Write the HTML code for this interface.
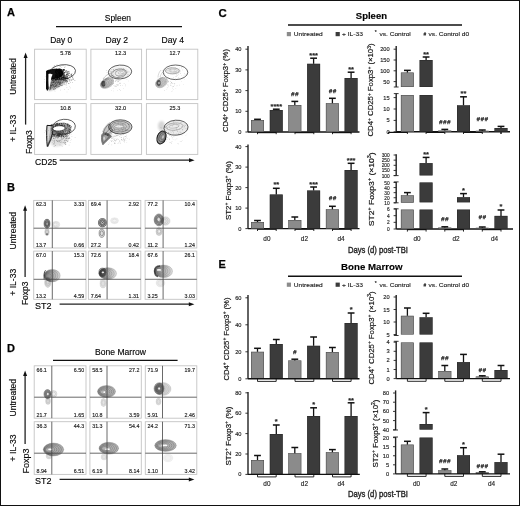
<!DOCTYPE html>
<html><head><meta charset="utf-8"><style>
html,body{margin:0;padding:0;background:#fff;}
.fig{position:relative;width:520px;height:506px;box-sizing:border-box;border:1px solid #111;overflow:hidden;background:#fff;filter:grayscale(1) blur(0.3px);}
svg{position:absolute;left:-1px;top:-1px;}
text{font-family:"Liberation Sans", sans-serif;}
</style></head><body>
<div class="fig"><svg width="520" height="506" viewBox="0 0 520 506" font-family='"Liberation Sans", sans-serif'>
<defs>
<linearGradient id="gLR" x1="0" y1="0" x2="1" y2="0"><stop offset="0" stop-color="#000" stop-opacity="0.5"/><stop offset="0.45" stop-color="#000" stop-opacity="0.28"/><stop offset="1" stop-color="#000" stop-opacity="0.04"/></linearGradient>
<filter id="b05" x="-50%" y="-50%" width="200%" height="200%"><feGaussianBlur stdDeviation="0.5"/></filter>
<filter id="b1" x="-50%" y="-50%" width="200%" height="200%"><feGaussianBlur stdDeviation="1"/></filter>
<filter id="b15" x="-50%" y="-50%" width="200%" height="200%"><feGaussianBlur stdDeviation="1.5"/></filter>
<filter id="b2" x="-50%" y="-50%" width="200%" height="200%"><feGaussianBlur stdDeviation="2"/></filter>
<filter id="b3" x="-50%" y="-50%" width="200%" height="200%"><feGaussianBlur stdDeviation="3"/></filter>
<filter id="grain" x="-20%" y="-20%" width="140%" height="140%" filterUnits="objectBoundingBox">
<feTurbulence type="fractalNoise" baseFrequency="1.1" numOctaves="1" seed="7" result="n"/>
<feColorMatrix in="n" type="matrix" values="0 0 0 0 0  0 0 0 0 0  0 0 0 0 0  0 0 0 3 -1.1" result="nm"/>
<feComposite in="SourceGraphic" in2="nm" operator="in"/>
</filter>
<filter id="gr" x="-30%" y="-30%" width="160%" height="160%">
<feGaussianBlur in="SourceGraphic" stdDeviation="1.1" result="b"/>
<feTurbulence type="fractalNoise" baseFrequency="2.2" numOctaves="1" seed="3" result="n"/>
<feColorMatrix in="n" type="matrix" values="0 0 0 0 0  0 0 0 0 0  0 0 0 0 0  0 0 0 2.2 -0.6" result="nm"/>
<feComposite in="b" in2="nm" operator="in"/>
</filter>
</defs>
<text x="6.9" y="16.1" font-size="11" stroke="#111" stroke-width="0.25" font-weight="bold" >A</text>
<text x="104.8" y="21.2" font-size="8.6" stroke="#111" stroke-width="0.14" textLength="26.2" lengthAdjust="spacingAndGlyphs" >Spleen</text>
<line x1="56" y1="26.5" x2="182" y2="26.5" stroke="#111" stroke-width="1.25"/>
<text x="50.2" y="42.9" font-size="8.4" stroke="#111" stroke-width="0.14" textLength="21.9" lengthAdjust="spacingAndGlyphs" >Day 0</text>
<text x="105.6" y="42.9" font-size="8.4" stroke="#111" stroke-width="0.14" textLength="22.4" lengthAdjust="spacingAndGlyphs" >Day 2</text>
<text x="161.6" y="42.9" font-size="8.4" stroke="#111" stroke-width="0.14" textLength="22.4" lengthAdjust="spacingAndGlyphs" >Day 4</text>
<rect x="34.6" y="49.2" width="51.6" height="50.39999999999999" fill="none" stroke="#c4c4c4" stroke-width="0.9"/>
<rect x="90.9" y="49.2" width="50.69999999999999" height="50.39999999999999" fill="none" stroke="#c4c4c4" stroke-width="0.9"/>
<rect x="146.4" y="49.2" width="51.400000000000006" height="50.39999999999999" fill="none" stroke="#c4c4c4" stroke-width="0.9"/>
<rect x="34.6" y="103.6" width="51.6" height="50.80000000000001" fill="none" stroke="#c4c4c4" stroke-width="0.9"/>
<rect x="90.9" y="103.6" width="50.69999999999999" height="50.80000000000001" fill="none" stroke="#c4c4c4" stroke-width="0.9"/>
<rect x="146.4" y="103.6" width="51.400000000000006" height="50.80000000000001" fill="none" stroke="#c4c4c4" stroke-width="0.9"/>
<line x1="25.6" y1="56.4" x2="25.6" y2="124.6" stroke="#222" stroke-width="1.3"/>
<path d="M23.6,58.0 L25.6,52.4 L27.6,58.0 Z" fill="#111"/>
<text x="15.988" y="76.4" font-size="8.3" stroke="#111" stroke-width="0.14" text-anchor="middle" textLength="36.5" lengthAdjust="spacingAndGlyphs" transform="rotate(-90 15.988 76.4)" >Untreated</text>
<text x="15.952" y="128.3" font-size="8.2" stroke="#111" stroke-width="0.14" text-anchor="middle" textLength="27" lengthAdjust="spacingAndGlyphs" transform="rotate(-90 15.952 128.3)" >+ IL-33</text>
<text x="31.552" y="142.1" font-size="8.2" stroke="#111" stroke-width="0.14" text-anchor="middle" textLength="23.8" lengthAdjust="spacingAndGlyphs" transform="rotate(-90 31.552 142.1)" >Foxp3</text>
<text x="35" y="165.2" font-size="8.5" stroke="#111" stroke-width="0.14" textLength="22" lengthAdjust="spacingAndGlyphs" >CD25</text>
<line x1="59.6" y1="160.2" x2="190.6" y2="160.2" stroke="#222" stroke-width="1.3"/>
<path d="M189.0,158.2 L194.6,160.2 L189.0,162.2 Z" fill="#111"/>
<text x="60.2" y="55.1" font-size="5.3" stroke="#1a1a1a" stroke-width="0.14" textLength="10.700000000000003" lengthAdjust="spacingAndGlyphs" fill="#1a1a1a" >5.78</text>
<text x="115.1" y="55.1" font-size="5.3" stroke="#1a1a1a" stroke-width="0.14" textLength="11.100000000000009" lengthAdjust="spacingAndGlyphs" fill="#1a1a1a" >12.3</text>
<text x="169.6" y="55.1" font-size="5.3" stroke="#1a1a1a" stroke-width="0.14" textLength="10.599999999999994" lengthAdjust="spacingAndGlyphs" fill="#1a1a1a" >12.7</text>
<text x="60.2" y="109.5" font-size="5.3" stroke="#1a1a1a" stroke-width="0.14" textLength="10.700000000000003" lengthAdjust="spacingAndGlyphs" fill="#1a1a1a" >10.8</text>
<text x="115.1" y="109.5" font-size="5.3" stroke="#1a1a1a" stroke-width="0.14" textLength="11.100000000000009" lengthAdjust="spacingAndGlyphs" fill="#1a1a1a" >32.0</text>
<text x="169.6" y="109.5" font-size="5.3" stroke="#1a1a1a" stroke-width="0.14" textLength="10.599999999999994" lengthAdjust="spacingAndGlyphs" fill="#1a1a1a" >25.3</text>
<path d="M62.6,72.1h0.6v0.6h-0.6zM58.9,84.3h0.6v0.6h-0.6zM50.9,72.8h0.6v0.6h-0.6zM53.2,85.0h0.6v0.6h-0.6zM46.8,87.0h0.6v0.6h-0.6zM55.7,79.3h0.6v0.6h-0.6zM54.4,83.6h0.6v0.6h-0.6zM56.9,72.4h0.6v0.6h-0.6zM57.8,74.9h0.6v0.6h-0.6zM65.8,84.3h0.6v0.6h-0.6zM72.2,77.3h0.6v0.6h-0.6zM56.1,78.0h0.6v0.6h-0.6zM56.9,84.4h0.6v0.6h-0.6zM44.2,79.1h0.6v0.6h-0.6zM61.1,76.0h0.6v0.6h-0.6zM44.3,81.7h0.6v0.6h-0.6zM48.8,84.8h0.6v0.6h-0.6zM67.3,76.4h0.6v0.6h-0.6zM64.9,79.4h0.6v0.6h-0.6zM60.0,89.8h0.6v0.6h-0.6zM54.0,89.6h0.6v0.6h-0.6zM66.1,84.8h0.6v0.6h-0.6zM45.0,76.0h0.6v0.6h-0.6zM66.6,87.1h0.6v0.6h-0.6zM69.9,87.6h0.6v0.6h-0.6zM48.5,71.6h0.6v0.6h-0.6zM69.4,86.2h0.6v0.6h-0.6zM72.6,78.6h0.6v0.6h-0.6zM54.8,68.8h0.6v0.6h-0.6zM61.6,84.9h0.6v0.6h-0.6zM55.2,68.5h0.6v0.6h-0.6zM52.9,88.4h0.6v0.6h-0.6zM52.0,72.3h0.6v0.6h-0.6zM72.8,75.3h0.6v0.6h-0.6zM47.1,84.0h0.6v0.6h-0.6zM64.3,89.3h0.6v0.6h-0.6zM58.7,81.8h0.6v0.6h-0.6zM69.7,73.2h0.6v0.6h-0.6zM52.7,84.2h0.6v0.6h-0.6zM61.7,80.9h0.6v0.6h-0.6zM54.7,91.4h0.6v0.6h-0.6zM53.2,84.7h0.6v0.6h-0.6zM72.6,77.4h0.6v0.6h-0.6zM47.9,75.9h0.6v0.6h-0.6zM55.8,78.6h0.6v0.6h-0.6zM65.3,84.6h0.6v0.6h-0.6zM66.0,76.5h0.6v0.6h-0.6zM65.2,81.3h0.6v0.6h-0.6zM48.1,81.2h0.6v0.6h-0.6zM54.2,84.6h0.6v0.6h-0.6zM67.5,73.3h0.6v0.6h-0.6zM57.9,78.8h0.6v0.6h-0.6zM67.7,78.4h0.6v0.6h-0.6zM65.3,74.0h0.6v0.6h-0.6zM66.7,91.7h0.6v0.6h-0.6zM68.7,79.1h0.6v0.6h-0.6zM45.9,77.7h0.6v0.6h-0.6zM58.5,74.1h0.6v0.6h-0.6zM63.7,70.7h0.6v0.6h-0.6zM67.9,89.3h0.6v0.6h-0.6zM46.0,85.0h0.6v0.6h-0.6zM52.5,83.6h0.6v0.6h-0.6zM69.5,75.8h0.6v0.6h-0.6zM67.4,70.8h0.6v0.6h-0.6zM66.8,77.8h0.6v0.6h-0.6zM52.5,73.2h0.6v0.6h-0.6zM50.9,87.7h0.6v0.6h-0.6zM47.1,73.0h0.6v0.6h-0.6zM50.2,71.1h0.6v0.6h-0.6zM67.4,82.3h0.6v0.6h-0.6z" fill="#000" opacity="0.22"/>
<path d="M103.4,82.8h0.6v0.6h-0.6zM104.1,85.1h0.6v0.6h-0.6zM117.2,77.2h0.6v0.6h-0.6zM117.5,81.6h0.6v0.6h-0.6zM100.3,80.7h0.6v0.6h-0.6zM117.6,80.5h0.6v0.6h-0.6zM125.4,85.6h0.6v0.6h-0.6zM110.3,73.4h0.6v0.6h-0.6zM102.8,87.4h0.6v0.6h-0.6zM119.7,82.6h0.6v0.6h-0.6zM112.3,80.0h0.6v0.6h-0.6zM105.7,80.7h0.6v0.6h-0.6zM103.4,82.9h0.6v0.6h-0.6zM117.9,84.1h0.6v0.6h-0.6zM106.4,70.2h0.6v0.6h-0.6zM109.0,84.5h0.6v0.6h-0.6zM114.3,85.9h0.6v0.6h-0.6zM111.9,77.6h0.6v0.6h-0.6zM105.2,82.1h0.6v0.6h-0.6zM117.9,78.4h0.6v0.6h-0.6zM115.7,78.6h0.6v0.6h-0.6zM119.1,89.3h0.6v0.6h-0.6zM123.8,83.3h0.6v0.6h-0.6zM113.1,90.7h0.6v0.6h-0.6zM112.4,83.0h0.6v0.6h-0.6zM125.1,84.4h0.6v0.6h-0.6zM110.7,85.8h0.6v0.6h-0.6zM117.0,90.0h0.6v0.6h-0.6zM117.7,80.8h0.6v0.6h-0.6zM128.2,80.7h0.6v0.6h-0.6zM111.0,90.5h0.6v0.6h-0.6zM125.5,77.2h0.6v0.6h-0.6zM106.6,84.4h0.6v0.6h-0.6zM112.4,83.9h0.6v0.6h-0.6zM105.6,78.0h0.6v0.6h-0.6zM103.3,79.5h0.6v0.6h-0.6zM105.9,69.9h0.6v0.6h-0.6zM110.7,71.6h0.6v0.6h-0.6zM111.5,75.6h0.6v0.6h-0.6zM120.8,77.9h0.6v0.6h-0.6zM106.3,72.5h0.6v0.6h-0.6zM107.9,85.8h0.6v0.6h-0.6zM105.0,79.2h0.6v0.6h-0.6zM123.2,87.9h0.6v0.6h-0.6zM112.9,88.2h0.6v0.6h-0.6zM118.3,73.4h0.6v0.6h-0.6zM122.7,77.4h0.6v0.6h-0.6zM126.6,79.3h0.6v0.6h-0.6zM105.6,83.6h0.6v0.6h-0.6zM120.1,90.1h0.6v0.6h-0.6zM118.1,79.4h0.6v0.6h-0.6zM124.1,74.6h0.6v0.6h-0.6zM122.4,85.5h0.6v0.6h-0.6zM103.3,78.8h0.6v0.6h-0.6zM117.1,79.6h0.6v0.6h-0.6z" fill="#000" opacity="0.2"/>
<path d="M184.4,79.0h0.6v0.6h-0.6zM176.6,85.6h0.6v0.6h-0.6zM173.1,70.9h0.6v0.6h-0.6zM166.5,89.4h0.6v0.6h-0.6zM161.8,70.6h0.6v0.6h-0.6zM158.8,80.6h0.6v0.6h-0.6zM160.5,77.8h0.6v0.6h-0.6zM177.0,85.4h0.6v0.6h-0.6zM167.5,86.9h0.6v0.6h-0.6zM172.2,87.8h0.6v0.6h-0.6zM162.5,76.9h0.6v0.6h-0.6zM172.4,90.7h0.6v0.6h-0.6zM173.6,79.4h0.6v0.6h-0.6zM162.5,74.8h0.6v0.6h-0.6zM170.9,85.0h0.6v0.6h-0.6zM163.9,79.6h0.6v0.6h-0.6zM159.4,78.1h0.6v0.6h-0.6zM162.6,70.4h0.6v0.6h-0.6zM179.4,84.8h0.6v0.6h-0.6zM157.7,79.6h0.6v0.6h-0.6zM171.9,86.5h0.6v0.6h-0.6zM176.3,75.0h0.6v0.6h-0.6zM171.5,82.3h0.6v0.6h-0.6zM166.8,87.7h0.6v0.6h-0.6zM168.3,86.0h0.6v0.6h-0.6zM156.9,78.7h0.6v0.6h-0.6zM156.3,83.5h0.6v0.6h-0.6zM181.2,81.0h0.6v0.6h-0.6zM172.0,82.9h0.6v0.6h-0.6zM161.9,77.3h0.6v0.6h-0.6zM172.4,83.5h0.6v0.6h-0.6zM166.4,79.5h0.6v0.6h-0.6zM164.9,81.3h0.6v0.6h-0.6zM175.3,75.9h0.6v0.6h-0.6zM175.5,88.4h0.6v0.6h-0.6zM171.1,91.5h0.6v0.6h-0.6zM164.3,90.1h0.6v0.6h-0.6zM160.5,76.7h0.6v0.6h-0.6zM173.4,88.9h0.6v0.6h-0.6zM183.3,84.4h0.6v0.6h-0.6zM165.4,76.0h0.6v0.6h-0.6zM173.9,69.6h0.6v0.6h-0.6zM173.8,71.9h0.6v0.6h-0.6zM167.9,74.9h0.6v0.6h-0.6zM181.1,74.9h0.6v0.6h-0.6z" fill="#000" opacity="0.18"/>
<path d="M67.4,126.9h0.6v0.6h-0.6zM54.6,139.6h0.6v0.6h-0.6zM47.8,138.0h0.6v0.6h-0.6zM54.6,137.8h0.6v0.6h-0.6zM71.6,136.1h0.6v0.6h-0.6zM56.5,129.4h0.6v0.6h-0.6zM63.9,137.3h0.6v0.6h-0.6zM57.1,133.1h0.6v0.6h-0.6zM61.2,127.7h0.6v0.6h-0.6zM49.8,135.8h0.6v0.6h-0.6zM47.2,136.5h0.6v0.6h-0.6zM69.7,142.5h0.6v0.6h-0.6zM52.1,131.8h0.6v0.6h-0.6zM73.5,130.1h0.6v0.6h-0.6zM65.4,141.9h0.6v0.6h-0.6zM61.5,137.5h0.6v0.6h-0.6zM49.7,134.6h0.6v0.6h-0.6zM45.3,130.8h0.6v0.6h-0.6zM48.6,125.2h0.6v0.6h-0.6zM64.0,123.2h0.6v0.6h-0.6zM70.0,127.3h0.6v0.6h-0.6zM46.3,137.1h0.6v0.6h-0.6zM67.0,137.4h0.6v0.6h-0.6zM61.5,134.9h0.6v0.6h-0.6zM67.0,129.1h0.6v0.6h-0.6zM71.0,139.0h0.6v0.6h-0.6zM70.9,134.5h0.6v0.6h-0.6zM60.7,140.1h0.6v0.6h-0.6zM62.5,121.7h0.6v0.6h-0.6zM59.5,132.8h0.6v0.6h-0.6zM47.0,136.0h0.6v0.6h-0.6zM62.9,142.1h0.6v0.6h-0.6zM63.6,129.0h0.6v0.6h-0.6zM62.1,145.9h0.6v0.6h-0.6zM64.4,142.9h0.6v0.6h-0.6zM50.8,125.2h0.6v0.6h-0.6zM54.6,125.6h0.6v0.6h-0.6zM51.4,127.5h0.6v0.6h-0.6zM60.2,127.0h0.6v0.6h-0.6zM61.0,127.2h0.6v0.6h-0.6zM50.3,133.7h0.6v0.6h-0.6zM62.0,131.3h0.6v0.6h-0.6zM61.6,145.6h0.6v0.6h-0.6zM59.8,131.2h0.6v0.6h-0.6zM50.9,130.9h0.6v0.6h-0.6zM68.8,136.9h0.6v0.6h-0.6zM52.8,144.4h0.6v0.6h-0.6zM48.3,130.3h0.6v0.6h-0.6zM68.8,144.8h0.6v0.6h-0.6zM58.7,121.3h0.6v0.6h-0.6zM61.9,132.1h0.6v0.6h-0.6zM44.9,130.1h0.6v0.6h-0.6zM49.7,125.3h0.6v0.6h-0.6zM69.5,129.0h0.6v0.6h-0.6zM65.9,138.6h0.6v0.6h-0.6zM44.4,132.4h0.6v0.6h-0.6zM47.8,141.8h0.6v0.6h-0.6zM59.7,130.6h0.6v0.6h-0.6zM70.0,142.4h0.6v0.6h-0.6zM54.3,129.1h0.6v0.6h-0.6zM58.1,132.1h0.6v0.6h-0.6zM74.8,137.1h0.6v0.6h-0.6zM51.5,135.8h0.6v0.6h-0.6zM49.1,136.2h0.6v0.6h-0.6zM53.7,144.3h0.6v0.6h-0.6zM51.0,126.4h0.6v0.6h-0.6zM51.9,142.4h0.6v0.6h-0.6zM70.5,140.4h0.6v0.6h-0.6zM62.4,124.8h0.6v0.6h-0.6zM53.1,136.7h0.6v0.6h-0.6z" fill="#000" opacity="0.22"/>
<path d="M127.3,130.4h0.6v0.6h-0.6zM110.4,140.4h0.6v0.6h-0.6zM111.0,125.9h0.6v0.6h-0.6zM111.4,140.0h0.6v0.6h-0.6zM105.4,137.8h0.6v0.6h-0.6zM111.5,126.1h0.6v0.6h-0.6zM113.9,131.3h0.6v0.6h-0.6zM114.8,143.1h0.6v0.6h-0.6zM116.8,128.0h0.6v0.6h-0.6zM119.7,124.8h0.6v0.6h-0.6zM125.7,140.4h0.6v0.6h-0.6zM112.8,134.8h0.6v0.6h-0.6zM116.1,140.2h0.6v0.6h-0.6zM119.8,141.8h0.6v0.6h-0.6zM116.5,136.2h0.6v0.6h-0.6zM128.9,138.8h0.6v0.6h-0.6zM104.7,132.1h0.6v0.6h-0.6zM109.7,128.3h0.6v0.6h-0.6zM115.4,140.8h0.6v0.6h-0.6zM118.5,122.3h0.6v0.6h-0.6zM127.0,129.7h0.6v0.6h-0.6zM122.7,132.8h0.6v0.6h-0.6zM118.5,142.4h0.6v0.6h-0.6zM120.7,123.8h0.6v0.6h-0.6zM120.0,130.5h0.6v0.6h-0.6zM108.3,144.1h0.6v0.6h-0.6zM113.4,124.0h0.6v0.6h-0.6zM115.8,126.0h0.6v0.6h-0.6zM127.0,130.2h0.6v0.6h-0.6zM127.4,127.6h0.6v0.6h-0.6zM104.6,130.7h0.6v0.6h-0.6zM107.3,136.8h0.6v0.6h-0.6zM109.1,142.7h0.6v0.6h-0.6zM115.6,138.4h0.6v0.6h-0.6zM126.1,134.8h0.6v0.6h-0.6zM115.1,122.2h0.6v0.6h-0.6zM106.0,138.6h0.6v0.6h-0.6zM123.8,135.9h0.6v0.6h-0.6zM126.5,142.5h0.6v0.6h-0.6zM123.5,137.9h0.6v0.6h-0.6zM111.5,130.7h0.6v0.6h-0.6zM106.7,137.4h0.6v0.6h-0.6zM111.2,141.4h0.6v0.6h-0.6zM108.0,128.3h0.6v0.6h-0.6zM103.6,128.7h0.6v0.6h-0.6zM124.3,141.8h0.6v0.6h-0.6zM121.6,135.5h0.6v0.6h-0.6zM111.5,144.6h0.6v0.6h-0.6zM121.5,129.5h0.6v0.6h-0.6zM125.9,132.6h0.6v0.6h-0.6zM115.1,133.4h0.6v0.6h-0.6zM115.3,122.6h0.6v0.6h-0.6zM125.6,129.3h0.6v0.6h-0.6zM114.5,126.2h0.6v0.6h-0.6zM118.0,123.7h0.6v0.6h-0.6zM127.4,138.4h0.6v0.6h-0.6zM122.7,124.2h0.6v0.6h-0.6zM114.5,139.7h0.6v0.6h-0.6zM123.3,132.8h0.6v0.6h-0.6zM103.3,131.1h0.6v0.6h-0.6z" fill="#000" opacity="0.2"/>
<path d="M178.3,143.6h0.6v0.6h-0.6zM181.2,141.3h0.6v0.6h-0.6zM167.9,132.8h0.6v0.6h-0.6zM176.6,138.6h0.6v0.6h-0.6zM179.4,128.7h0.6v0.6h-0.6zM171.5,125.3h0.6v0.6h-0.6zM165.2,133.8h0.6v0.6h-0.6zM159.2,130.4h0.6v0.6h-0.6zM181.5,126.3h0.6v0.6h-0.6zM170.0,122.9h0.6v0.6h-0.6zM179.1,124.4h0.6v0.6h-0.6zM162.5,139.9h0.6v0.6h-0.6zM170.3,135.3h0.6v0.6h-0.6zM175.3,133.9h0.6v0.6h-0.6zM169.7,125.7h0.6v0.6h-0.6zM161.3,126.9h0.6v0.6h-0.6zM164.3,129.7h0.6v0.6h-0.6zM183.8,127.1h0.6v0.6h-0.6zM160.9,128.5h0.6v0.6h-0.6zM161.0,141.9h0.6v0.6h-0.6zM185.6,135.2h0.6v0.6h-0.6zM170.6,131.2h0.6v0.6h-0.6zM176.6,127.7h0.6v0.6h-0.6zM172.7,131.3h0.6v0.6h-0.6zM177.1,142.9h0.6v0.6h-0.6zM176.7,125.3h0.6v0.6h-0.6zM174.8,139.6h0.6v0.6h-0.6zM173.1,123.6h0.6v0.6h-0.6zM159.8,134.9h0.6v0.6h-0.6zM178.5,133.9h0.6v0.6h-0.6zM178.9,135.2h0.6v0.6h-0.6zM181.7,127.2h0.6v0.6h-0.6zM181.9,140.0h0.6v0.6h-0.6zM160.4,127.4h0.6v0.6h-0.6zM165.8,140.9h0.6v0.6h-0.6zM176.1,123.6h0.6v0.6h-0.6zM179.1,129.4h0.6v0.6h-0.6zM182.9,128.7h0.6v0.6h-0.6zM160.1,130.0h0.6v0.6h-0.6zM170.8,132.3h0.6v0.6h-0.6zM173.1,124.6h0.6v0.6h-0.6zM186.6,133.7h0.6v0.6h-0.6zM165.6,126.0h0.6v0.6h-0.6zM161.7,138.0h0.6v0.6h-0.6zM172.8,139.0h0.6v0.6h-0.6zM182.4,129.8h0.6v0.6h-0.6zM179.9,141.3h0.6v0.6h-0.6zM181.8,134.8h0.6v0.6h-0.6zM162.7,135.8h0.6v0.6h-0.6zM173.6,136.7h0.6v0.6h-0.6z" fill="#000" opacity="0.18"/>
<ellipse cx="62.2" cy="72.2" rx="13.4" ry="7.4" fill="none" stroke="#333" stroke-width="0.75" transform="rotate(-8 62.2 72.2)"/>
<path d="M49,79 C54,77.5 62,77 67,76.5 C68.5,80 64,84 58,87 C54,89 51,90.5 48.5,90.5 Z" fill="#000" opacity="0.38" filter="url(#b1)"/>
<path d="M64.0,77.8h0.7v0.7h-0.7zM61.3,85.1h0.7v0.7h-0.7zM48.8,83.9h0.7v0.7h-0.7zM52.2,79.9h0.7v0.7h-0.7zM61.4,82.9h0.7v0.7h-0.7zM54.6,79.7h0.7v0.7h-0.7zM53.8,77.7h0.7v0.7h-0.7zM50.8,79.9h0.7v0.7h-0.7zM49.7,87.7h0.7v0.7h-0.7zM59.4,82.8h0.7v0.7h-0.7zM62.8,78.3h0.7v0.7h-0.7zM50.8,82.4h0.7v0.7h-0.7zM52.7,80.1h0.7v0.7h-0.7zM54.9,80.6h0.7v0.7h-0.7zM50.3,84.7h0.7v0.7h-0.7zM60.2,81.7h0.7v0.7h-0.7zM64.4,80.0h0.7v0.7h-0.7zM60.3,82.4h0.7v0.7h-0.7zM60.1,80.6h0.7v0.7h-0.7zM62.5,77.5h0.7v0.7h-0.7zM53.7,82.7h0.7v0.7h-0.7zM51.9,81.7h0.7v0.7h-0.7zM62.0,84.7h0.7v0.7h-0.7zM59.9,85.0h0.7v0.7h-0.7zM50.1,87.0h0.7v0.7h-0.7zM60.2,83.2h0.7v0.7h-0.7zM66.4,80.1h0.7v0.7h-0.7zM54.4,86.0h0.7v0.7h-0.7zM54.9,85.8h0.7v0.7h-0.7zM56.0,84.7h0.7v0.7h-0.7zM67.0,80.4h0.7v0.7h-0.7zM57.3,80.4h0.7v0.7h-0.7zM57.3,77.5h0.7v0.7h-0.7zM64.7,79.8h0.7v0.7h-0.7zM49.4,85.3h0.7v0.7h-0.7zM61.8,79.3h0.7v0.7h-0.7zM57.7,86.5h0.7v0.7h-0.7zM51.0,82.8h0.7v0.7h-0.7zM57.5,85.6h0.7v0.7h-0.7zM65.2,81.4h0.7v0.7h-0.7zM51.2,78.6h0.7v0.7h-0.7zM50.2,79.6h0.7v0.7h-0.7zM59.4,80.9h0.7v0.7h-0.7zM58.7,84.5h0.7v0.7h-0.7zM58.1,86.2h0.7v0.7h-0.7zM54.7,79.2h0.7v0.7h-0.7zM52.9,86.1h0.7v0.7h-0.7zM55.4,85.2h0.7v0.7h-0.7zM62.8,78.2h0.7v0.7h-0.7zM53.4,79.3h0.7v0.7h-0.7zM57.0,81.8h0.7v0.7h-0.7zM58.8,78.7h0.7v0.7h-0.7zM65.8,78.4h0.7v0.7h-0.7zM62.7,80.1h0.7v0.7h-0.7zM67.4,78.1h0.7v0.7h-0.7zM51.4,79.1h0.7v0.7h-0.7zM66.6,77.8h0.7v0.7h-0.7zM56.4,79.2h0.7v0.7h-0.7zM56.4,86.6h0.7v0.7h-0.7zM55.2,83.1h0.7v0.7h-0.7zM53.5,82.1h0.7v0.7h-0.7zM52.3,81.8h0.7v0.7h-0.7zM49.4,89.5h0.7v0.7h-0.7zM57.7,78.9h0.7v0.7h-0.7zM55.6,80.5h0.7v0.7h-0.7zM50.7,85.2h0.7v0.7h-0.7zM58.8,78.2h0.7v0.7h-0.7zM61.5,82.9h0.7v0.7h-0.7zM53.1,78.1h0.7v0.7h-0.7zM55.5,80.3h0.7v0.7h-0.7zM63.2,79.2h0.7v0.7h-0.7zM65.6,77.1h0.7v0.7h-0.7zM50.5,84.1h0.7v0.7h-0.7zM64.9,77.5h0.7v0.7h-0.7zM63.5,79.5h0.7v0.7h-0.7zM54.3,87.4h0.7v0.7h-0.7zM52.7,85.8h0.7v0.7h-0.7zM54.0,78.5h0.7v0.7h-0.7zM62.7,81.6h0.7v0.7h-0.7zM54.4,80.9h0.7v0.7h-0.7zM53.3,81.6h0.7v0.7h-0.7zM55.6,82.0h0.7v0.7h-0.7zM65.7,80.4h0.7v0.7h-0.7zM64.2,77.4h0.7v0.7h-0.7zM63.9,77.7h0.7v0.7h-0.7zM50.2,85.4h0.7v0.7h-0.7zM53.3,79.6h0.7v0.7h-0.7zM56.7,82.4h0.7v0.7h-0.7zM55.8,78.8h0.7v0.7h-0.7zM49.7,80.8h0.7v0.7h-0.7zM52.1,79.5h0.7v0.7h-0.7zM52.9,79.1h0.7v0.7h-0.7zM61.3,79.8h0.7v0.7h-0.7zM51.6,78.7h0.7v0.7h-0.7zM53.7,84.0h0.7v0.7h-0.7zM64.5,77.7h0.7v0.7h-0.7zM62.5,77.9h0.7v0.7h-0.7zM54.6,77.6h0.7v0.7h-0.7zM61.9,78.0h0.7v0.7h-0.7zM52.5,85.1h0.7v0.7h-0.7zM55.8,84.1h0.7v0.7h-0.7zM53.5,79.3h0.7v0.7h-0.7zM55.0,88.1h0.7v0.7h-0.7zM60.1,77.8h0.7v0.7h-0.7zM51.6,78.2h0.7v0.7h-0.7zM64.5,81.9h0.7v0.7h-0.7zM50.6,81.8h0.7v0.7h-0.7zM55.4,83.5h0.7v0.7h-0.7zM55.5,83.0h0.7v0.7h-0.7zM52.1,84.2h0.7v0.7h-0.7zM57.6,78.5h0.7v0.7h-0.7zM59.6,78.9h0.7v0.7h-0.7zM53.6,84.5h0.7v0.7h-0.7zM57.2,83.5h0.7v0.7h-0.7zM53.2,80.8h0.7v0.7h-0.7zM54.3,81.0h0.7v0.7h-0.7zM56.2,81.5h0.7v0.7h-0.7zM57.7,79.4h0.7v0.7h-0.7zM57.2,77.6h0.7v0.7h-0.7zM54.5,86.4h0.7v0.7h-0.7zM52.0,79.8h0.7v0.7h-0.7zM58.8,83.9h0.7v0.7h-0.7zM60.2,80.5h0.7v0.7h-0.7zM64.2,77.7h0.7v0.7h-0.7zM63.2,79.9h0.7v0.7h-0.7zM51.9,87.4h0.7v0.7h-0.7zM60.4,79.8h0.7v0.7h-0.7zM63.9,79.8h0.7v0.7h-0.7zM52.0,78.6h0.7v0.7h-0.7zM58.2,82.6h0.7v0.7h-0.7zM53.6,87.7h0.7v0.7h-0.7zM53.1,78.5h0.7v0.7h-0.7zM49.3,80.9h0.7v0.7h-0.7zM58.7,80.2h0.7v0.7h-0.7zM50.2,88.0h0.7v0.7h-0.7zM53.5,78.7h0.7v0.7h-0.7zM49.7,82.2h0.7v0.7h-0.7zM57.4,86.9h0.7v0.7h-0.7zM53.2,89.0h0.7v0.7h-0.7zM56.2,80.7h0.7v0.7h-0.7zM62.8,79.7h0.7v0.7h-0.7zM59.3,79.9h0.7v0.7h-0.7zM56.4,85.6h0.7v0.7h-0.7zM55.3,79.1h0.7v0.7h-0.7zM51.7,79.4h0.7v0.7h-0.7zM57.6,80.8h0.7v0.7h-0.7zM65.3,79.4h0.7v0.7h-0.7zM49.9,86.2h0.7v0.7h-0.7zM52.0,80.2h0.7v0.7h-0.7zM53.7,81.6h0.7v0.7h-0.7zM66.2,76.8h0.7v0.7h-0.7zM49.6,82.0h0.7v0.7h-0.7zM54.6,82.4h0.7v0.7h-0.7zM51.2,86.4h0.7v0.7h-0.7zM51.4,79.4h0.7v0.7h-0.7zM62.4,82.2h0.7v0.7h-0.7zM65.4,79.7h0.7v0.7h-0.7zM55.2,79.5h0.7v0.7h-0.7zM53.1,85.4h0.7v0.7h-0.7zM56.8,82.0h0.7v0.7h-0.7zM56.0,81.1h0.7v0.7h-0.7zM54.0,78.7h0.7v0.7h-0.7zM57.8,78.8h0.7v0.7h-0.7zM53.2,77.8h0.7v0.7h-0.7zM56.7,78.6h0.7v0.7h-0.7zM48.9,82.0h0.7v0.7h-0.7zM49.7,82.2h0.7v0.7h-0.7zM54.8,80.0h0.7v0.7h-0.7zM60.6,82.3h0.7v0.7h-0.7zM58.4,80.8h0.7v0.7h-0.7zM67.6,78.6h0.7v0.7h-0.7zM53.0,86.0h0.7v0.7h-0.7zM56.2,79.9h0.7v0.7h-0.7zM53.1,80.0h0.7v0.7h-0.7zM52.0,83.7h0.7v0.7h-0.7zM50.5,86.4h0.7v0.7h-0.7zM49.5,80.1h0.7v0.7h-0.7zM50.9,81.8h0.7v0.7h-0.7zM53.0,79.1h0.7v0.7h-0.7zM49.4,86.5h0.7v0.7h-0.7zM49.3,80.5h0.7v0.7h-0.7zM59.1,83.3h0.7v0.7h-0.7zM64.1,78.6h0.7v0.7h-0.7zM58.0,78.2h0.7v0.7h-0.7zM48.9,84.4h0.7v0.7h-0.7zM60.7,80.3h0.7v0.7h-0.7zM57.9,81.6h0.7v0.7h-0.7zM65.9,80.8h0.7v0.7h-0.7zM62.6,79.0h0.7v0.7h-0.7zM51.8,78.2h0.7v0.7h-0.7zM49.0,84.6h0.7v0.7h-0.7zM54.8,77.8h0.7v0.7h-0.7zM59.2,86.0h0.7v0.7h-0.7zM55.3,82.5h0.7v0.7h-0.7zM58.3,82.1h0.7v0.7h-0.7zM52.0,80.3h0.7v0.7h-0.7zM67.0,81.0h0.7v0.7h-0.7zM51.4,85.4h0.7v0.7h-0.7zM61.1,79.5h0.7v0.7h-0.7zM56.0,79.7h0.7v0.7h-0.7zM59.7,83.7h0.7v0.7h-0.7zM52.3,80.4h0.7v0.7h-0.7zM64.0,78.6h0.7v0.7h-0.7zM64.8,78.1h0.7v0.7h-0.7zM55.1,80.9h0.7v0.7h-0.7zM52.0,78.3h0.7v0.7h-0.7zM57.6,78.3h0.7v0.7h-0.7zM55.5,80.8h0.7v0.7h-0.7zM51.4,85.3h0.7v0.7h-0.7zM55.3,86.4h0.7v0.7h-0.7zM57.2,77.4h0.7v0.7h-0.7zM53.3,82.3h0.7v0.7h-0.7zM66.0,80.0h0.7v0.7h-0.7zM60.0,84.1h0.7v0.7h-0.7zM66.0,77.7h0.7v0.7h-0.7zM67.0,76.8h0.7v0.7h-0.7zM57.6,81.6h0.7v0.7h-0.7zM49.8,83.0h0.7v0.7h-0.7zM52.6,81.7h0.7v0.7h-0.7zM56.2,86.9h0.7v0.7h-0.7zM50.8,83.1h0.7v0.7h-0.7zM66.0,76.8h0.7v0.7h-0.7zM58.9,84.0h0.7v0.7h-0.7zM50.9,84.5h0.7v0.7h-0.7zM50.2,83.7h0.7v0.7h-0.7zM63.7,80.0h0.7v0.7h-0.7zM49.6,79.5h0.7v0.7h-0.7zM50.5,88.4h0.7v0.7h-0.7zM62.4,78.7h0.7v0.7h-0.7zM49.4,82.3h0.7v0.7h-0.7zM53.5,81.7h0.7v0.7h-0.7zM57.8,81.5h0.7v0.7h-0.7zM64.8,77.4h0.7v0.7h-0.7zM59.2,82.1h0.7v0.7h-0.7zM50.4,81.7h0.7v0.7h-0.7zM60.2,81.7h0.7v0.7h-0.7zM49.6,87.2h0.7v0.7h-0.7zM57.0,78.2h0.7v0.7h-0.7zM62.8,77.5h0.7v0.7h-0.7zM59.2,78.1h0.7v0.7h-0.7zM52.6,82.3h0.7v0.7h-0.7zM50.6,86.9h0.7v0.7h-0.7zM59.9,79.3h0.7v0.7h-0.7zM51.7,81.4h0.7v0.7h-0.7zM54.9,86.3h0.7v0.7h-0.7zM57.4,83.3h0.7v0.7h-0.7zM63.2,77.9h0.7v0.7h-0.7zM52.8,79.3h0.7v0.7h-0.7zM62.7,80.2h0.7v0.7h-0.7zM48.9,84.0h0.7v0.7h-0.7zM54.2,80.0h0.7v0.7h-0.7zM58.0,80.3h0.7v0.7h-0.7zM63.6,80.1h0.7v0.7h-0.7zM63.9,79.8h0.7v0.7h-0.7zM49.9,89.1h0.7v0.7h-0.7zM54.5,88.7h0.7v0.7h-0.7zM61.5,77.5h0.7v0.7h-0.7zM63.8,83.8h0.7v0.7h-0.7zM58.8,79.1h0.7v0.7h-0.7zM55.4,83.5h0.7v0.7h-0.7z" fill="#000" opacity="0.6"/>
<path d="M68.7,79.7h0.6v0.6h-0.6zM71.2,74.1h0.6v0.6h-0.6zM66.1,81.4h0.6v0.6h-0.6zM71.5,79.1h0.6v0.6h-0.6zM69.8,79.8h0.6v0.6h-0.6zM64.4,77.3h0.6v0.6h-0.6zM63.5,80.1h0.6v0.6h-0.6zM66.9,77.0h0.6v0.6h-0.6zM69.1,73.5h0.6v0.6h-0.6zM64.0,77.2h0.6v0.6h-0.6zM64.3,75.9h0.6v0.6h-0.6zM70.6,74.3h0.6v0.6h-0.6zM71.6,73.1h0.6v0.6h-0.6zM64.7,81.5h0.6v0.6h-0.6zM67.7,77.1h0.6v0.6h-0.6zM70.2,77.7h0.6v0.6h-0.6zM67.5,72.8h0.6v0.6h-0.6zM67.1,76.5h0.6v0.6h-0.6zM71.5,79.9h0.6v0.6h-0.6zM64.0,75.1h0.6v0.6h-0.6zM67.2,78.1h0.6v0.6h-0.6zM73.0,78.0h0.6v0.6h-0.6zM68.1,78.2h0.6v0.6h-0.6zM65.4,77.2h0.6v0.6h-0.6zM67.5,81.0h0.6v0.6h-0.6zM63.8,78.5h0.6v0.6h-0.6zM64.8,80.2h0.6v0.6h-0.6zM67.0,79.5h0.6v0.6h-0.6zM63.2,77.6h0.6v0.6h-0.6zM65.2,75.6h0.6v0.6h-0.6zM68.7,83.0h0.6v0.6h-0.6zM68.8,83.0h0.6v0.6h-0.6zM67.2,74.6h0.6v0.6h-0.6zM72.2,82.5h0.6v0.6h-0.6zM72.5,76.3h0.6v0.6h-0.6zM63.0,79.3h0.6v0.6h-0.6zM69.0,72.8h0.6v0.6h-0.6zM66.7,81.2h0.6v0.6h-0.6zM73.3,79.5h0.6v0.6h-0.6zM65.5,78.3h0.6v0.6h-0.6zM68.7,79.4h0.6v0.6h-0.6zM66.3,82.1h0.6v0.6h-0.6zM66.1,82.9h0.6v0.6h-0.6zM69.2,80.2h0.6v0.6h-0.6zM71.7,74.9h0.6v0.6h-0.6zM66.2,75.3h0.6v0.6h-0.6zM71.4,80.1h0.6v0.6h-0.6zM68.0,75.2h0.6v0.6h-0.6zM68.2,83.3h0.6v0.6h-0.6zM69.8,79.4h0.6v0.6h-0.6zM72.4,77.1h0.6v0.6h-0.6zM70.1,82.4h0.6v0.6h-0.6zM72.8,78.9h0.6v0.6h-0.6zM67.0,76.6h0.6v0.6h-0.6zM72.1,78.7h0.6v0.6h-0.6zM69.5,81.2h0.6v0.6h-0.6zM67.4,73.6h0.6v0.6h-0.6zM67.1,75.9h0.6v0.6h-0.6zM74.6,80.1h0.6v0.6h-0.6zM69.5,79.3h0.6v0.6h-0.6z" fill="#000" opacity="0.5"/>
<path d="M60.7,75.0h0.7v0.7h-0.7zM65.2,76.6h0.7v0.7h-0.7zM60.0,70.7h0.7v0.7h-0.7zM59.5,70.6h0.7v0.7h-0.7zM63.6,70.5h0.7v0.7h-0.7zM61.1,72.6h0.7v0.7h-0.7zM66.8,74.3h0.7v0.7h-0.7zM59.5,76.8h0.7v0.7h-0.7zM66.5,76.2h0.7v0.7h-0.7zM66.7,75.6h0.7v0.7h-0.7zM60.7,76.6h0.7v0.7h-0.7zM63.1,75.7h0.7v0.7h-0.7zM63.9,72.6h0.7v0.7h-0.7zM61.8,72.6h0.7v0.7h-0.7zM61.3,69.6h0.7v0.7h-0.7zM66.6,76.1h0.7v0.7h-0.7zM63.8,75.6h0.7v0.7h-0.7zM59.4,74.9h0.7v0.7h-0.7zM62.7,70.2h0.7v0.7h-0.7zM60.1,73.5h0.7v0.7h-0.7zM60.7,72.9h0.7v0.7h-0.7zM64.4,72.3h0.7v0.7h-0.7zM59.4,73.2h0.7v0.7h-0.7zM60.5,70.7h0.7v0.7h-0.7zM60.0,72.0h0.7v0.7h-0.7zM58.8,74.7h0.7v0.7h-0.7zM58.5,69.8h0.7v0.7h-0.7zM64.7,70.0h0.7v0.7h-0.7zM62.3,76.7h0.7v0.7h-0.7zM60.1,76.6h0.7v0.7h-0.7zM61.9,75.3h0.7v0.7h-0.7zM59.4,77.7h0.7v0.7h-0.7zM64.3,75.4h0.7v0.7h-0.7zM60.2,74.4h0.7v0.7h-0.7zM64.1,74.1h0.7v0.7h-0.7zM61.8,75.4h0.7v0.7h-0.7zM61.6,71.3h0.7v0.7h-0.7zM59.7,75.0h0.7v0.7h-0.7zM59.2,70.6h0.7v0.7h-0.7zM58.7,74.6h0.7v0.7h-0.7zM63.8,73.7h0.7v0.7h-0.7zM61.6,69.4h0.7v0.7h-0.7zM59.3,71.4h0.7v0.7h-0.7zM60.8,74.2h0.7v0.7h-0.7zM58.8,73.0h0.7v0.7h-0.7zM61.9,76.4h0.7v0.7h-0.7zM63.4,73.0h0.7v0.7h-0.7zM65.0,71.3h0.7v0.7h-0.7zM60.7,75.0h0.7v0.7h-0.7zM64.2,71.9h0.7v0.7h-0.7zM60.6,71.2h0.7v0.7h-0.7zM60.1,71.8h0.7v0.7h-0.7zM58.4,72.3h0.7v0.7h-0.7zM58.9,75.7h0.7v0.7h-0.7zM66.1,70.3h0.7v0.7h-0.7zM63.0,73.8h0.7v0.7h-0.7zM61.5,71.2h0.7v0.7h-0.7zM62.6,69.8h0.7v0.7h-0.7zM61.2,72.2h0.7v0.7h-0.7zM58.4,69.7h0.7v0.7h-0.7zM61.8,72.7h0.7v0.7h-0.7zM59.4,76.1h0.7v0.7h-0.7zM61.4,77.0h0.7v0.7h-0.7zM63.7,69.7h0.7v0.7h-0.7zM63.0,72.0h0.7v0.7h-0.7zM61.6,76.1h0.7v0.7h-0.7zM60.2,75.3h0.7v0.7h-0.7zM63.5,77.2h0.7v0.7h-0.7zM62.6,73.9h0.7v0.7h-0.7zM64.5,76.5h0.7v0.7h-0.7zM59.4,73.6h0.7v0.7h-0.7zM66.5,73.6h0.7v0.7h-0.7zM61.1,77.6h0.7v0.7h-0.7zM61.1,69.3h0.7v0.7h-0.7zM62.5,74.4h0.7v0.7h-0.7zM66.7,75.3h0.7v0.7h-0.7zM61.0,75.7h0.7v0.7h-0.7zM59.1,71.4h0.7v0.7h-0.7zM68.5,73.0h0.7v0.7h-0.7zM60.8,76.0h0.7v0.7h-0.7zM58.3,71.0h0.7v0.7h-0.7zM61.5,77.4h0.7v0.7h-0.7zM60.6,76.6h0.7v0.7h-0.7zM67.0,72.5h0.7v0.7h-0.7zM63.1,71.0h0.7v0.7h-0.7zM62.8,77.1h0.7v0.7h-0.7zM63.6,70.3h0.7v0.7h-0.7zM61.9,73.0h0.7v0.7h-0.7zM60.0,73.9h0.7v0.7h-0.7zM59.9,69.5h0.7v0.7h-0.7z" fill="#000" opacity="0.7"/>
<path d="M46.5,70.5 C50,68.8 56,68.3 60,68.9 C62.5,70 63.5,72 63.5,74 C63,76 61,77.3 58,78.3 C54,79 51,79.5 49,80.5 Z" fill="#000" opacity="0.92" filter="url(#b05)"/>
<path d="M56.8,75.8h0.7v0.7h-0.7zM59.2,76.2h0.7v0.7h-0.7zM60.0,75.6h0.7v0.7h-0.7zM58.7,77.9h0.7v0.7h-0.7zM59.3,76.9h0.7v0.7h-0.7zM57.5,74.2h0.7v0.7h-0.7zM57.7,75.3h0.7v0.7h-0.7zM60.6,69.2h0.7v0.7h-0.7zM69.4,75.6h0.7v0.7h-0.7zM64.7,75.1h0.7v0.7h-0.7zM56.6,77.7h0.7v0.7h-0.7zM58.2,73.1h0.7v0.7h-0.7zM68.2,73.7h0.7v0.7h-0.7zM59.6,68.6h0.7v0.7h-0.7zM56.9,73.9h0.7v0.7h-0.7zM62.9,75.6h0.7v0.7h-0.7zM62.5,73.5h0.7v0.7h-0.7zM56.1,69.8h0.7v0.7h-0.7zM62.0,72.0h0.7v0.7h-0.7zM60.0,70.3h0.7v0.7h-0.7zM62.7,71.0h0.7v0.7h-0.7zM55.6,71.6h0.7v0.7h-0.7zM60.9,71.0h0.7v0.7h-0.7zM57.4,70.4h0.7v0.7h-0.7zM65.0,78.1h0.7v0.7h-0.7zM63.4,77.3h0.7v0.7h-0.7zM61.3,78.6h0.7v0.7h-0.7zM62.7,71.9h0.7v0.7h-0.7zM56.7,70.4h0.7v0.7h-0.7zM57.3,71.1h0.7v0.7h-0.7zM59.2,72.2h0.7v0.7h-0.7zM57.1,70.7h0.7v0.7h-0.7zM58.7,75.2h0.7v0.7h-0.7zM60.8,78.3h0.7v0.7h-0.7zM61.7,71.1h0.7v0.7h-0.7zM56.0,75.6h0.7v0.7h-0.7zM68.1,71.6h0.7v0.7h-0.7zM61.3,74.6h0.7v0.7h-0.7zM62.4,76.7h0.7v0.7h-0.7zM59.1,75.6h0.7v0.7h-0.7zM55.0,79.0h0.7v0.7h-0.7zM61.6,73.1h0.7v0.7h-0.7zM57.3,78.5h0.7v0.7h-0.7zM63.6,77.2h0.7v0.7h-0.7zM61.9,70.4h0.7v0.7h-0.7zM63.6,69.6h0.7v0.7h-0.7zM58.9,71.0h0.7v0.7h-0.7zM59.1,69.3h0.7v0.7h-0.7zM58.0,72.3h0.7v0.7h-0.7zM61.3,74.7h0.7v0.7h-0.7zM68.7,71.6h0.7v0.7h-0.7zM59.5,78.0h0.7v0.7h-0.7zM57.5,73.9h0.7v0.7h-0.7zM63.0,75.1h0.7v0.7h-0.7zM63.4,69.0h0.7v0.7h-0.7zM64.7,78.0h0.7v0.7h-0.7zM61.6,73.4h0.7v0.7h-0.7zM55.3,71.6h0.7v0.7h-0.7zM57.8,70.4h0.7v0.7h-0.7zM56.9,77.4h0.7v0.7h-0.7zM61.4,74.7h0.7v0.7h-0.7zM57.2,77.5h0.7v0.7h-0.7zM56.8,73.4h0.7v0.7h-0.7zM61.4,69.0h0.7v0.7h-0.7zM67.9,75.1h0.7v0.7h-0.7zM56.0,72.3h0.7v0.7h-0.7zM56.7,73.8h0.7v0.7h-0.7zM57.5,78.4h0.7v0.7h-0.7zM66.5,71.5h0.7v0.7h-0.7zM57.0,70.9h0.7v0.7h-0.7zM58.4,70.6h0.7v0.7h-0.7zM58.9,68.4h0.7v0.7h-0.7zM58.8,77.0h0.7v0.7h-0.7zM55.0,77.4h0.7v0.7h-0.7zM63.3,78.4h0.7v0.7h-0.7zM59.0,68.8h0.7v0.7h-0.7zM60.1,69.6h0.7v0.7h-0.7zM55.5,78.7h0.7v0.7h-0.7zM62.0,71.4h0.7v0.7h-0.7zM63.9,76.9h0.7v0.7h-0.7zM61.4,72.4h0.7v0.7h-0.7zM58.9,75.8h0.7v0.7h-0.7zM61.4,72.2h0.7v0.7h-0.7zM55.9,72.7h0.7v0.7h-0.7zM57.9,68.7h0.7v0.7h-0.7zM60.4,73.7h0.7v0.7h-0.7zM55.2,70.7h0.7v0.7h-0.7zM55.3,74.1h0.7v0.7h-0.7zM56.6,72.9h0.7v0.7h-0.7zM55.2,75.1h0.7v0.7h-0.7zM60.3,68.7h0.7v0.7h-0.7zM59.1,78.6h0.7v0.7h-0.7zM55.0,72.1h0.7v0.7h-0.7zM56.0,69.1h0.7v0.7h-0.7zM65.0,72.4h0.7v0.7h-0.7zM57.2,72.5h0.7v0.7h-0.7zM59.0,78.2h0.7v0.7h-0.7zM56.4,75.2h0.7v0.7h-0.7zM56.8,73.5h0.7v0.7h-0.7zM59.8,74.2h0.7v0.7h-0.7zM59.2,73.4h0.7v0.7h-0.7zM62.8,76.4h0.7v0.7h-0.7zM65.7,78.2h0.7v0.7h-0.7zM60.3,75.6h0.7v0.7h-0.7zM59.4,74.9h0.7v0.7h-0.7zM57.8,70.4h0.7v0.7h-0.7zM66.3,74.0h0.7v0.7h-0.7zM61.8,77.1h0.7v0.7h-0.7zM64.0,73.4h0.7v0.7h-0.7zM61.8,70.1h0.7v0.7h-0.7zM55.5,74.4h0.7v0.7h-0.7zM59.2,76.9h0.7v0.7h-0.7zM61.6,78.6h0.7v0.7h-0.7zM58.5,72.7h0.7v0.7h-0.7zM66.0,74.5h0.7v0.7h-0.7zM62.9,69.7h0.7v0.7h-0.7zM58.6,78.4h0.7v0.7h-0.7zM57.0,70.8h0.7v0.7h-0.7zM64.5,75.7h0.7v0.7h-0.7zM64.4,75.8h0.7v0.7h-0.7zM56.9,69.3h0.7v0.7h-0.7zM60.6,69.7h0.7v0.7h-0.7zM62.2,71.4h0.7v0.7h-0.7zM56.2,70.3h0.7v0.7h-0.7zM64.3,69.0h0.7v0.7h-0.7zM56.3,72.8h0.7v0.7h-0.7zM59.8,78.4h0.7v0.7h-0.7zM56.0,68.6h0.7v0.7h-0.7zM55.6,69.8h0.7v0.7h-0.7zM57.5,71.3h0.7v0.7h-0.7zM65.0,77.4h0.7v0.7h-0.7zM63.6,76.3h0.7v0.7h-0.7zM56.7,78.7h0.7v0.7h-0.7zM59.7,76.1h0.7v0.7h-0.7zM62.2,77.1h0.7v0.7h-0.7zM56.2,69.9h0.7v0.7h-0.7zM70.9,74.5h0.7v0.7h-0.7zM58.9,74.3h0.7v0.7h-0.7zM57.2,69.1h0.7v0.7h-0.7zM58.7,70.5h0.7v0.7h-0.7zM59.7,78.4h0.7v0.7h-0.7zM58.0,68.9h0.7v0.7h-0.7zM56.7,77.1h0.7v0.7h-0.7zM59.6,73.3h0.7v0.7h-0.7zM55.4,70.5h0.7v0.7h-0.7zM63.3,76.6h0.7v0.7h-0.7zM56.0,70.9h0.7v0.7h-0.7zM60.3,71.1h0.7v0.7h-0.7zM60.3,75.0h0.7v0.7h-0.7zM56.3,73.4h0.7v0.7h-0.7zM56.2,78.3h0.7v0.7h-0.7zM62.8,74.6h0.7v0.7h-0.7zM55.1,72.5h0.7v0.7h-0.7zM56.6,77.1h0.7v0.7h-0.7zM71.1,74.4h0.7v0.7h-0.7zM63.6,74.1h0.7v0.7h-0.7zM61.4,74.6h0.7v0.7h-0.7zM55.2,76.3h0.7v0.7h-0.7zM61.4,74.2h0.7v0.7h-0.7zM57.6,74.0h0.7v0.7h-0.7zM65.9,71.7h0.7v0.7h-0.7zM62.6,77.5h0.7v0.7h-0.7zM57.5,75.9h0.7v0.7h-0.7zM57.1,70.9h0.7v0.7h-0.7zM62.8,71.0h0.7v0.7h-0.7zM63.9,72.4h0.7v0.7h-0.7zM64.6,75.3h0.7v0.7h-0.7zM57.1,76.4h0.7v0.7h-0.7zM61.4,74.5h0.7v0.7h-0.7zM67.4,71.6h0.7v0.7h-0.7zM57.1,78.2h0.7v0.7h-0.7zM61.3,77.9h0.7v0.7h-0.7zM61.4,69.4h0.7v0.7h-0.7zM61.6,70.0h0.7v0.7h-0.7zM57.0,69.5h0.7v0.7h-0.7zM59.3,74.3h0.7v0.7h-0.7zM62.8,73.0h0.7v0.7h-0.7zM58.5,75.6h0.7v0.7h-0.7zM58.5,69.1h0.7v0.7h-0.7zM60.6,77.5h0.7v0.7h-0.7zM55.7,74.0h0.7v0.7h-0.7zM58.5,75.6h0.7v0.7h-0.7zM63.7,69.7h0.7v0.7h-0.7zM58.7,70.3h0.7v0.7h-0.7zM59.4,72.6h0.7v0.7h-0.7zM59.4,72.1h0.7v0.7h-0.7zM56.8,75.0h0.7v0.7h-0.7zM58.0,77.3h0.7v0.7h-0.7zM57.5,76.6h0.7v0.7h-0.7zM58.8,73.0h0.7v0.7h-0.7zM59.3,72.1h0.7v0.7h-0.7zM56.7,76.2h0.7v0.7h-0.7zM56.4,76.2h0.7v0.7h-0.7zM60.7,72.1h0.7v0.7h-0.7zM62.6,70.4h0.7v0.7h-0.7zM55.9,75.0h0.7v0.7h-0.7zM66.9,73.9h0.7v0.7h-0.7zM56.2,73.8h0.7v0.7h-0.7zM60.1,74.0h0.7v0.7h-0.7zM58.2,73.5h0.7v0.7h-0.7zM59.2,70.1h0.7v0.7h-0.7zM55.7,75.5h0.7v0.7h-0.7zM58.8,73.7h0.7v0.7h-0.7zM56.5,73.7h0.7v0.7h-0.7zM58.4,69.6h0.7v0.7h-0.7zM63.0,69.1h0.7v0.7h-0.7zM55.1,70.5h0.7v0.7h-0.7zM61.5,75.6h0.7v0.7h-0.7zM59.0,75.5h0.7v0.7h-0.7zM55.0,71.6h0.7v0.7h-0.7zM57.0,76.1h0.7v0.7h-0.7zM70.8,75.2h0.7v0.7h-0.7zM60.0,69.8h0.7v0.7h-0.7zM57.3,76.1h0.7v0.7h-0.7zM62.5,68.9h0.7v0.7h-0.7zM59.3,74.1h0.7v0.7h-0.7zM58.6,72.1h0.7v0.7h-0.7zM60.2,76.6h0.7v0.7h-0.7zM55.8,75.4h0.7v0.7h-0.7zM61.1,69.9h0.7v0.7h-0.7zM61.1,75.6h0.7v0.7h-0.7zM59.5,75.1h0.7v0.7h-0.7zM63.5,75.6h0.7v0.7h-0.7zM55.7,77.0h0.7v0.7h-0.7zM58.0,72.2h0.7v0.7h-0.7zM55.3,75.8h0.7v0.7h-0.7zM56.4,76.7h0.7v0.7h-0.7zM56.7,73.0h0.7v0.7h-0.7zM60.7,73.2h0.7v0.7h-0.7zM60.6,73.2h0.7v0.7h-0.7z" fill="#000" opacity="0.8"/>
<path d="M61.8,65.0h0.6v0.6h-0.6zM64.1,67.3h0.6v0.6h-0.6zM53.8,65.8h0.6v0.6h-0.6zM61.3,65.5h0.6v0.6h-0.6zM54.2,65.3h0.6v0.6h-0.6zM62.8,65.3h0.6v0.6h-0.6zM64.8,66.6h0.6v0.6h-0.6zM53.7,66.3h0.6v0.6h-0.6zM56.7,64.6h0.6v0.6h-0.6zM59.0,65.9h0.6v0.6h-0.6zM59.1,68.4h0.6v0.6h-0.6zM60.3,66.1h0.6v0.6h-0.6zM57.8,68.5h0.6v0.6h-0.6zM61.0,67.5h0.6v0.6h-0.6z" fill="#000" opacity="0.35"/>
<path d="M46.1,71 L48.5,71 L48.7,89 L47.2,91 L46,88.5 Z" fill="#000" opacity="0.95" filter="url(#b05)"/>
<path d="M48.4,74 C49.5,73.4 51.6,73.8 52.6,74.6 C51.8,76 51.2,78 50.8,81 C50.4,84 49.9,86.5 49.1,88 C48.6,85 48.5,80 48.4,74 Z" fill="#fff" filter="url(#b05)"/>
<path d="M55,82 C58,80.5 62,80 65,80" fill="none" stroke="#fff" stroke-width="0.5" opacity="0.4"/>
<ellipse cx="119.5" cy="72.5" rx="10.5" ry="6" fill="#000" opacity="0.07" filter="url(#b1)"/>
<path d="M117.2,75.0h0.6v0.6h-0.6zM113.9,75.9h0.6v0.6h-0.6zM112.1,75.7h0.6v0.6h-0.6zM122.9,68.4h0.6v0.6h-0.6zM120.2,72.2h0.6v0.6h-0.6zM128.7,71.6h0.6v0.6h-0.6zM113.2,70.8h0.6v0.6h-0.6zM116.7,78.3h0.6v0.6h-0.6zM113.4,69.4h0.6v0.6h-0.6zM121.3,73.4h0.6v0.6h-0.6zM116.5,69.2h0.6v0.6h-0.6zM127.2,74.6h0.6v0.6h-0.6zM113.6,76.4h0.6v0.6h-0.6zM124.3,69.1h0.6v0.6h-0.6zM122.5,69.4h0.6v0.6h-0.6zM109.9,70.8h0.6v0.6h-0.6zM116.0,71.6h0.6v0.6h-0.6zM122.6,76.8h0.6v0.6h-0.6zM115.4,68.9h0.6v0.6h-0.6zM122.1,73.3h0.6v0.6h-0.6zM123.2,67.9h0.6v0.6h-0.6zM121.6,75.1h0.6v0.6h-0.6zM111.0,71.6h0.6v0.6h-0.6zM128.1,74.6h0.6v0.6h-0.6zM118.6,76.4h0.6v0.6h-0.6zM118.3,76.3h0.6v0.6h-0.6zM120.8,68.2h0.6v0.6h-0.6zM111.5,69.1h0.6v0.6h-0.6zM116.0,75.4h0.6v0.6h-0.6zM126.9,72.5h0.6v0.6h-0.6zM119.5,76.3h0.6v0.6h-0.6zM114.8,71.3h0.6v0.6h-0.6zM121.9,74.4h0.6v0.6h-0.6zM111.9,75.5h0.6v0.6h-0.6zM125.1,69.9h0.6v0.6h-0.6zM116.9,70.2h0.6v0.6h-0.6zM110.0,74.2h0.6v0.6h-0.6zM113.3,69.1h0.6v0.6h-0.6zM126.2,70.4h0.6v0.6h-0.6zM112.9,72.3h0.6v0.6h-0.6zM123.6,73.1h0.6v0.6h-0.6zM127.1,71.6h0.6v0.6h-0.6zM120.0,75.4h0.6v0.6h-0.6zM118.7,75.4h0.6v0.6h-0.6zM118.8,68.4h0.6v0.6h-0.6z" fill="#000" opacity="0.3"/>
<ellipse cx="120" cy="72" rx="11.7" ry="6.9" fill="none" stroke="#333" stroke-width="0.75" transform="rotate(-4 120 72)"/>
<ellipse cx="119" cy="73.3" rx="7.5" ry="4.2" fill="none" stroke="#555" stroke-width="0.55" transform="rotate(-8 119 73.3)"/>
<ellipse cx="120.3" cy="73" rx="5" ry="2.8" fill="none" stroke="#777" stroke-width="0.45" transform="rotate(-8 120.3 73)"/>
<ellipse cx="121" cy="72.8" rx="2.8" ry="1.4" fill="none" stroke="#999" stroke-width="0.4"/>
<path d="M103,79 C105,76 108,74 111,73 M105.5,79.5 C108,77 111,75.5 114,75" fill="none" stroke="#666" stroke-width="0.45" opacity="0.8"/>
<ellipse cx="107" cy="83" rx="7.2" ry="4.6" fill="#000" opacity="0.22" filter="url(#b05)" transform="rotate(-30 107 83)"/>
<ellipse cx="107.0" cy="83.0" rx="7.2" ry="4.6" fill="none" stroke="#222" stroke-width="0.45" opacity="0.4" transform="rotate(-30 107.0 83.0)"/>
<ellipse cx="106.36" cy="83.12" rx="6.05" ry="3.86" fill="none" stroke="#222" stroke-width="0.45" opacity="0.4" transform="rotate(-30 106.36 83.12)"/>
<ellipse cx="105.72" cy="83.24" rx="4.9" ry="3.13" fill="none" stroke="#222" stroke-width="0.45" opacity="0.4" transform="rotate(-30 105.72 83.24)"/>
<ellipse cx="105.08" cy="83.36" rx="3.74" ry="2.39" fill="none" stroke="#222" stroke-width="0.45" opacity="0.4" transform="rotate(-30 105.08 83.36)"/>
<ellipse cx="104.44" cy="83.48" rx="2.59" ry="1.66" fill="none" stroke="#222" stroke-width="0.45" opacity="0.4" transform="rotate(-30 104.44 83.48)"/>
<ellipse cx="103.4" cy="83.8" rx="2.0" ry="3.0" fill="#000" opacity="0.55" filter="url(#b05)"/>
<path d="M115.0,85.8h0.6v0.6h-0.6zM117.0,84.5h0.6v0.6h-0.6zM113.0,83.1h0.6v0.6h-0.6zM120.4,83.2h0.6v0.6h-0.6zM119.6,80.4h0.6v0.6h-0.6zM120.4,85.4h0.6v0.6h-0.6zM115.5,80.6h0.6v0.6h-0.6zM115.1,86.0h0.6v0.6h-0.6zM113.7,85.2h0.6v0.6h-0.6zM119.4,83.5h0.6v0.6h-0.6zM117.8,84.9h0.6v0.6h-0.6zM117.9,81.1h0.6v0.6h-0.6zM115.3,81.2h0.6v0.6h-0.6zM116.0,86.4h0.6v0.6h-0.6zM116.3,80.0h0.6v0.6h-0.6zM116.8,85.2h0.6v0.6h-0.6zM116.5,84.4h0.6v0.6h-0.6zM118.6,79.8h0.6v0.6h-0.6z" fill="#000" opacity="0.35"/>
<ellipse cx="173" cy="71" rx="8" ry="3.5" fill="#000" opacity="0.08" filter="url(#b05)"/>
<path d="M176.5,74.2h0.6v0.6h-0.6zM182.0,69.7h0.6v0.6h-0.6zM178.3,77.4h0.6v0.6h-0.6zM178.3,74.0h0.6v0.6h-0.6zM175.1,78.4h0.6v0.6h-0.6zM175.6,71.8h0.6v0.6h-0.6zM184.8,74.2h0.6v0.6h-0.6zM170.6,70.1h0.6v0.6h-0.6zM174.9,66.9h0.6v0.6h-0.6zM177.4,75.5h0.6v0.6h-0.6zM173.4,76.9h0.6v0.6h-0.6zM184.4,73.2h0.6v0.6h-0.6zM179.0,67.7h0.6v0.6h-0.6zM170.3,68.9h0.6v0.6h-0.6zM183.7,75.6h0.6v0.6h-0.6zM166.7,70.3h0.6v0.6h-0.6zM169.3,69.6h0.6v0.6h-0.6zM164.1,72.8h0.6v0.6h-0.6zM170.7,71.2h0.6v0.6h-0.6zM180.4,73.3h0.6v0.6h-0.6zM166.6,70.2h0.6v0.6h-0.6zM165.3,69.7h0.6v0.6h-0.6zM168.5,68.6h0.6v0.6h-0.6zM178.4,72.0h0.6v0.6h-0.6zM174.4,70.7h0.6v0.6h-0.6zM175.9,76.1h0.6v0.6h-0.6zM170.8,67.1h0.6v0.6h-0.6zM174.6,71.0h0.6v0.6h-0.6zM181.2,67.6h0.6v0.6h-0.6zM175.9,71.8h0.6v0.6h-0.6z" fill="#000" opacity="0.25"/>
<ellipse cx="175.5" cy="72.3" rx="12.3" ry="7.3" fill="none" stroke="#333" stroke-width="0.75"/>
<ellipse cx="172.3" cy="70.8" rx="7" ry="3" fill="none" stroke="#777" stroke-width="0.55"/>
<ellipse cx="173" cy="70.6" rx="4" ry="1.6" fill="none" stroke="#999" stroke-width="0.4"/>
<path d="M158,77.5 C158,75 159,72 161,70 M160,77 C161,74 162.5,72 164,71" fill="none" stroke="#888" stroke-width="0.45" opacity="0.7"/>
<ellipse cx="161.5" cy="82.5" rx="6.5" ry="4.6" fill="#000" opacity="0.18" filter="url(#b05)" transform="rotate(-35 161.5 82.5)"/>
<ellipse cx="161.5" cy="82.5" rx="6.5" ry="4.6" fill="none" stroke="#222" stroke-width="0.45" opacity="0.35" transform="rotate(-35 161.5 82.5)"/>
<ellipse cx="160.94" cy="82.6" rx="5.46" ry="3.86" fill="none" stroke="#222" stroke-width="0.45" opacity="0.35" transform="rotate(-35 160.94 82.6)"/>
<ellipse cx="160.38" cy="82.7" rx="4.42" ry="3.13" fill="none" stroke="#222" stroke-width="0.45" opacity="0.35" transform="rotate(-35 160.38 82.7)"/>
<ellipse cx="159.82" cy="82.8" rx="3.38" ry="2.39" fill="none" stroke="#222" stroke-width="0.45" opacity="0.35" transform="rotate(-35 159.82 82.8)"/>
<ellipse cx="159.26" cy="82.9" rx="2.34" ry="1.66" fill="none" stroke="#222" stroke-width="0.45" opacity="0.35" transform="rotate(-35 159.26 82.9)"/>
<ellipse cx="158.8" cy="83" rx="2.0" ry="3.0" fill="#000" opacity="0.5" filter="url(#b05)"/>
<ellipse cx="159" cy="83" rx="0.6" ry="1" fill="#fff" opacity="0.8"/>
<path d="M170.3,84.7h0.6v0.6h-0.6zM173.8,82.9h0.6v0.6h-0.6zM174.5,83.4h0.6v0.6h-0.6zM168.1,80.8h0.6v0.6h-0.6zM170.1,81.2h0.6v0.6h-0.6zM167.7,84.9h0.6v0.6h-0.6zM172.8,86.0h0.6v0.6h-0.6zM167.6,84.4h0.6v0.6h-0.6zM173.4,86.4h0.6v0.6h-0.6zM174.3,84.7h0.6v0.6h-0.6zM171.4,82.3h0.6v0.6h-0.6zM168.1,81.6h0.6v0.6h-0.6zM170.4,84.9h0.6v0.6h-0.6zM170.7,83.1h0.6v0.6h-0.6z" fill="#000" opacity="0.3"/>
<path d="M47,125.4 L52.7,125.7 C52,130 51,136 49.5,141 L47.3,146.7 C46.5,140 46.5,131 47,125.4 Z" fill="#000" opacity="0.15" filter="url(#b05)"/>
<path d="M52,134 C56,133 64,133 69,134 C70,139 66,144 60,146 C55,147 52,146 50,143 Z" fill="#000" opacity="0.12" filter="url(#b1)"/>
<path d="M59.6,136.0h0.6v0.6h-0.6zM66.2,140.2h0.6v0.6h-0.6zM57.4,141.2h0.6v0.6h-0.6zM65.9,136.3h0.6v0.6h-0.6zM62.3,133.5h0.6v0.6h-0.6zM60.0,134.6h0.6v0.6h-0.6zM57.4,135.2h0.6v0.6h-0.6zM61.0,137.8h0.6v0.6h-0.6zM67.3,136.3h0.6v0.6h-0.6zM64.6,134.7h0.6v0.6h-0.6zM67.8,138.7h0.6v0.6h-0.6zM57.7,133.4h0.6v0.6h-0.6zM59.9,139.9h0.6v0.6h-0.6zM65.0,136.1h0.6v0.6h-0.6zM61.1,141.7h0.6v0.6h-0.6zM56.9,141.4h0.6v0.6h-0.6zM67.7,139.9h0.6v0.6h-0.6zM54.9,145.3h0.6v0.6h-0.6zM59.7,144.7h0.6v0.6h-0.6zM55.2,137.1h0.6v0.6h-0.6zM53.4,134.0h0.6v0.6h-0.6zM64.9,139.7h0.6v0.6h-0.6zM64.6,133.4h0.6v0.6h-0.6zM67.6,141.4h0.6v0.6h-0.6zM60.7,136.9h0.6v0.6h-0.6zM67.0,141.2h0.6v0.6h-0.6zM68.1,134.9h0.6v0.6h-0.6zM58.9,135.0h0.6v0.6h-0.6zM63.1,134.8h0.6v0.6h-0.6zM56.5,139.9h0.6v0.6h-0.6zM53.3,135.6h0.6v0.6h-0.6zM64.2,140.7h0.6v0.6h-0.6zM65.5,144.1h0.6v0.6h-0.6zM59.3,133.9h0.6v0.6h-0.6zM53.5,143.0h0.6v0.6h-0.6zM63.9,137.4h0.6v0.6h-0.6zM55.9,140.0h0.6v0.6h-0.6zM69.0,134.4h0.6v0.6h-0.6zM61.2,133.9h0.6v0.6h-0.6zM69.5,138.0h0.6v0.6h-0.6zM62.4,133.3h0.6v0.6h-0.6zM58.9,140.2h0.6v0.6h-0.6zM58.0,136.2h0.6v0.6h-0.6zM58.7,136.5h0.6v0.6h-0.6zM54.7,138.4h0.6v0.6h-0.6zM51.7,139.7h0.6v0.6h-0.6zM64.0,142.6h0.6v0.6h-0.6zM68.3,138.4h0.6v0.6h-0.6zM56.3,137.4h0.6v0.6h-0.6zM52.9,140.7h0.6v0.6h-0.6zM59.2,134.5h0.6v0.6h-0.6zM64.1,135.9h0.6v0.6h-0.6zM62.8,142.5h0.6v0.6h-0.6zM69.0,137.5h0.6v0.6h-0.6zM66.9,135.1h0.6v0.6h-0.6zM54.0,141.4h0.6v0.6h-0.6zM58.7,141.6h0.6v0.6h-0.6zM53.5,138.4h0.6v0.6h-0.6zM53.8,146.5h0.6v0.6h-0.6zM64.1,133.3h0.6v0.6h-0.6zM60.9,134.3h0.6v0.6h-0.6zM60.6,133.7h0.6v0.6h-0.6zM58.1,140.7h0.6v0.6h-0.6zM64.9,143.6h0.6v0.6h-0.6zM56.8,136.8h0.6v0.6h-0.6zM60.2,142.5h0.6v0.6h-0.6zM55.4,133.8h0.6v0.6h-0.6zM53.2,134.5h0.6v0.6h-0.6zM64.6,140.3h0.6v0.6h-0.6zM66.5,136.0h0.6v0.6h-0.6zM65.1,142.1h0.6v0.6h-0.6zM67.7,138.1h0.6v0.6h-0.6zM58.1,135.5h0.6v0.6h-0.6zM66.3,138.1h0.6v0.6h-0.6zM61.6,133.4h0.6v0.6h-0.6zM54.2,134.5h0.6v0.6h-0.6zM52.5,136.4h0.6v0.6h-0.6zM63.0,136.5h0.6v0.6h-0.6zM57.6,139.9h0.6v0.6h-0.6zM60.8,139.4h0.6v0.6h-0.6zM57.5,138.5h0.6v0.6h-0.6zM59.7,133.8h0.6v0.6h-0.6zM66.5,140.0h0.6v0.6h-0.6zM65.0,138.2h0.6v0.6h-0.6zM51.5,137.3h0.6v0.6h-0.6zM63.6,137.1h0.6v0.6h-0.6zM54.4,142.6h0.6v0.6h-0.6zM63.0,138.2h0.6v0.6h-0.6zM52.8,133.8h0.6v0.6h-0.6zM58.3,134.7h0.6v0.6h-0.6zM63.1,133.3h0.6v0.6h-0.6zM61.9,139.2h0.6v0.6h-0.6zM69.2,138.2h0.6v0.6h-0.6zM62.7,138.1h0.6v0.6h-0.6zM60.3,136.1h0.6v0.6h-0.6zM51.7,139.9h0.6v0.6h-0.6zM66.0,137.6h0.6v0.6h-0.6zM54.3,133.7h0.6v0.6h-0.6zM54.4,134.6h0.6v0.6h-0.6zM51.7,136.4h0.6v0.6h-0.6zM51.9,135.9h0.6v0.6h-0.6zM65.7,133.5h0.6v0.6h-0.6zM53.3,137.8h0.6v0.6h-0.6zM65.1,135.1h0.6v0.6h-0.6zM59.5,140.8h0.6v0.6h-0.6zM54.0,139.9h0.6v0.6h-0.6zM58.5,135.8h0.6v0.6h-0.6zM63.3,136.2h0.6v0.6h-0.6zM57.5,136.9h0.6v0.6h-0.6zM53.3,138.5h0.6v0.6h-0.6z" fill="#000" opacity="0.5"/>
<path d="M50.5,124.5 C56,122.5 63,122.3 68,123.8 C71,125.5 71.5,129.5 69.5,133 C66,135.8 60,137 55,136.8 C52.5,136.5 51.5,134 51,131 Z" fill="#000" opacity="0.35" filter="url(#b05)"/>
<path d="M54.4,124.1h0.7v0.7h-0.7zM64.2,127.4h0.7v0.7h-0.7zM69.2,125.7h0.7v0.7h-0.7zM70.6,127.0h0.7v0.7h-0.7zM63.1,136.0h0.7v0.7h-0.7zM64.9,135.9h0.7v0.7h-0.7zM65.4,123.0h0.7v0.7h-0.7zM69.0,131.0h0.7v0.7h-0.7zM57.0,125.1h0.7v0.7h-0.7zM68.3,130.9h0.7v0.7h-0.7zM70.7,130.6h0.7v0.7h-0.7zM65.2,131.3h0.7v0.7h-0.7zM55.9,136.4h0.7v0.7h-0.7zM57.1,133.8h0.7v0.7h-0.7zM53.5,134.4h0.7v0.7h-0.7zM64.5,125.0h0.7v0.7h-0.7zM51.5,130.1h0.7v0.7h-0.7zM61.1,129.9h0.7v0.7h-0.7zM59.1,132.0h0.7v0.7h-0.7zM69.7,126.8h0.7v0.7h-0.7zM58.3,130.9h0.7v0.7h-0.7zM56.7,131.1h0.7v0.7h-0.7zM61.9,128.7h0.7v0.7h-0.7zM64.6,130.1h0.7v0.7h-0.7zM58.0,128.6h0.7v0.7h-0.7zM59.0,136.0h0.7v0.7h-0.7zM70.5,129.8h0.7v0.7h-0.7zM58.9,123.7h0.7v0.7h-0.7zM69.3,124.8h0.7v0.7h-0.7zM62.0,127.4h0.7v0.7h-0.7zM57.4,127.6h0.7v0.7h-0.7zM61.7,134.0h0.7v0.7h-0.7zM64.1,125.3h0.7v0.7h-0.7zM65.1,123.1h0.7v0.7h-0.7zM59.1,134.5h0.7v0.7h-0.7zM69.8,129.1h0.7v0.7h-0.7zM68.3,129.6h0.7v0.7h-0.7zM61.5,130.9h0.7v0.7h-0.7zM60.4,133.0h0.7v0.7h-0.7zM64.0,127.5h0.7v0.7h-0.7zM67.0,134.4h0.7v0.7h-0.7zM63.3,136.2h0.7v0.7h-0.7zM63.8,127.3h0.7v0.7h-0.7zM54.1,132.5h0.7v0.7h-0.7zM59.6,126.3h0.7v0.7h-0.7zM57.9,124.0h0.7v0.7h-0.7zM55.0,126.0h0.7v0.7h-0.7zM68.7,125.0h0.7v0.7h-0.7zM56.3,123.7h0.7v0.7h-0.7zM60.4,125.4h0.7v0.7h-0.7zM57.7,133.1h0.7v0.7h-0.7zM51.3,127.9h0.7v0.7h-0.7zM54.8,129.5h0.7v0.7h-0.7zM58.5,133.3h0.7v0.7h-0.7zM65.6,129.1h0.7v0.7h-0.7zM55.7,125.7h0.7v0.7h-0.7zM56.1,123.3h0.7v0.7h-0.7zM64.5,124.6h0.7v0.7h-0.7zM69.2,131.8h0.7v0.7h-0.7zM51.7,129.6h0.7v0.7h-0.7zM63.2,122.9h0.7v0.7h-0.7zM60.7,122.7h0.7v0.7h-0.7zM68.3,125.7h0.7v0.7h-0.7zM61.7,124.4h0.7v0.7h-0.7zM57.7,135.0h0.7v0.7h-0.7zM58.5,131.7h0.7v0.7h-0.7zM54.2,134.1h0.7v0.7h-0.7zM69.3,130.4h0.7v0.7h-0.7zM58.1,134.8h0.7v0.7h-0.7zM61.3,125.1h0.7v0.7h-0.7zM56.3,124.6h0.7v0.7h-0.7zM68.1,129.8h0.7v0.7h-0.7zM65.1,134.3h0.7v0.7h-0.7zM59.0,135.2h0.7v0.7h-0.7zM66.5,128.0h0.7v0.7h-0.7zM64.3,125.2h0.7v0.7h-0.7zM58.5,125.8h0.7v0.7h-0.7zM61.4,136.6h0.7v0.7h-0.7zM53.7,130.5h0.7v0.7h-0.7zM68.7,131.1h0.7v0.7h-0.7zM61.6,133.6h0.7v0.7h-0.7zM64.9,134.2h0.7v0.7h-0.7zM67.8,123.7h0.7v0.7h-0.7zM51.9,124.9h0.7v0.7h-0.7zM61.1,136.1h0.7v0.7h-0.7zM69.6,128.4h0.7v0.7h-0.7zM63.6,133.2h0.7v0.7h-0.7zM57.5,136.6h0.7v0.7h-0.7zM64.2,127.0h0.7v0.7h-0.7zM56.4,125.8h0.7v0.7h-0.7zM56.8,122.7h0.7v0.7h-0.7zM57.1,123.8h0.7v0.7h-0.7zM59.8,127.2h0.7v0.7h-0.7zM54.2,129.3h0.7v0.7h-0.7zM59.2,127.5h0.7v0.7h-0.7zM67.6,126.8h0.7v0.7h-0.7zM61.9,135.2h0.7v0.7h-0.7zM70.6,127.8h0.7v0.7h-0.7zM61.3,125.5h0.7v0.7h-0.7zM53.2,125.8h0.7v0.7h-0.7zM57.0,124.3h0.7v0.7h-0.7zM67.7,124.0h0.7v0.7h-0.7zM60.6,134.1h0.7v0.7h-0.7zM61.1,123.3h0.7v0.7h-0.7zM57.6,127.9h0.7v0.7h-0.7zM69.7,130.9h0.7v0.7h-0.7zM60.1,131.6h0.7v0.7h-0.7zM51.5,132.4h0.7v0.7h-0.7zM67.5,132.2h0.7v0.7h-0.7zM58.1,126.5h0.7v0.7h-0.7zM53.7,129.0h0.7v0.7h-0.7zM66.8,125.5h0.7v0.7h-0.7zM60.4,131.6h0.7v0.7h-0.7zM63.7,122.6h0.7v0.7h-0.7zM69.8,130.9h0.7v0.7h-0.7zM56.9,125.8h0.7v0.7h-0.7zM57.6,128.2h0.7v0.7h-0.7zM62.2,124.9h0.7v0.7h-0.7zM59.0,135.8h0.7v0.7h-0.7zM62.2,134.4h0.7v0.7h-0.7zM56.0,135.1h0.7v0.7h-0.7zM66.9,125.6h0.7v0.7h-0.7zM61.6,132.3h0.7v0.7h-0.7zM62.5,131.1h0.7v0.7h-0.7zM55.5,130.4h0.7v0.7h-0.7zM57.9,134.0h0.7v0.7h-0.7zM58.3,136.7h0.7v0.7h-0.7zM62.7,125.6h0.7v0.7h-0.7zM59.2,124.2h0.7v0.7h-0.7zM63.2,126.8h0.7v0.7h-0.7zM66.8,124.2h0.7v0.7h-0.7zM64.8,132.8h0.7v0.7h-0.7zM55.4,124.2h0.7v0.7h-0.7zM58.3,131.8h0.7v0.7h-0.7zM59.8,134.2h0.7v0.7h-0.7zM53.8,136.1h0.7v0.7h-0.7zM61.2,124.7h0.7v0.7h-0.7zM52.6,127.8h0.7v0.7h-0.7zM60.5,124.9h0.7v0.7h-0.7zM52.3,129.7h0.7v0.7h-0.7zM55.8,128.8h0.7v0.7h-0.7zM60.0,132.6h0.7v0.7h-0.7zM62.6,125.7h0.7v0.7h-0.7zM54.3,134.9h0.7v0.7h-0.7zM52.0,134.4h0.7v0.7h-0.7zM61.9,135.9h0.7v0.7h-0.7zM63.7,127.2h0.7v0.7h-0.7zM59.5,133.1h0.7v0.7h-0.7zM55.4,134.1h0.7v0.7h-0.7zM59.1,122.9h0.7v0.7h-0.7zM57.7,130.5h0.7v0.7h-0.7zM53.6,135.6h0.7v0.7h-0.7zM69.9,129.8h0.7v0.7h-0.7zM69.5,132.4h0.7v0.7h-0.7zM61.8,124.6h0.7v0.7h-0.7zM60.0,128.0h0.7v0.7h-0.7zM52.0,131.4h0.7v0.7h-0.7zM68.5,128.0h0.7v0.7h-0.7zM56.6,131.3h0.7v0.7h-0.7zM67.2,124.8h0.7v0.7h-0.7zM56.4,131.7h0.7v0.7h-0.7zM57.1,134.5h0.7v0.7h-0.7zM60.1,124.7h0.7v0.7h-0.7zM56.0,133.4h0.7v0.7h-0.7zM67.2,131.6h0.7v0.7h-0.7zM56.9,132.1h0.7v0.7h-0.7zM65.9,127.7h0.7v0.7h-0.7zM52.2,129.2h0.7v0.7h-0.7zM55.2,125.1h0.7v0.7h-0.7zM58.7,123.4h0.7v0.7h-0.7zM69.4,126.4h0.7v0.7h-0.7zM67.5,130.0h0.7v0.7h-0.7zM69.1,129.3h0.7v0.7h-0.7zM51.0,124.5h0.7v0.7h-0.7zM57.0,134.9h0.7v0.7h-0.7zM67.9,124.0h0.7v0.7h-0.7zM57.8,123.9h0.7v0.7h-0.7zM55.3,127.5h0.7v0.7h-0.7zM59.2,124.5h0.7v0.7h-0.7zM64.3,125.9h0.7v0.7h-0.7zM69.2,129.4h0.7v0.7h-0.7zM59.5,133.6h0.7v0.7h-0.7zM57.7,126.1h0.7v0.7h-0.7zM53.1,126.6h0.7v0.7h-0.7zM55.4,133.1h0.7v0.7h-0.7zM58.0,132.7h0.7v0.7h-0.7zM56.3,123.3h0.7v0.7h-0.7zM56.9,128.1h0.7v0.7h-0.7zM69.6,125.2h0.7v0.7h-0.7zM54.9,124.6h0.7v0.7h-0.7zM55.8,136.4h0.7v0.7h-0.7zM70.1,125.6h0.7v0.7h-0.7zM51.5,129.5h0.7v0.7h-0.7zM62.8,123.9h0.7v0.7h-0.7zM59.3,133.6h0.7v0.7h-0.7zM64.9,133.9h0.7v0.7h-0.7zM60.7,129.1h0.7v0.7h-0.7zM61.4,124.3h0.7v0.7h-0.7zM61.3,125.8h0.7v0.7h-0.7zM57.2,123.0h0.7v0.7h-0.7zM61.9,125.8h0.7v0.7h-0.7zM62.2,129.7h0.7v0.7h-0.7zM55.4,124.2h0.7v0.7h-0.7zM63.0,132.2h0.7v0.7h-0.7zM65.0,129.8h0.7v0.7h-0.7zM62.7,122.7h0.7v0.7h-0.7zM56.9,134.1h0.7v0.7h-0.7zM58.4,123.8h0.7v0.7h-0.7zM59.3,134.6h0.7v0.7h-0.7zM52.6,123.9h0.7v0.7h-0.7zM61.0,135.1h0.7v0.7h-0.7zM58.7,125.9h0.7v0.7h-0.7zM66.6,123.7h0.7v0.7h-0.7zM56.7,131.1h0.7v0.7h-0.7zM57.3,126.2h0.7v0.7h-0.7zM58.1,124.1h0.7v0.7h-0.7zM56.2,133.6h0.7v0.7h-0.7zM71.1,126.3h0.7v0.7h-0.7zM52.0,133.2h0.7v0.7h-0.7zM59.2,133.2h0.7v0.7h-0.7zM66.5,133.2h0.7v0.7h-0.7zM66.9,125.8h0.7v0.7h-0.7zM59.5,123.6h0.7v0.7h-0.7zM58.4,134.3h0.7v0.7h-0.7zM60.7,130.0h0.7v0.7h-0.7zM66.9,123.6h0.7v0.7h-0.7zM57.9,129.4h0.7v0.7h-0.7zM60.9,132.4h0.7v0.7h-0.7zM62.0,132.4h0.7v0.7h-0.7zM63.0,131.0h0.7v0.7h-0.7zM58.8,128.5h0.7v0.7h-0.7zM66.5,127.8h0.7v0.7h-0.7zM69.5,133.0h0.7v0.7h-0.7zM62.5,127.7h0.7v0.7h-0.7zM66.3,132.9h0.7v0.7h-0.7zM64.9,126.4h0.7v0.7h-0.7zM58.7,135.1h0.7v0.7h-0.7zM59.0,129.2h0.7v0.7h-0.7zM51.6,125.0h0.7v0.7h-0.7zM54.9,125.5h0.7v0.7h-0.7zM61.5,123.0h0.7v0.7h-0.7zM66.3,129.9h0.7v0.7h-0.7zM53.2,133.8h0.7v0.7h-0.7zM61.2,135.0h0.7v0.7h-0.7zM57.0,135.0h0.7v0.7h-0.7zM57.5,136.5h0.7v0.7h-0.7zM66.0,135.0h0.7v0.7h-0.7zM54.6,129.9h0.7v0.7h-0.7zM61.9,132.9h0.7v0.7h-0.7zM55.3,130.8h0.7v0.7h-0.7zM56.5,125.0h0.7v0.7h-0.7zM59.9,134.1h0.7v0.7h-0.7zM62.1,127.5h0.7v0.7h-0.7zM55.2,127.6h0.7v0.7h-0.7zM58.9,126.3h0.7v0.7h-0.7zM57.0,125.6h0.7v0.7h-0.7zM56.7,132.2h0.7v0.7h-0.7zM63.6,131.5h0.7v0.7h-0.7zM69.9,132.1h0.7v0.7h-0.7zM53.2,128.2h0.7v0.7h-0.7z" fill="#000" opacity="0.7"/>
<path d="M47.3,146.7 C46.5,140 46.5,131 47,125.4 L52.7,125.7" fill="none" stroke="#111" stroke-width="1.0"/>
<path d="M53,131 C52,136 50.5,141 47.6,146.5" fill="none" stroke="#111" stroke-width="1.5" opacity="0.8"/>
<path d="M50.8,128 C50.5,134 49.5,140 47.8,145" fill="none" stroke="#333" stroke-width="0.5" opacity="0.6"/>
<ellipse cx="64" cy="126.8" rx="11.4" ry="7.5" fill="none" stroke="#333" stroke-width="0.75" transform="rotate(-5 64 126.8)"/>
<ellipse cx="59" cy="128.4" rx="6.3" ry="2.7" fill="#fff" stroke="#111" stroke-width="0.7" transform="rotate(-4 59 128.4)"/>
<ellipse cx="120.3" cy="126.9" rx="11.7" ry="7.1" fill="#000" opacity="0.2" filter="url(#b05)"/>
<path d="M117.7,123.4h0.6v0.6h-0.6zM122.0,129.5h0.6v0.6h-0.6zM121.5,125.5h0.6v0.6h-0.6zM125.4,128.0h0.6v0.6h-0.6zM126.5,129.1h0.6v0.6h-0.6zM127.8,126.2h0.6v0.6h-0.6zM112.7,122.4h0.6v0.6h-0.6zM125.2,122.6h0.6v0.6h-0.6zM123.7,128.6h0.6v0.6h-0.6zM127.8,123.2h0.6v0.6h-0.6zM125.3,130.1h0.6v0.6h-0.6zM112.1,129.2h0.6v0.6h-0.6zM110.5,124.6h0.6v0.6h-0.6zM122.9,128.4h0.6v0.6h-0.6zM127.9,124.4h0.6v0.6h-0.6zM112.5,129.2h0.6v0.6h-0.6zM118.3,129.2h0.6v0.6h-0.6zM120.2,125.6h0.6v0.6h-0.6zM119.4,130.0h0.6v0.6h-0.6zM118.7,130.2h0.6v0.6h-0.6zM121.2,132.0h0.6v0.6h-0.6zM123.7,124.6h0.6v0.6h-0.6zM128.5,130.3h0.6v0.6h-0.6zM111.7,129.1h0.6v0.6h-0.6zM123.7,130.3h0.6v0.6h-0.6zM122.7,125.9h0.6v0.6h-0.6zM114.6,126.2h0.6v0.6h-0.6zM125.4,129.4h0.6v0.6h-0.6zM118.3,126.3h0.6v0.6h-0.6zM114.0,129.5h0.6v0.6h-0.6zM115.4,132.2h0.6v0.6h-0.6zM116.5,132.6h0.6v0.6h-0.6zM117.7,132.1h0.6v0.6h-0.6zM125.8,130.1h0.6v0.6h-0.6zM114.0,122.6h0.6v0.6h-0.6zM124.0,121.2h0.6v0.6h-0.6zM114.5,127.9h0.6v0.6h-0.6zM112.7,124.7h0.6v0.6h-0.6zM114.3,129.3h0.6v0.6h-0.6zM122.5,129.8h0.6v0.6h-0.6zM121.5,127.0h0.6v0.6h-0.6zM122.3,132.8h0.6v0.6h-0.6zM123.3,127.2h0.6v0.6h-0.6zM123.6,122.7h0.6v0.6h-0.6zM125.3,130.7h0.6v0.6h-0.6zM110.9,127.1h0.6v0.6h-0.6zM122.4,125.0h0.6v0.6h-0.6zM124.3,132.6h0.6v0.6h-0.6zM129.2,124.5h0.6v0.6h-0.6zM112.6,131.7h0.6v0.6h-0.6zM122.8,131.3h0.6v0.6h-0.6zM128.4,124.1h0.6v0.6h-0.6zM122.2,124.4h0.6v0.6h-0.6zM126.8,129.5h0.6v0.6h-0.6zM114.6,127.0h0.6v0.6h-0.6zM122.4,123.5h0.6v0.6h-0.6zM113.3,126.7h0.6v0.6h-0.6zM110.9,126.9h0.6v0.6h-0.6zM125.1,129.7h0.6v0.6h-0.6zM113.6,131.0h0.6v0.6h-0.6zM116.4,125.2h0.6v0.6h-0.6zM113.1,131.9h0.6v0.6h-0.6zM114.2,131.9h0.6v0.6h-0.6zM120.6,122.4h0.6v0.6h-0.6zM123.7,127.4h0.6v0.6h-0.6zM126.2,130.0h0.6v0.6h-0.6zM117.8,122.9h0.6v0.6h-0.6zM120.9,128.1h0.6v0.6h-0.6zM124.5,126.9h0.6v0.6h-0.6zM121.8,129.9h0.6v0.6h-0.6z" fill="#000" opacity="0.35"/>
<ellipse cx="120.3" cy="126.9" rx="11.7" ry="7.1" fill="none" stroke="#333" stroke-width="0.75"/>
<ellipse cx="120" cy="126.6" rx="9.5" ry="5.3" fill="none" stroke="#555" stroke-width="0.5"/>
<ellipse cx="119.5" cy="126.5" rx="7" ry="3.5" fill="none" stroke="#666" stroke-width="0.45"/>
<ellipse cx="119.5" cy="126.4" rx="4.5" ry="2" fill="none" stroke="#777" stroke-width="0.4"/>
<ellipse cx="119" cy="126.3" rx="4" ry="0.9" fill="#fff" opacity="0.6"/>
<path d="M114.7,135.5h0.6v0.6h-0.6zM122.5,140.4h0.6v0.6h-0.6zM117.2,133.3h0.6v0.6h-0.6zM113.7,138.6h0.6v0.6h-0.6zM110.5,135.2h0.6v0.6h-0.6zM121.0,139.0h0.6v0.6h-0.6zM113.7,139.5h0.6v0.6h-0.6zM123.7,140.7h0.6v0.6h-0.6zM115.8,134.7h0.6v0.6h-0.6zM126.3,136.7h0.6v0.6h-0.6zM111.6,134.1h0.6v0.6h-0.6zM124.4,139.6h0.6v0.6h-0.6zM123.7,141.0h0.6v0.6h-0.6zM116.4,139.1h0.6v0.6h-0.6zM124.1,139.8h0.6v0.6h-0.6zM124.6,139.4h0.6v0.6h-0.6zM122.0,133.5h0.6v0.6h-0.6zM113.9,136.2h0.6v0.6h-0.6zM111.4,135.6h0.6v0.6h-0.6zM111.7,136.1h0.6v0.6h-0.6zM120.8,137.0h0.6v0.6h-0.6zM116.3,135.3h0.6v0.6h-0.6zM114.5,143.3h0.6v0.6h-0.6zM121.0,139.7h0.6v0.6h-0.6zM112.9,141.0h0.6v0.6h-0.6zM112.8,137.2h0.6v0.6h-0.6zM119.5,140.5h0.6v0.6h-0.6zM113.9,133.4h0.6v0.6h-0.6zM115.4,135.9h0.6v0.6h-0.6zM124.9,136.5h0.6v0.6h-0.6zM121.1,137.4h0.6v0.6h-0.6zM125.5,138.0h0.6v0.6h-0.6zM114.5,135.7h0.6v0.6h-0.6zM119.5,135.9h0.6v0.6h-0.6zM119.9,142.9h0.6v0.6h-0.6zM116.8,135.4h0.6v0.6h-0.6zM111.5,133.5h0.6v0.6h-0.6zM111.9,139.9h0.6v0.6h-0.6zM123.5,137.6h0.6v0.6h-0.6zM111.1,137.2h0.6v0.6h-0.6zM121.6,138.9h0.6v0.6h-0.6zM114.5,140.1h0.6v0.6h-0.6zM111.9,137.8h0.6v0.6h-0.6zM117.7,143.5h0.6v0.6h-0.6zM124.9,135.9h0.6v0.6h-0.6zM118.5,135.0h0.6v0.6h-0.6zM115.1,140.0h0.6v0.6h-0.6zM120.4,134.7h0.6v0.6h-0.6zM123.0,138.9h0.6v0.6h-0.6zM123.2,138.8h0.6v0.6h-0.6zM115.2,133.6h0.6v0.6h-0.6zM111.5,138.3h0.6v0.6h-0.6zM111.2,141.4h0.6v0.6h-0.6zM123.0,134.4h0.6v0.6h-0.6zM118.1,139.0h0.6v0.6h-0.6zM114.5,142.6h0.6v0.6h-0.6zM117.2,135.3h0.6v0.6h-0.6zM119.2,141.0h0.6v0.6h-0.6zM113.4,136.4h0.6v0.6h-0.6zM117.4,138.7h0.6v0.6h-0.6z" fill="#000" opacity="0.35"/>
<path d="M103,134 C104,130 106,126 109,124 M105,135 C107,131 109,129 111,128 M107,136 C109,133 111,131 113,130.5" fill="none" stroke="#555" stroke-width="0.5"/>
<path d="M102,132 C104,127 107,123.5 110,122 L113,131 C112,134 110,136 108,136 Z" fill="#000" opacity="0.22" filter="url(#b05)"/>
<path d="M101.8,134.8 C103,132.5 107,131.5 111.4,136.5 C108,139.5 105,142.5 102.9,144.8 C101.5,142 101.2,138 101.8,134.8 Z" fill="#000" stroke="#111" stroke-width="1.0" opacity="0.55"/>
<path d="M102.8,136 C104,134.5 106.5,134.5 108.8,136.8 C107,138.8 105,141 103.5,142.5 C102.5,140.5 102.3,138 102.8,136 Z" fill="#fff" stroke="#333" stroke-width="0.4" opacity="0.35"/>
<ellipse cx="104.2" cy="138.3" rx="0.9" ry="1.6" fill="#fff" opacity="0.5"/>
<ellipse cx="161.5" cy="126" rx="3.5" ry="5" fill="#000" opacity="0.16" filter="url(#b1)"/>
<ellipse cx="176" cy="127.7" rx="12.1" ry="7.5" fill="#000" opacity="0.08" filter="url(#b05)"/>
<path d="M167.8,127.2h0.6v0.6h-0.6zM179.9,131.8h0.6v0.6h-0.6zM174.9,127.7h0.6v0.6h-0.6zM164.9,126.8h0.6v0.6h-0.6zM173.1,132.6h0.6v0.6h-0.6zM177.1,131.3h0.6v0.6h-0.6zM174.5,123.2h0.6v0.6h-0.6zM184.1,132.2h0.6v0.6h-0.6zM173.1,122.0h0.6v0.6h-0.6zM176.3,127.6h0.6v0.6h-0.6zM182.3,129.1h0.6v0.6h-0.6zM176.2,128.8h0.6v0.6h-0.6zM173.2,121.4h0.6v0.6h-0.6zM183.8,124.8h0.6v0.6h-0.6zM184.9,128.0h0.6v0.6h-0.6zM177.9,133.8h0.6v0.6h-0.6zM180.1,122.0h0.6v0.6h-0.6zM178.8,131.7h0.6v0.6h-0.6zM185.2,125.3h0.6v0.6h-0.6zM176.7,130.5h0.6v0.6h-0.6zM168.3,132.6h0.6v0.6h-0.6zM178.1,125.9h0.6v0.6h-0.6zM168.8,129.2h0.6v0.6h-0.6zM186.8,128.4h0.6v0.6h-0.6zM167.1,127.6h0.6v0.6h-0.6zM186.7,129.1h0.6v0.6h-0.6zM166.5,130.0h0.6v0.6h-0.6zM168.0,132.0h0.6v0.6h-0.6zM167.0,128.2h0.6v0.6h-0.6zM174.7,121.2h0.6v0.6h-0.6zM172.3,130.7h0.6v0.6h-0.6zM176.0,133.8h0.6v0.6h-0.6zM180.7,132.5h0.6v0.6h-0.6zM184.2,126.1h0.6v0.6h-0.6zM180.9,122.0h0.6v0.6h-0.6zM173.8,130.3h0.6v0.6h-0.6zM177.7,124.3h0.6v0.6h-0.6zM178.0,133.5h0.6v0.6h-0.6zM172.0,125.6h0.6v0.6h-0.6zM168.8,123.2h0.6v0.6h-0.6z" fill="#000" opacity="0.3"/>
<ellipse cx="176" cy="127.7" rx="12.1" ry="7.5" fill="none" stroke="#333" stroke-width="0.75" transform="rotate(-4 176 127.7)"/>
<ellipse cx="174.5" cy="126.6" rx="8.5" ry="3.6" fill="none" stroke="#777" stroke-width="0.45" transform="rotate(-6 174.5 126.6)"/>
<ellipse cx="174" cy="126.3" rx="5" ry="1.8" fill="none" stroke="#888" stroke-width="0.4" transform="rotate(-6 174 126.3)"/>
<ellipse cx="161.5" cy="137.5" rx="4.3" ry="6.6" fill="#000" opacity="0.42" transform="rotate(20 161.5 137.5)"/>
<ellipse cx="161.5" cy="137.5" rx="4.3" ry="6.6" fill="none" stroke="#111" stroke-width="1.0" transform="rotate(20 161.5 137.5)"/>
<ellipse cx="162.2" cy="137.2" rx="3.0" ry="4.8" fill="none" stroke="#333" stroke-width="0.5" transform="rotate(20 162.2 137.2)"/>
<ellipse cx="162.8" cy="137" rx="1.8" ry="3.0" fill="none" stroke="#555" stroke-width="0.4" transform="rotate(20 162.8 137)"/>
<ellipse cx="163" cy="137" rx="0.8" ry="1.5" fill="#fff" opacity="0.5" transform="rotate(20 163 137)"/>
<path d="M169.1,139.3h0.6v0.6h-0.6zM173.6,136.4h0.6v0.6h-0.6zM166.6,139.1h0.6v0.6h-0.6zM168.8,138.2h0.6v0.6h-0.6zM171.9,137.6h0.6v0.6h-0.6zM171.2,135.9h0.6v0.6h-0.6zM171.3,142.8h0.6v0.6h-0.6zM165.4,138.1h0.6v0.6h-0.6zM169.8,142.3h0.6v0.6h-0.6zM166.9,137.1h0.6v0.6h-0.6zM171.7,141.5h0.6v0.6h-0.6zM169.4,135.3h0.6v0.6h-0.6z" fill="#000" opacity="0.3"/>
<text x="7.0" y="191.2" font-size="11" stroke="#111" stroke-width="0.25" font-weight="bold" >B</text>
<rect x="33.7" y="200.4" width="52.3" height="47.599999999999994" fill="none" stroke="#c4c4c4" stroke-width="0.9"/>
<rect x="88.4" y="200.4" width="52.400000000000006" height="47.599999999999994" fill="none" stroke="#c4c4c4" stroke-width="0.9"/>
<rect x="145.1" y="200.4" width="51.70000000000002" height="47.599999999999994" fill="none" stroke="#c4c4c4" stroke-width="0.9"/>
<rect x="33.7" y="251.1" width="52.3" height="48.20000000000002" fill="none" stroke="#c4c4c4" stroke-width="0.9"/>
<rect x="88.4" y="251.1" width="52.400000000000006" height="48.20000000000002" fill="none" stroke="#c4c4c4" stroke-width="0.9"/>
<rect x="145.1" y="251.1" width="51.70000000000002" height="48.20000000000002" fill="none" stroke="#c4c4c4" stroke-width="0.9"/>
<ellipse cx="47" cy="223.6" rx="2.9" ry="4.3" fill="#000" opacity="0.35" filter="url(#b05)"/>
<ellipse cx="47.0" cy="223.6" rx="2.9" ry="4.3" fill="none" stroke="#222" stroke-width="0.7" opacity="0.75"/>
<ellipse cx="47.07" cy="223.7" rx="2.13" ry="3.15" fill="none" stroke="#222" stroke-width="0.7" opacity="0.75"/>
<ellipse cx="47.13" cy="223.8" rx="1.35" ry="2.01" fill="none" stroke="#222" stroke-width="0.7" opacity="0.75"/>
<ellipse cx="47" cy="232" rx="2.2" ry="3.6" fill="#000" opacity="0.15" filter="url(#b05)"/>
<ellipse cx="47.0" cy="232.0" rx="2.2" ry="3.6" fill="none" stroke="#222" stroke-width="0.5" opacity="0.3"/>
<ellipse cx="47.0" cy="232.0" rx="1.32" ry="2.16" fill="none" stroke="#222" stroke-width="0.5" opacity="0.3"/>
<ellipse cx="47" cy="234.3" rx="1" ry="1" fill="#000" opacity="0.45" filter="url(#b05)"/>
<ellipse cx="56" cy="224.5" rx="3.8" ry="3.2" fill="#000" opacity="0.06" filter="url(#b05)"/>
<ellipse cx="56.0" cy="224.5" rx="3.8" ry="3.2" fill="none" stroke="#222" stroke-width="0.4" opacity="0.18"/>
<ellipse cx="55.67" cy="224.5" rx="2.79" ry="2.35" fill="none" stroke="#222" stroke-width="0.4" opacity="0.18"/>
<ellipse cx="55.33" cy="224.5" rx="1.77" ry="1.49" fill="none" stroke="#222" stroke-width="0.4" opacity="0.18"/>
<line x1="52.3" y1="200.4" x2="52.3" y2="248" stroke="#444" stroke-width="0.8"/>
<line x1="33.7" y1="228.2" x2="86" y2="228.2" stroke="#444" stroke-width="0.8"/>
<text x="36.0" y="206.20000000000002" font-size="5.3" stroke="#1a1a1a" stroke-width="0.14" textLength="10.3" lengthAdjust="spacingAndGlyphs" fill="#1a1a1a" >62.3</text>
<text x="84.1" y="206.20000000000002" font-size="5.3" stroke="#1a1a1a" stroke-width="0.14" text-anchor="end" textLength="10.3" lengthAdjust="spacingAndGlyphs" fill="#1a1a1a" >3.33</text>
<text x="36.0" y="246.7" font-size="5.3" stroke="#1a1a1a" stroke-width="0.14" textLength="10.3" lengthAdjust="spacingAndGlyphs" fill="#1a1a1a" >13.7</text>
<text x="84.1" y="246.7" font-size="5.3" stroke="#1a1a1a" stroke-width="0.14" text-anchor="end" textLength="10.3" lengthAdjust="spacingAndGlyphs" fill="#1a1a1a" >0.66</text>
<ellipse cx="102.4" cy="222.7" rx="3.9" ry="4.1" fill="#000" opacity="0.2" filter="url(#b05)"/>
<ellipse cx="102.4" cy="222.7" rx="3.9" ry="4.1" fill="none" stroke="#222" stroke-width="0.8" opacity="0.8"/>
<ellipse cx="102.4" cy="222.7" rx="2.86" ry="3.01" fill="none" stroke="#222" stroke-width="0.8" opacity="0.8"/>
<ellipse cx="102.4" cy="222.7" rx="1.82" ry="1.91" fill="none" stroke="#222" stroke-width="0.8" opacity="0.8"/>
<ellipse cx="102.4" cy="222.6" rx="0.7" ry="0.7" fill="#000" opacity="0.6"/>
<ellipse cx="101.8" cy="233.3" rx="2.7" ry="4.1" fill="#000" opacity="0.12" filter="url(#b05)"/>
<ellipse cx="101.8" cy="233.3" rx="2.7" ry="4.1" fill="none" stroke="#222" stroke-width="0.7" opacity="0.55"/>
<ellipse cx="101.8" cy="233.3" rx="1.62" ry="2.46" fill="none" stroke="#222" stroke-width="0.7" opacity="0.55"/>
<ellipse cx="114.5" cy="220.7" rx="4" ry="3" fill="#000" opacity="0.04" filter="url(#b05)"/>
<ellipse cx="114.5" cy="220.7" rx="4.0" ry="3.0" fill="none" stroke="#222" stroke-width="0.4" opacity="0.15"/>
<ellipse cx="114.5" cy="220.7" rx="2.93" ry="2.2" fill="none" stroke="#222" stroke-width="0.4" opacity="0.15"/>
<ellipse cx="114.5" cy="220.7" rx="1.87" ry="1.4" fill="none" stroke="#222" stroke-width="0.4" opacity="0.15"/>
<line x1="107.1" y1="200.4" x2="107.1" y2="248" stroke="#444" stroke-width="0.8"/>
<line x1="88.4" y1="228.2" x2="140.8" y2="228.2" stroke="#444" stroke-width="0.8"/>
<text x="90.7" y="206.20000000000002" font-size="5.3" stroke="#1a1a1a" stroke-width="0.14" textLength="10.3" lengthAdjust="spacingAndGlyphs" fill="#1a1a1a" >69.4</text>
<text x="138.9" y="206.20000000000002" font-size="5.3" stroke="#1a1a1a" stroke-width="0.14" text-anchor="end" textLength="10.3" lengthAdjust="spacingAndGlyphs" fill="#1a1a1a" >2.92</text>
<text x="90.7" y="246.7" font-size="5.3" stroke="#1a1a1a" stroke-width="0.14" textLength="10.3" lengthAdjust="spacingAndGlyphs" fill="#1a1a1a" >27.2</text>
<text x="138.9" y="246.7" font-size="5.3" stroke="#1a1a1a" stroke-width="0.14" text-anchor="end" textLength="10.3" lengthAdjust="spacingAndGlyphs" fill="#1a1a1a" >0.42</text>
<ellipse cx="165.5" cy="221" rx="4.5" ry="4.2" fill="#000" opacity="0.1" filter="url(#b05)"/>
<ellipse cx="165.5" cy="221.0" rx="4.5" ry="4.2" fill="none" stroke="#222" stroke-width="0.45" opacity="0.25"/>
<ellipse cx="164.83" cy="221.0" rx="3.3" ry="3.08" fill="none" stroke="#222" stroke-width="0.45" opacity="0.25"/>
<ellipse cx="164.17" cy="221.0" rx="2.1" ry="1.96" fill="none" stroke="#222" stroke-width="0.45" opacity="0.25"/>
<ellipse cx="158.9" cy="219.9" rx="4.7" ry="5.9" fill="#000" opacity="0.3" filter="url(#b05)"/>
<ellipse cx="158.9" cy="219.9" rx="4.7" ry="5.9" fill="none" stroke="#222" stroke-width="0.7" opacity="0.6"/>
<ellipse cx="158.97" cy="219.9" rx="3.76" ry="4.72" fill="none" stroke="#222" stroke-width="0.7" opacity="0.6"/>
<ellipse cx="159.05" cy="219.9" rx="2.82" ry="3.54" fill="none" stroke="#222" stroke-width="0.7" opacity="0.6"/>
<ellipse cx="159.12" cy="219.9" rx="1.88" ry="2.36" fill="none" stroke="#222" stroke-width="0.7" opacity="0.6"/>
<ellipse cx="158.5" cy="219.2" rx="1.2" ry="1.8" fill="#fff" opacity="0.6"/>
<ellipse cx="159" cy="231.6" rx="3" ry="4" fill="#000" opacity="0.15" filter="url(#b05)"/>
<ellipse cx="159.0" cy="231.6" rx="3.0" ry="4.0" fill="none" stroke="#222" stroke-width="0.5" opacity="0.25"/>
<ellipse cx="159.0" cy="231.6" rx="1.8" ry="2.4" fill="none" stroke="#222" stroke-width="0.5" opacity="0.25"/>
<ellipse cx="159.3" cy="231.3" rx="0.8" ry="0.8" fill="#fff" opacity="0.8"/>
<line x1="163.1" y1="200.4" x2="163.1" y2="248" stroke="#444" stroke-width="0.8"/>
<line x1="145.1" y1="228.2" x2="196.8" y2="228.2" stroke="#444" stroke-width="0.8"/>
<text x="147.4" y="206.20000000000002" font-size="5.3" stroke="#1a1a1a" stroke-width="0.14" textLength="10.3" lengthAdjust="spacingAndGlyphs" fill="#1a1a1a" >77.2</text>
<text x="194.9" y="206.20000000000002" font-size="5.3" stroke="#1a1a1a" stroke-width="0.14" text-anchor="end" textLength="10.3" lengthAdjust="spacingAndGlyphs" fill="#1a1a1a" >10.4</text>
<text x="147.4" y="246.7" font-size="5.3" stroke="#1a1a1a" stroke-width="0.14" textLength="10.3" lengthAdjust="spacingAndGlyphs" fill="#1a1a1a" >11.2</text>
<text x="194.9" y="246.7" font-size="5.3" stroke="#1a1a1a" stroke-width="0.14" text-anchor="end" textLength="10.3" lengthAdjust="spacingAndGlyphs" fill="#1a1a1a" >1.24</text>
<ellipse cx="52.5" cy="275.8" rx="8.6" ry="6.4" fill="url(#gLR)" filter="url(#b05)"/>
<ellipse cx="52" cy="275.5" rx="8" ry="6.2" fill="#000" opacity="0.1" filter="url(#b05)"/>
<ellipse cx="52.0" cy="275.5" rx="8.0" ry="6.2" fill="none" stroke="#222" stroke-width="0.45" opacity="0.35"/>
<ellipse cx="51.1" cy="275.6" rx="6.72" ry="5.21" fill="none" stroke="#222" stroke-width="0.45" opacity="0.35"/>
<ellipse cx="50.2" cy="275.7" rx="5.44" ry="4.22" fill="none" stroke="#222" stroke-width="0.45" opacity="0.35"/>
<ellipse cx="49.3" cy="275.8" rx="4.16" ry="3.22" fill="none" stroke="#222" stroke-width="0.45" opacity="0.35"/>
<ellipse cx="48.4" cy="275.9" rx="2.88" ry="2.23" fill="none" stroke="#222" stroke-width="0.45" opacity="0.35"/>
<path d="M44.2,279.5 C43.8,275 44,272 45.5,270.3" fill="none" stroke="#222" stroke-width="1.0" opacity="0.8" filter="url(#b05)"/>
<ellipse cx="47.8" cy="282.5" rx="3.2" ry="5" fill="#000" opacity="0.15" filter="url(#b05)"/>
<ellipse cx="47.8" cy="282.5" rx="3.2" ry="5.0" fill="none" stroke="#222" stroke-width="0.45" opacity="0.25"/>
<ellipse cx="47.8" cy="282.17" rx="2.35" ry="3.67" fill="none" stroke="#222" stroke-width="0.45" opacity="0.25"/>
<ellipse cx="47.8" cy="281.83" rx="1.49" ry="2.33" fill="none" stroke="#222" stroke-width="0.45" opacity="0.25"/>
<line x1="52.3" y1="251.1" x2="52.3" y2="299.3" stroke="#444" stroke-width="0.8"/>
<line x1="33.7" y1="279.3" x2="86" y2="279.3" stroke="#444" stroke-width="0.8"/>
<text x="36.0" y="256.9" font-size="5.3" stroke="#1a1a1a" stroke-width="0.14" textLength="10.3" lengthAdjust="spacingAndGlyphs" fill="#1a1a1a" >67.0</text>
<text x="84.1" y="256.9" font-size="5.3" stroke="#1a1a1a" stroke-width="0.14" text-anchor="end" textLength="10.3" lengthAdjust="spacingAndGlyphs" fill="#1a1a1a" >15.3</text>
<text x="36.0" y="298.0" font-size="5.3" stroke="#1a1a1a" stroke-width="0.14" textLength="10.3" lengthAdjust="spacingAndGlyphs" fill="#1a1a1a" >13.2</text>
<text x="84.1" y="298.0" font-size="5.3" stroke="#1a1a1a" stroke-width="0.14" text-anchor="end" textLength="10.3" lengthAdjust="spacingAndGlyphs" fill="#1a1a1a" >4.59</text>
<ellipse cx="108" cy="273.6" rx="9.2" ry="6" fill="url(#gLR)" filter="url(#b05)"/>
<ellipse cx="107.7" cy="273.5" rx="8.8" ry="5.8" fill="#000" opacity="0.08" filter="url(#b05)"/>
<ellipse cx="107.7" cy="273.5" rx="8.8" ry="5.8" fill="none" stroke="#222" stroke-width="0.45" opacity="0.3"/>
<ellipse cx="106.8" cy="273.56" rx="7.39" ry="4.87" fill="none" stroke="#222" stroke-width="0.45" opacity="0.3"/>
<ellipse cx="105.9" cy="273.62" rx="5.98" ry="3.94" fill="none" stroke="#222" stroke-width="0.45" opacity="0.3"/>
<ellipse cx="105.0" cy="273.68" rx="4.58" ry="3.02" fill="none" stroke="#222" stroke-width="0.45" opacity="0.3"/>
<ellipse cx="104.1" cy="273.74" rx="3.17" ry="2.09" fill="none" stroke="#222" stroke-width="0.45" opacity="0.3"/>
<ellipse cx="102.5" cy="272.3" rx="3.6" ry="4.2" fill="#000" opacity="0.3" filter="url(#b05)"/>
<ellipse cx="102.5" cy="272.3" rx="3.6" ry="4.2" fill="none" stroke="#222" stroke-width="0.7" opacity="0.6"/>
<ellipse cx="102.6" cy="272.3" rx="2.64" ry="3.08" fill="none" stroke="#222" stroke-width="0.7" opacity="0.6"/>
<ellipse cx="102.7" cy="272.3" rx="1.68" ry="1.96" fill="none" stroke="#222" stroke-width="0.7" opacity="0.6"/>
<ellipse cx="102.9" cy="272.4" rx="1.2" ry="0.8" fill="#fff" opacity="0.85"/>
<ellipse cx="103" cy="283.5" rx="3" ry="4.5" fill="#000" opacity="0.12" filter="url(#b05)"/>
<ellipse cx="103.0" cy="283.5" rx="3.0" ry="4.5" fill="none" stroke="#222" stroke-width="0.4" opacity="0.2"/>
<ellipse cx="103.0" cy="283.5" rx="1.8" ry="2.7" fill="none" stroke="#222" stroke-width="0.4" opacity="0.2"/>
<line x1="107.1" y1="251.1" x2="107.1" y2="299.3" stroke="#444" stroke-width="0.8"/>
<line x1="88.4" y1="279.3" x2="140.8" y2="279.3" stroke="#444" stroke-width="0.8"/>
<text x="90.7" y="256.9" font-size="5.3" stroke="#1a1a1a" stroke-width="0.14" textLength="10.3" lengthAdjust="spacingAndGlyphs" fill="#1a1a1a" >72.6</text>
<text x="138.9" y="256.9" font-size="5.3" stroke="#1a1a1a" stroke-width="0.14" text-anchor="end" textLength="10.3" lengthAdjust="spacingAndGlyphs" fill="#1a1a1a" >18.4</text>
<text x="90.7" y="298.0" font-size="5.3" stroke="#1a1a1a" stroke-width="0.14" textLength="10.3" lengthAdjust="spacingAndGlyphs" fill="#1a1a1a" >7.64</text>
<text x="138.9" y="298.0" font-size="5.3" stroke="#1a1a1a" stroke-width="0.14" text-anchor="end" textLength="10.3" lengthAdjust="spacingAndGlyphs" fill="#1a1a1a" >1.31</text>
<ellipse cx="163.7" cy="271.3" rx="9.3" ry="6.4" fill="url(#gLR)" filter="url(#b05)"/>
<ellipse cx="163.5" cy="271.3" rx="9" ry="6.3" fill="#000" opacity="0.08" filter="url(#b05)"/>
<ellipse cx="163.5" cy="271.3" rx="9.0" ry="6.3" fill="none" stroke="#222" stroke-width="0.45" opacity="0.3"/>
<ellipse cx="162.6" cy="271.2" rx="7.56" ry="5.29" fill="none" stroke="#222" stroke-width="0.45" opacity="0.3"/>
<ellipse cx="161.7" cy="271.1" rx="6.12" ry="4.28" fill="none" stroke="#222" stroke-width="0.45" opacity="0.3"/>
<ellipse cx="160.8" cy="271.0" rx="4.68" ry="3.28" fill="none" stroke="#222" stroke-width="0.45" opacity="0.3"/>
<ellipse cx="159.9" cy="270.9" rx="3.24" ry="2.27" fill="none" stroke="#222" stroke-width="0.45" opacity="0.3"/>
<path d="M160,266 C156,266 154.6,268 154.6,271 C154.6,274 156,276 158,276.5" fill="none" stroke="#222" stroke-width="1.6" opacity="0.75" filter="url(#b05)"/>
<ellipse cx="159" cy="269.9" rx="2.3" ry="0.9" fill="#fff" opacity="0.9"/>
<ellipse cx="160.5" cy="283" rx="4.5" ry="4" fill="#000" opacity="0.08" filter="url(#b05)"/>
<ellipse cx="160.5" cy="283.0" rx="4.5" ry="4.0" fill="none" stroke="#222" stroke-width="0.4" opacity="0.1"/>
<ellipse cx="160.5" cy="283.0" rx="2.7" ry="2.4" fill="none" stroke="#222" stroke-width="0.4" opacity="0.1"/>
<line x1="163.1" y1="251.1" x2="163.1" y2="299.3" stroke="#444" stroke-width="0.8"/>
<line x1="145.1" y1="279.3" x2="196.8" y2="279.3" stroke="#444" stroke-width="0.8"/>
<text x="147.4" y="256.9" font-size="5.3" stroke="#1a1a1a" stroke-width="0.14" textLength="10.3" lengthAdjust="spacingAndGlyphs" fill="#1a1a1a" >67.6</text>
<text x="194.9" y="256.9" font-size="5.3" stroke="#1a1a1a" stroke-width="0.14" text-anchor="end" textLength="10.3" lengthAdjust="spacingAndGlyphs" fill="#1a1a1a" >26.1</text>
<text x="147.4" y="298.0" font-size="5.3" stroke="#1a1a1a" stroke-width="0.14" textLength="10.3" lengthAdjust="spacingAndGlyphs" fill="#1a1a1a" >3.25</text>
<text x="194.9" y="298.0" font-size="5.3" stroke="#1a1a1a" stroke-width="0.14" text-anchor="end" textLength="10.3" lengthAdjust="spacingAndGlyphs" fill="#1a1a1a" >3.03</text>
<line x1="25.1" y1="209.2" x2="25.1" y2="277" stroke="#222" stroke-width="1.3"/>
<path d="M23.1,210.79999999999998 L25.1,205.2 L27.1,210.79999999999998 Z" fill="#111"/>
<text x="16.024" y="230.7" font-size="8.4" stroke="#111" stroke-width="0.14" text-anchor="middle" textLength="37.5" lengthAdjust="spacingAndGlyphs" transform="rotate(-90 16.024 230.7)" >Untreated</text>
<text x="15.852" y="282.2" font-size="8.2" stroke="#111" stroke-width="0.14" text-anchor="middle" textLength="27" lengthAdjust="spacingAndGlyphs" transform="rotate(-90 15.852 282.2)" >+ IL-33</text>
<text x="28.052" y="293.3" font-size="8.2" stroke="#111" stroke-width="0.14" text-anchor="middle" textLength="23.5" lengthAdjust="spacingAndGlyphs" transform="rotate(-90 28.052 293.3)" >Foxp3</text>
<text x="35" y="308.6" font-size="8.5" stroke="#111" stroke-width="0.14" textLength="16.5" lengthAdjust="spacingAndGlyphs" >ST2</text>
<line x1="59.6" y1="304.2" x2="190.4" y2="304.2" stroke="#222" stroke-width="1.3"/>
<path d="M188.8,302.2 L194.4,304.2 L188.8,306.2 Z" fill="#111"/>
<text x="95" y="355.2" font-size="8.6" stroke="#111" stroke-width="0.14" textLength="51" lengthAdjust="spacingAndGlyphs" >Bone Marrow</text>
<line x1="53" y1="360.3" x2="177.6" y2="360.3" stroke="#111" stroke-width="1.2"/>
<text x="7.0" y="351.8" font-size="11" stroke="#111" stroke-width="0.25" font-weight="bold" >D</text>
<rect x="34.2" y="365.8" width="51.8" height="52.39999999999998" fill="none" stroke="#c4c4c4" stroke-width="0.9"/>
<rect x="89.9" y="365.8" width="51.400000000000006" height="52.39999999999998" fill="none" stroke="#c4c4c4" stroke-width="0.9"/>
<rect x="145.3" y="365.8" width="51.5" height="52.39999999999998" fill="none" stroke="#c4c4c4" stroke-width="0.9"/>
<rect x="34.2" y="421.7" width="51.8" height="52.69999999999999" fill="none" stroke="#c4c4c4" stroke-width="0.9"/>
<rect x="89.9" y="421.7" width="51.400000000000006" height="52.69999999999999" fill="none" stroke="#c4c4c4" stroke-width="0.9"/>
<rect x="145.3" y="421.7" width="51.5" height="52.69999999999999" fill="none" stroke="#c4c4c4" stroke-width="0.9"/>
<ellipse cx="53.6" cy="393.9" rx="3.3" ry="3.3" fill="#000" opacity="0.06" filter="url(#b05)"/>
<ellipse cx="53.6" cy="393.9" rx="3.3" ry="3.3" fill="none" stroke="#222" stroke-width="0.45" opacity="0.3"/>
<ellipse cx="53.6" cy="393.9" rx="1.98" ry="1.98" fill="none" stroke="#222" stroke-width="0.45" opacity="0.3"/>
<ellipse cx="47.5" cy="394.1" rx="3.6" ry="4.6" fill="#000" opacity="0.35" filter="url(#b05)"/>
<ellipse cx="47.5" cy="394.1" rx="3.6" ry="4.6" fill="none" stroke="#222" stroke-width="0.6" opacity="0.5"/>
<ellipse cx="47.58" cy="394.1" rx="2.88" ry="3.68" fill="none" stroke="#222" stroke-width="0.6" opacity="0.5"/>
<ellipse cx="47.65" cy="394.1" rx="2.16" ry="2.76" fill="none" stroke="#222" stroke-width="0.6" opacity="0.5"/>
<ellipse cx="47.73" cy="394.1" rx="1.44" ry="1.84" fill="none" stroke="#222" stroke-width="0.6" opacity="0.5"/>
<ellipse cx="47.8" cy="394" rx="0.9" ry="1.1" fill="#fff" opacity="0.8"/>
<ellipse cx="48" cy="401" rx="2.5" ry="3.5" fill="#000" opacity="0.15" filter="url(#b05)"/>
<ellipse cx="48.0" cy="401.0" rx="2.5" ry="3.5" fill="none" stroke="#222" stroke-width="0.4" opacity="0.2"/>
<ellipse cx="48.0" cy="401.0" rx="1.5" ry="2.1" fill="none" stroke="#222" stroke-width="0.4" opacity="0.2"/>
<line x1="51.8" y1="365.8" x2="51.8" y2="418.2" stroke="#444" stroke-width="0.8"/>
<line x1="34.2" y1="397.2" x2="86" y2="397.2" stroke="#444" stroke-width="0.8"/>
<text x="36.5" y="371.6" font-size="5.3" stroke="#1a1a1a" stroke-width="0.14" textLength="10.3" lengthAdjust="spacingAndGlyphs" fill="#1a1a1a" >66.1</text>
<text x="84.1" y="371.6" font-size="5.3" stroke="#1a1a1a" stroke-width="0.14" text-anchor="end" textLength="10.3" lengthAdjust="spacingAndGlyphs" fill="#1a1a1a" >6.50</text>
<text x="36.5" y="416.9" font-size="5.3" stroke="#1a1a1a" stroke-width="0.14" textLength="10.3" lengthAdjust="spacingAndGlyphs" fill="#1a1a1a" >21.7</text>
<text x="84.1" y="416.9" font-size="5.3" stroke="#1a1a1a" stroke-width="0.14" text-anchor="end" textLength="10.3" lengthAdjust="spacingAndGlyphs" fill="#1a1a1a" >1.65</text>
<ellipse cx="106.5" cy="391.5" rx="9" ry="6" fill="#000" opacity="0.3" filter="url(#b05)"/>
<ellipse cx="106.5" cy="391.5" rx="9.0" ry="6.0" fill="none" stroke="#222" stroke-width="0.5" opacity="0.42"/>
<ellipse cx="105.83" cy="391.58" rx="7.8" ry="5.2" fill="none" stroke="#222" stroke-width="0.5" opacity="0.42"/>
<ellipse cx="105.17" cy="391.67" rx="6.6" ry="4.4" fill="none" stroke="#222" stroke-width="0.5" opacity="0.42"/>
<ellipse cx="104.5" cy="391.75" rx="5.4" ry="3.6" fill="none" stroke="#222" stroke-width="0.5" opacity="0.42"/>
<ellipse cx="103.83" cy="391.83" rx="4.2" ry="2.8" fill="none" stroke="#222" stroke-width="0.5" opacity="0.42"/>
<ellipse cx="103.17" cy="391.92" rx="3.0" ry="2.0" fill="none" stroke="#222" stroke-width="0.5" opacity="0.42"/>
<ellipse cx="104.3" cy="392.2" rx="0.9" ry="0.9" fill="#fff" opacity="0.9"/>
<ellipse cx="103.5" cy="402.5" rx="2.6" ry="4" fill="#000" opacity="0.1" filter="url(#b05)"/>
<ellipse cx="103.5" cy="402.5" rx="2.6" ry="4.0" fill="none" stroke="#222" stroke-width="0.45" opacity="0.25"/>
<ellipse cx="103.5" cy="402.5" rx="1.56" ry="2.4" fill="none" stroke="#222" stroke-width="0.45" opacity="0.25"/>
<line x1="107" y1="365.8" x2="107" y2="418.2" stroke="#444" stroke-width="0.8"/>
<line x1="89.9" y1="397.2" x2="141.3" y2="397.2" stroke="#444" stroke-width="0.8"/>
<text x="92.2" y="371.6" font-size="5.3" stroke="#1a1a1a" stroke-width="0.14" textLength="10.3" lengthAdjust="spacingAndGlyphs" fill="#1a1a1a" >58.5</text>
<text x="139.4" y="371.6" font-size="5.3" stroke="#1a1a1a" stroke-width="0.14" text-anchor="end" textLength="10.3" lengthAdjust="spacingAndGlyphs" fill="#1a1a1a" >27.2</text>
<text x="92.2" y="416.9" font-size="5.3" stroke="#1a1a1a" stroke-width="0.14" textLength="10.3" lengthAdjust="spacingAndGlyphs" fill="#1a1a1a" >10.8</text>
<text x="139.4" y="416.9" font-size="5.3" stroke="#1a1a1a" stroke-width="0.14" text-anchor="end" textLength="10.3" lengthAdjust="spacingAndGlyphs" fill="#1a1a1a" >3.59</text>
<ellipse cx="163" cy="389" rx="8" ry="6.5" fill="#000" opacity="0.15" filter="url(#b05)"/>
<ellipse cx="163.0" cy="389.0" rx="8.0" ry="6.5" fill="none" stroke="#222" stroke-width="0.45" opacity="0.25"/>
<ellipse cx="162.4" cy="389.0" rx="6.72" ry="5.46" fill="none" stroke="#222" stroke-width="0.45" opacity="0.25"/>
<ellipse cx="161.8" cy="389.0" rx="5.44" ry="4.42" fill="none" stroke="#222" stroke-width="0.45" opacity="0.25"/>
<ellipse cx="161.2" cy="389.0" rx="4.16" ry="3.38" fill="none" stroke="#222" stroke-width="0.45" opacity="0.25"/>
<ellipse cx="160.6" cy="389.0" rx="2.88" ry="2.34" fill="none" stroke="#222" stroke-width="0.45" opacity="0.25"/>
<ellipse cx="159.1" cy="388.6" rx="5" ry="5.8" fill="#000" opacity="0.35" filter="url(#b05)"/>
<ellipse cx="159.1" cy="388.6" rx="5.0" ry="5.8" fill="none" stroke="#222" stroke-width="0.6" opacity="0.55"/>
<ellipse cx="159.1" cy="388.6" rx="4.0" ry="4.64" fill="none" stroke="#222" stroke-width="0.6" opacity="0.55"/>
<ellipse cx="159.1" cy="388.6" rx="3.0" ry="3.48" fill="none" stroke="#222" stroke-width="0.6" opacity="0.55"/>
<ellipse cx="159.1" cy="388.6" rx="2.0" ry="2.32" fill="none" stroke="#222" stroke-width="0.6" opacity="0.55"/>
<ellipse cx="159.1" cy="388.6" rx="0.9" ry="1" fill="#fff" opacity="0.9"/>
<ellipse cx="158.5" cy="401.6" rx="2.5" ry="3.5" fill="#000" opacity="0.12" filter="url(#b05)"/>
<ellipse cx="158.5" cy="401.6" rx="2.5" ry="3.5" fill="none" stroke="#222" stroke-width="0.4" opacity="0.2"/>
<ellipse cx="158.5" cy="401.6" rx="1.5" ry="2.1" fill="none" stroke="#222" stroke-width="0.4" opacity="0.2"/>
<line x1="162.5" y1="365.8" x2="162.5" y2="418.2" stroke="#444" stroke-width="0.8"/>
<line x1="145.3" y1="397.2" x2="196.8" y2="397.2" stroke="#444" stroke-width="0.8"/>
<text x="147.60000000000002" y="371.6" font-size="5.3" stroke="#1a1a1a" stroke-width="0.14" textLength="10.3" lengthAdjust="spacingAndGlyphs" fill="#1a1a1a" >71.9</text>
<text x="194.9" y="371.6" font-size="5.3" stroke="#1a1a1a" stroke-width="0.14" text-anchor="end" textLength="10.3" lengthAdjust="spacingAndGlyphs" fill="#1a1a1a" >19.7</text>
<text x="147.60000000000002" y="416.9" font-size="5.3" stroke="#1a1a1a" stroke-width="0.14" textLength="10.3" lengthAdjust="spacingAndGlyphs" fill="#1a1a1a" >5.91</text>
<text x="194.9" y="416.9" font-size="5.3" stroke="#1a1a1a" stroke-width="0.14" text-anchor="end" textLength="10.3" lengthAdjust="spacingAndGlyphs" fill="#1a1a1a" >2.46</text>
<ellipse cx="53.5" cy="449.5" rx="10.2" ry="6.4" fill="#000" opacity="0.32" filter="url(#b05)"/>
<ellipse cx="53.5" cy="449.5" rx="10.2" ry="6.4" fill="none" stroke="#222" stroke-width="0.5" opacity="0.45"/>
<ellipse cx="52.58" cy="449.55" rx="8.84" ry="5.55" fill="none" stroke="#222" stroke-width="0.5" opacity="0.45"/>
<ellipse cx="51.67" cy="449.6" rx="7.48" ry="4.69" fill="none" stroke="#222" stroke-width="0.5" opacity="0.45"/>
<ellipse cx="50.75" cy="449.65" rx="6.12" ry="3.84" fill="none" stroke="#222" stroke-width="0.5" opacity="0.45"/>
<ellipse cx="49.83" cy="449.7" rx="4.76" ry="2.99" fill="none" stroke="#222" stroke-width="0.5" opacity="0.45"/>
<ellipse cx="48.92" cy="449.75" rx="3.4" ry="2.13" fill="none" stroke="#222" stroke-width="0.5" opacity="0.45"/>
<ellipse cx="50.3" cy="449.3" rx="2.2" ry="0.9" fill="#fff" opacity="0.95"/>
<ellipse cx="49" cy="456" rx="3" ry="3" fill="#000" opacity="0.12" filter="url(#b05)"/>
<ellipse cx="49.0" cy="456.0" rx="3.0" ry="3.0" fill="none" stroke="#222" stroke-width="0.4" opacity="0.15"/>
<ellipse cx="49.0" cy="456.0" rx="1.8" ry="1.8" fill="none" stroke="#222" stroke-width="0.4" opacity="0.15"/>
<line x1="51.8" y1="421.7" x2="51.8" y2="474.4" stroke="#444" stroke-width="0.8"/>
<line x1="34.2" y1="453.2" x2="86" y2="453.2" stroke="#444" stroke-width="0.8"/>
<text x="36.5" y="427.5" font-size="5.3" stroke="#1a1a1a" stroke-width="0.14" textLength="10.3" lengthAdjust="spacingAndGlyphs" fill="#1a1a1a" >36.3</text>
<text x="84.1" y="427.5" font-size="5.3" stroke="#1a1a1a" stroke-width="0.14" text-anchor="end" textLength="10.3" lengthAdjust="spacingAndGlyphs" fill="#1a1a1a" >44.3</text>
<text x="36.5" y="473.09999999999997" font-size="5.3" stroke="#1a1a1a" stroke-width="0.14" textLength="10.3" lengthAdjust="spacingAndGlyphs" fill="#1a1a1a" >8.94</text>
<text x="84.1" y="473.09999999999997" font-size="5.3" stroke="#1a1a1a" stroke-width="0.14" text-anchor="end" textLength="10.3" lengthAdjust="spacingAndGlyphs" fill="#1a1a1a" >6.51</text>
<ellipse cx="108.8" cy="448.2" rx="9.8" ry="5.9" fill="#000" opacity="0.3" filter="url(#b05)"/>
<ellipse cx="108.8" cy="448.2" rx="9.8" ry="5.9" fill="none" stroke="#222" stroke-width="0.5" opacity="0.42"/>
<ellipse cx="108.05" cy="448.25" rx="8.49" ry="5.11" fill="none" stroke="#222" stroke-width="0.5" opacity="0.42"/>
<ellipse cx="107.3" cy="448.3" rx="7.19" ry="4.33" fill="none" stroke="#222" stroke-width="0.5" opacity="0.42"/>
<ellipse cx="106.55" cy="448.35" rx="5.88" ry="3.54" fill="none" stroke="#222" stroke-width="0.5" opacity="0.42"/>
<ellipse cx="105.8" cy="448.4" rx="4.57" ry="2.75" fill="none" stroke="#222" stroke-width="0.5" opacity="0.42"/>
<ellipse cx="105.05" cy="448.45" rx="3.27" ry="1.97" fill="none" stroke="#222" stroke-width="0.5" opacity="0.42"/>
<ellipse cx="107.5" cy="449.2" rx="2.4" ry="0.9" fill="#fff" opacity="0.95"/>
<ellipse cx="104" cy="457" rx="3" ry="3" fill="#000" opacity="0.1" filter="url(#b05)"/>
<ellipse cx="104.0" cy="457.0" rx="3.0" ry="3.0" fill="none" stroke="#222" stroke-width="0.4" opacity="0.12"/>
<ellipse cx="104.0" cy="457.0" rx="1.8" ry="1.8" fill="none" stroke="#222" stroke-width="0.4" opacity="0.12"/>
<line x1="107" y1="421.7" x2="107" y2="474.4" stroke="#444" stroke-width="0.8"/>
<line x1="89.9" y1="453.2" x2="141.3" y2="453.2" stroke="#444" stroke-width="0.8"/>
<text x="92.2" y="427.5" font-size="5.3" stroke="#1a1a1a" stroke-width="0.14" textLength="10.3" lengthAdjust="spacingAndGlyphs" fill="#1a1a1a" >31.3</text>
<text x="139.4" y="427.5" font-size="5.3" stroke="#1a1a1a" stroke-width="0.14" text-anchor="end" textLength="10.3" lengthAdjust="spacingAndGlyphs" fill="#1a1a1a" >54.4</text>
<text x="92.2" y="473.09999999999997" font-size="5.3" stroke="#1a1a1a" stroke-width="0.14" textLength="10.3" lengthAdjust="spacingAndGlyphs" fill="#1a1a1a" >6.19</text>
<text x="139.4" y="473.09999999999997" font-size="5.3" stroke="#1a1a1a" stroke-width="0.14" text-anchor="end" textLength="10.3" lengthAdjust="spacingAndGlyphs" fill="#1a1a1a" >8.14</text>
<ellipse cx="165.5" cy="445.5" rx="10.8" ry="5.9" fill="#000" opacity="0.3" filter="url(#b05)"/>
<ellipse cx="165.5" cy="445.5" rx="10.8" ry="5.9" fill="none" stroke="#222" stroke-width="0.5" opacity="0.42"/>
<ellipse cx="164.75" cy="445.55" rx="9.36" ry="5.11" fill="none" stroke="#222" stroke-width="0.5" opacity="0.42"/>
<ellipse cx="164.0" cy="445.6" rx="7.92" ry="4.33" fill="none" stroke="#222" stroke-width="0.5" opacity="0.42"/>
<ellipse cx="163.25" cy="445.65" rx="6.48" ry="3.54" fill="none" stroke="#222" stroke-width="0.5" opacity="0.42"/>
<ellipse cx="162.5" cy="445.7" rx="5.04" ry="2.75" fill="none" stroke="#222" stroke-width="0.5" opacity="0.42"/>
<ellipse cx="161.75" cy="445.75" rx="3.6" ry="1.97" fill="none" stroke="#222" stroke-width="0.5" opacity="0.42"/>
<ellipse cx="164.5" cy="445.3" rx="3.2" ry="0.9" fill="#fff" opacity="0.95"/>
<ellipse cx="168" cy="458" rx="5" ry="4" fill="#000" opacity="0.05" filter="url(#b05)"/>
<ellipse cx="168.0" cy="458.0" rx="5.0" ry="4.0" fill="none" stroke="#222" stroke-width="0.4" opacity="0.08"/>
<ellipse cx="168.0" cy="458.0" rx="3.0" ry="2.4" fill="none" stroke="#222" stroke-width="0.4" opacity="0.08"/>
<line x1="162.5" y1="421.7" x2="162.5" y2="474.4" stroke="#444" stroke-width="0.8"/>
<line x1="145.3" y1="453.2" x2="196.8" y2="453.2" stroke="#444" stroke-width="0.8"/>
<text x="147.60000000000002" y="427.5" font-size="5.3" stroke="#1a1a1a" stroke-width="0.14" textLength="10.3" lengthAdjust="spacingAndGlyphs" fill="#1a1a1a" >24.2</text>
<text x="194.9" y="427.5" font-size="5.3" stroke="#1a1a1a" stroke-width="0.14" text-anchor="end" textLength="10.3" lengthAdjust="spacingAndGlyphs" fill="#1a1a1a" >71.3</text>
<text x="147.60000000000002" y="473.09999999999997" font-size="5.3" stroke="#1a1a1a" stroke-width="0.14" textLength="10.3" lengthAdjust="spacingAndGlyphs" fill="#1a1a1a" >1.10</text>
<text x="194.9" y="473.09999999999997" font-size="5.3" stroke="#1a1a1a" stroke-width="0.14" text-anchor="end" textLength="10.3" lengthAdjust="spacingAndGlyphs" fill="#1a1a1a" >3.42</text>
<line x1="25.1" y1="374.4" x2="25.1" y2="444" stroke="#222" stroke-width="1.3"/>
<path d="M23.1,376.0 L25.1,370.4 L27.1,376.0 Z" fill="#111"/>
<text x="16.024" y="397.7" font-size="8.4" stroke="#111" stroke-width="0.14" text-anchor="middle" textLength="37.5" lengthAdjust="spacingAndGlyphs" transform="rotate(-90 16.024 397.7)" >Untreated</text>
<text x="15.952" y="447.9" font-size="8.2" stroke="#111" stroke-width="0.14" text-anchor="middle" textLength="27" lengthAdjust="spacingAndGlyphs" transform="rotate(-90 15.952 447.9)" >+ IL-33</text>
<text x="29.451999999999998" y="461" font-size="8.2" stroke="#111" stroke-width="0.14" text-anchor="middle" textLength="25" lengthAdjust="spacingAndGlyphs" transform="rotate(-90 29.451999999999998 461)" >Foxp3</text>
<text x="35" y="484" font-size="8.5" stroke="#111" stroke-width="0.14" textLength="16.5" lengthAdjust="spacingAndGlyphs" >ST2</text>
<line x1="59.6" y1="479.4" x2="190.4" y2="479.4" stroke="#222" stroke-width="1.3"/>
<path d="M188.8,477.4 L194.4,479.4 L188.8,481.4 Z" fill="#111"/>
<text x="218.6" y="16.5" font-size="11.4" stroke="#111" stroke-width="0.25" font-weight="bold" >C</text>
<text x="355.8" y="18.5" font-size="8.6" stroke="#111" stroke-width="0.14" font-weight="bold" textLength="31.2" lengthAdjust="spacingAndGlyphs" >Spleen</text>
<line x1="288" y1="25" x2="462" y2="25" stroke="#111" stroke-width="1.4"/>
<rect x="286.8" y="32.0" width="4.2" height="4.2" fill="#8b8b8b"/>
<text x="293.8" y="36.4" font-size="6.2" stroke="#222" stroke-width="0.14" textLength="29" lengthAdjust="spacingAndGlyphs" fill="#222" >Untreated</text>
<rect x="335.6" y="32.0" width="4.2" height="4.2" fill="#3b3b3b"/>
<text x="342.0" y="36.4" font-size="6.2" stroke="#222" stroke-width="0.14" textLength="21" lengthAdjust="spacingAndGlyphs" fill="#222" >+ IL-33</text>
<text x="374.8" y="34.4" font-size="5" stroke="#222" stroke-width="0.14" fill="#222" >*</text>
<text x="379.6" y="36.4" font-size="6.2" stroke="#222" stroke-width="0.14" textLength="31.2" lengthAdjust="spacingAndGlyphs" fill="#222" >vs. Control</text>
<text x="423.6" y="36.1" font-size="4.6" stroke="#222" stroke-width="0.14" fill="#222" font-style="italic">#</text>
<text x="428.6" y="36.4" font-size="6.2" stroke="#222" stroke-width="0.14" textLength="40.5" lengthAdjust="spacingAndGlyphs" fill="#222" >vs. Control d0</text>
<line x1="248" y1="46" x2="248" y2="132.0" stroke="#222" stroke-width="1.4"/>
<line x1="245.4" y1="49.2" x2="248" y2="49.2" stroke="#222" stroke-width="0.9"/>
<text x="241.5" y="51.2" font-size="5.7" stroke="#222" stroke-width="0.14" text-anchor="end" fill="#222" >40</text>
<line x1="245.4" y1="69.9" x2="248" y2="69.9" stroke="#222" stroke-width="0.9"/>
<text x="241.5" y="71.9" font-size="5.7" stroke="#222" stroke-width="0.14" text-anchor="end" fill="#222" >30</text>
<line x1="245.4" y1="90.6" x2="248" y2="90.6" stroke="#222" stroke-width="0.9"/>
<text x="241.5" y="92.6" font-size="5.7" stroke="#222" stroke-width="0.14" text-anchor="end" fill="#222" >20</text>
<line x1="245.4" y1="111.3" x2="248" y2="111.3" stroke="#222" stroke-width="0.9"/>
<text x="241.5" y="113.3" font-size="5.7" stroke="#222" stroke-width="0.14" text-anchor="end" fill="#222" >10</text>
<line x1="245.4" y1="132.0" x2="248" y2="132.0" stroke="#222" stroke-width="0.9"/>
<text x="241.5" y="134.0" font-size="5.7" stroke="#222" stroke-width="0.14" text-anchor="end" fill="#222" >0</text>
<line x1="248" y1="132.0" x2="359.5" y2="132.0" stroke="#111" stroke-width="1.4"/>
<path d="M257.5,132.0 V134.2 M276.2,132.0 V134.2" fill="none" stroke="#111" stroke-width="0.9"/>
<line x1="257.5" y1="132.6" x2="276.2" y2="132.6" stroke="#111" stroke-width="1.2"/>
<path d="M295,132.0 V134.2 M313.8,132.0 V134.2" fill="none" stroke="#111" stroke-width="0.9"/>
<line x1="295" y1="132.6" x2="313.8" y2="132.6" stroke="#111" stroke-width="1.2"/>
<path d="M332.5,132.0 V134.2 M351.1,132.0 V134.2" fill="none" stroke="#111" stroke-width="0.9"/>
<line x1="332.5" y1="132.6" x2="351.1" y2="132.6" stroke="#111" stroke-width="1.2"/>
<rect x="251.0" y="120" width="13.0" height="12.0" fill="#8b8b8b"/>
<rect x="251.25" y="120.25" width="12.5" height="11.5" fill="none" stroke="#1a1a1a" stroke-width="0.5" opacity="0.6"/>
<line x1="257.5" y1="119.3" x2="257.5" y2="120" stroke="#111" stroke-width="1.3"/>
<line x1="254.1" y1="119.3" x2="260.9" y2="119.3" stroke="#111" stroke-width="1.5"/>
<rect x="269.8" y="110" width="13.0" height="22.0" fill="#3b3b3b"/>
<rect x="270.05" y="110.25" width="12.5" height="21.5" fill="none" stroke="#1a1a1a" stroke-width="0.5" opacity="0.6"/>
<line x1="276.3" y1="109.2" x2="276.3" y2="110" stroke="#111" stroke-width="1.3"/>
<line x1="272.90000000000003" y1="109.2" x2="279.7" y2="109.2" stroke="#111" stroke-width="1.5"/>
<rect x="288.3" y="105" width="13.0" height="27.0" fill="#8b8b8b"/>
<rect x="288.55" y="105.25" width="12.5" height="26.5" fill="none" stroke="#1a1a1a" stroke-width="0.5" opacity="0.6"/>
<line x1="294.8" y1="101.4" x2="294.8" y2="105" stroke="#111" stroke-width="1.3"/>
<line x1="291.40000000000003" y1="101.4" x2="298.2" y2="101.4" stroke="#111" stroke-width="1.5"/>
<rect x="307.1" y="63.8" width="13.0" height="68.2" fill="#3b3b3b"/>
<rect x="307.35" y="64.05" width="12.5" height="67.7" fill="none" stroke="#1a1a1a" stroke-width="0.5" opacity="0.6"/>
<line x1="313.6" y1="58.2" x2="313.6" y2="63.8" stroke="#111" stroke-width="1.3"/>
<line x1="310.20000000000005" y1="58.2" x2="317.0" y2="58.2" stroke="#111" stroke-width="1.5"/>
<rect x="325.9" y="103.2" width="13.0" height="28.799999999999997" fill="#8b8b8b"/>
<rect x="326.15" y="103.45" width="12.5" height="28.299999999999997" fill="none" stroke="#1a1a1a" stroke-width="0.5" opacity="0.6"/>
<line x1="332.4" y1="98.3" x2="332.4" y2="103.2" stroke="#111" stroke-width="1.3"/>
<line x1="329.0" y1="98.3" x2="335.79999999999995" y2="98.3" stroke="#111" stroke-width="1.5"/>
<rect x="344.6" y="78" width="13.0" height="54.0" fill="#3b3b3b"/>
<rect x="344.85" y="78.25" width="12.5" height="53.5" fill="none" stroke="#1a1a1a" stroke-width="0.5" opacity="0.6"/>
<line x1="351.1" y1="72.2" x2="351.1" y2="78" stroke="#111" stroke-width="1.3"/>
<line x1="347.70000000000005" y1="72.2" x2="354.5" y2="72.2" stroke="#111" stroke-width="1.5"/>
<text x="276.3" y="109.0" font-size="7.4" stroke="#222" stroke-width="0.14" font-weight="bold" text-anchor="middle" fill="#222" >****</text>
<text x="295.1" y="95.8" font-size="6.2" stroke="#2a2a2a" stroke-width="0.25" font-weight="bold" text-anchor="middle" fill="#2a2a2a" font-style="italic" letter-spacing="0.55">##</text>
<text x="313.6" y="57.6" font-size="7.4" stroke="#222" stroke-width="0.14" font-weight="bold" text-anchor="middle" fill="#222" >***</text>
<text x="332.7" y="92.6" font-size="6.2" stroke="#2a2a2a" stroke-width="0.25" font-weight="bold" text-anchor="middle" fill="#2a2a2a" font-style="italic" letter-spacing="0.55">##</text>
<text x="351.1" y="71.89999999999999" font-size="7.4" stroke="#222" stroke-width="0.14" font-weight="bold" text-anchor="middle" fill="#222" >**</text>
<text x="228.39200000000002" y="90.5" font-size="7.2" text-anchor="middle" textLength="83" lengthAdjust="spacingAndGlyphs" fill="#111" stroke="#111" stroke-width="0.18" transform="rotate(-90 228.39200000000002 90.5)"><tspan>CD4</tspan><tspan font-size="4.464" dy="-2.736">+</tspan><tspan dy="2.736">​</tspan><tspan> CD25</tspan><tspan font-size="4.464" dy="-2.736">+</tspan><tspan dy="2.736">​</tspan><tspan> Foxp3</tspan><tspan font-size="4.464" dy="-2.736">+</tspan><tspan dy="2.736">​</tspan><tspan> (%)</tspan></text>
<line x1="396.2" y1="46" x2="396.2" y2="87" stroke="#222" stroke-width="1.4"/>
<line x1="393.59999999999997" y1="49.2" x2="396.2" y2="49.2" stroke="#222" stroke-width="0.9"/>
<text x="389.7" y="51.2" font-size="5.7" stroke="#222" stroke-width="0.14" text-anchor="end" fill="#222" >200</text>
<line x1="393.59999999999997" y1="60.0" x2="396.2" y2="60.0" stroke="#222" stroke-width="0.9"/>
<text x="389.7" y="62.0" font-size="5.7" stroke="#222" stroke-width="0.14" text-anchor="end" fill="#222" >150</text>
<line x1="393.59999999999997" y1="70.80000000000001" x2="396.2" y2="70.80000000000001" stroke="#222" stroke-width="0.9"/>
<text x="389.7" y="72.80000000000001" font-size="5.7" stroke="#222" stroke-width="0.14" text-anchor="end" fill="#222" >100</text>
<line x1="393.59999999999997" y1="81.6" x2="396.2" y2="81.6" stroke="#222" stroke-width="0.9"/>
<text x="389.7" y="83.6" font-size="5.7" stroke="#222" stroke-width="0.14" text-anchor="end" fill="#222" >50</text>
<line x1="393.8" y1="87" x2="398.59999999999997" y2="87" stroke="#222" stroke-width="0.9"/>
<line x1="396.2" y1="93.6" x2="396.2" y2="131.8" stroke="#222" stroke-width="1.4"/>
<line x1="393.59999999999997" y1="97.60000000000001" x2="396.2" y2="97.60000000000001" stroke="#222" stroke-width="0.9"/>
<text x="389.7" y="99.60000000000001" font-size="5.7" stroke="#222" stroke-width="0.14" text-anchor="end" fill="#222" >15</text>
<line x1="393.59999999999997" y1="109.00000000000001" x2="396.2" y2="109.00000000000001" stroke="#222" stroke-width="0.9"/>
<text x="389.7" y="111.00000000000001" font-size="5.7" stroke="#222" stroke-width="0.14" text-anchor="end" fill="#222" >10</text>
<line x1="393.59999999999997" y1="120.4" x2="396.2" y2="120.4" stroke="#222" stroke-width="0.9"/>
<text x="389.7" y="122.4" font-size="5.7" stroke="#222" stroke-width="0.14" text-anchor="end" fill="#222" >5</text>
<line x1="393.59999999999997" y1="131.8" x2="396.2" y2="131.8" stroke="#222" stroke-width="0.9"/>
<text x="389.7" y="133.8" font-size="5.7" stroke="#222" stroke-width="0.14" text-anchor="end" fill="#222" >0</text>
<line x1="393.8" y1="93.6" x2="398.59999999999997" y2="93.6" stroke="#222" stroke-width="0.9"/>
<line x1="396.2" y1="131.8" x2="510" y2="131.8" stroke="#111" stroke-width="1.4"/>
<path d="M388.59999999999997,131.8 V134.0 M407.4,131.8 V134.0" fill="none" stroke="#111" stroke-width="0.9"/>
<line x1="388.59999999999997" y1="132.4" x2="407.4" y2="132.4" stroke="#111" stroke-width="1.2"/>
<path d="M426.1,131.8 V134.0 M444.8,131.8 V134.0" fill="none" stroke="#111" stroke-width="0.9"/>
<line x1="426.1" y1="132.4" x2="444.8" y2="132.4" stroke="#111" stroke-width="1.2"/>
<path d="M463.5,131.8 V134.0 M482.3,131.8 V134.0" fill="none" stroke="#111" stroke-width="0.9"/>
<line x1="463.5" y1="132.4" x2="482.3" y2="132.4" stroke="#111" stroke-width="1.2"/>
<path d="M501.0,131.8 V134.0 M501.0,131.8 V134.0" fill="none" stroke="#111" stroke-width="0.9"/>
<line x1="501.0" y1="132.4" x2="501.0" y2="132.4" stroke="#111" stroke-width="1.2"/>
<rect x="400.9" y="72.528" width="13.0" height="14.471999999999994" fill="#8b8b8b"/>
<rect x="401.15" y="72.778" width="12.5" height="13.971999999999994" fill="none" stroke="#1a1a1a" stroke-width="0.5" opacity="0.6"/>
<line x1="407.4" y1="70.36800000000001" x2="407.4" y2="72.528" stroke="#111" stroke-width="1.3"/>
<line x1="404.0" y1="70.36800000000001" x2="410.79999999999995" y2="70.36800000000001" stroke="#111" stroke-width="1.5"/>
<rect x="400.9" y="95" width="13.0" height="36.80000000000001" fill="#8b8b8b"/>
<rect x="401.15" y="95.25" width="12.5" height="36.30000000000001" fill="none" stroke="#1a1a1a" stroke-width="0.5" opacity="0.6"/>
<rect x="419.6" y="60" width="13.0" height="27" fill="#3b3b3b"/>
<rect x="419.85" y="60.25" width="12.5" height="26.5" fill="none" stroke="#1a1a1a" stroke-width="0.5" opacity="0.6"/>
<line x1="426.1" y1="57" x2="426.1" y2="60" stroke="#111" stroke-width="1.3"/>
<line x1="422.70000000000005" y1="57" x2="429.5" y2="57" stroke="#111" stroke-width="1.5"/>
<rect x="419.6" y="95" width="13.0" height="36.80000000000001" fill="#3b3b3b"/>
<rect x="419.85" y="95.25" width="12.5" height="36.30000000000001" fill="none" stroke="#1a1a1a" stroke-width="0.5" opacity="0.6"/>
<rect x="438.3" y="130.6" width="13.0" height="1.200000000000017" fill="#8b8b8b"/>
<rect x="438.55" y="130.85" width="12.5" height="0.700000000000017" fill="none" stroke="#1a1a1a" stroke-width="0.5" opacity="0.6"/>
<line x1="444.8" y1="129.4" x2="444.8" y2="130.6" stroke="#111" stroke-width="1.3"/>
<line x1="441.40000000000003" y1="129.4" x2="448.2" y2="129.4" stroke="#111" stroke-width="1.5"/>
<rect x="457.0" y="105.3" width="13.0" height="26.500000000000014" fill="#3b3b3b"/>
<rect x="457.25" y="105.55" width="12.5" height="26.000000000000014" fill="none" stroke="#1a1a1a" stroke-width="0.5" opacity="0.6"/>
<line x1="463.5" y1="96.8" x2="463.5" y2="105.3" stroke="#111" stroke-width="1.3"/>
<line x1="460.1" y1="96.8" x2="466.9" y2="96.8" stroke="#111" stroke-width="1.5"/>
<rect x="475.8" y="130.8" width="13.0" height="1.0" fill="#8b8b8b"/>
<rect x="476.05" y="131.05" width="12.5" height="0.5" fill="none" stroke="#1a1a1a" stroke-width="0.5" opacity="0.6"/>
<line x1="482.3" y1="130" x2="482.3" y2="130.8" stroke="#111" stroke-width="1.3"/>
<line x1="478.90000000000003" y1="130" x2="485.7" y2="130" stroke="#111" stroke-width="1.5"/>
<rect x="494.5" y="128" width="13.0" height="3.8000000000000114" fill="#3b3b3b"/>
<rect x="494.75" y="128.25" width="12.5" height="3.3000000000000114" fill="none" stroke="#1a1a1a" stroke-width="0.5" opacity="0.6"/>
<line x1="501.0" y1="126.4" x2="501.0" y2="128" stroke="#111" stroke-width="1.3"/>
<line x1="497.6" y1="126.4" x2="504.4" y2="126.4" stroke="#111" stroke-width="1.5"/>
<text x="426.1" y="56.7" font-size="7.4" stroke="#222" stroke-width="0.14" font-weight="bold" text-anchor="middle" fill="#222" >**</text>
<text x="445.1" y="124.0" font-size="6.2" stroke="#2a2a2a" stroke-width="0.25" font-weight="bold" text-anchor="middle" fill="#2a2a2a" font-style="italic" letter-spacing="0.55">###</text>
<text x="463.5" y="95.69999999999999" font-size="7.4" stroke="#222" stroke-width="0.14" font-weight="bold" text-anchor="middle" fill="#222" >**</text>
<text x="482.6" y="120.6" font-size="6.2" stroke="#2a2a2a" stroke-width="0.25" font-weight="bold" text-anchor="middle" fill="#2a2a2a" font-style="italic" letter-spacing="0.55">###</text>
<text x="373.49199999999996" y="90" font-size="7.2" text-anchor="middle" textLength="93" lengthAdjust="spacingAndGlyphs" fill="#111" stroke="#111" stroke-width="0.18" transform="rotate(-90 373.49199999999996 90)"><tspan>CD4</tspan><tspan font-size="4.464" dy="-2.736">+</tspan><tspan dy="2.736">​</tspan><tspan> CD25</tspan><tspan font-size="4.464" dy="-2.736">+</tspan><tspan dy="2.736">​</tspan><tspan> Foxp3</tspan><tspan font-size="4.464" dy="-2.736">+</tspan><tspan dy="2.736">​</tspan><tspan> (×10</tspan><tspan font-size="4.464" dy="-2.736">3</tspan><tspan dy="2.736">​</tspan><tspan>)</tspan></text>
<line x1="248" y1="144.5" x2="248" y2="228.6" stroke="#222" stroke-width="1.4"/>
<line x1="245.4" y1="146.6" x2="248" y2="146.6" stroke="#222" stroke-width="0.9"/>
<text x="241.5" y="148.6" font-size="5.7" stroke="#222" stroke-width="0.14" text-anchor="end" fill="#222" >40</text>
<line x1="245.4" y1="167.1" x2="248" y2="167.1" stroke="#222" stroke-width="0.9"/>
<text x="241.5" y="169.1" font-size="5.7" stroke="#222" stroke-width="0.14" text-anchor="end" fill="#222" >30</text>
<line x1="245.4" y1="187.6" x2="248" y2="187.6" stroke="#222" stroke-width="0.9"/>
<text x="241.5" y="189.6" font-size="5.7" stroke="#222" stroke-width="0.14" text-anchor="end" fill="#222" >20</text>
<line x1="245.4" y1="208.1" x2="248" y2="208.1" stroke="#222" stroke-width="0.9"/>
<text x="241.5" y="210.1" font-size="5.7" stroke="#222" stroke-width="0.14" text-anchor="end" fill="#222" >10</text>
<line x1="245.4" y1="228.6" x2="248" y2="228.6" stroke="#222" stroke-width="0.9"/>
<text x="241.5" y="230.6" font-size="5.7" stroke="#222" stroke-width="0.14" text-anchor="end" fill="#222" >0</text>
<line x1="248" y1="228.6" x2="359.5" y2="228.6" stroke="#111" stroke-width="1.4"/>
<path d="M257.5,228.6 V231.0 M276.2,228.6 V231.0" fill="none" stroke="#111" stroke-width="0.9"/>
<line x1="257.5" y1="229.2" x2="276.2" y2="229.2" stroke="#111" stroke-width="1.2"/>
<path d="M295,228.6 V231.0 M313.8,228.6 V231.0" fill="none" stroke="#111" stroke-width="0.9"/>
<line x1="295" y1="229.2" x2="313.8" y2="229.2" stroke="#111" stroke-width="1.2"/>
<path d="M332.5,228.6 V231.0 M351.1,228.6 V231.0" fill="none" stroke="#111" stroke-width="0.9"/>
<line x1="332.5" y1="229.2" x2="351.1" y2="229.2" stroke="#111" stroke-width="1.2"/>
<rect x="251.0" y="222" width="13.0" height="6.599999999999994" fill="#8b8b8b"/>
<rect x="251.25" y="222.25" width="12.5" height="6.099999999999994" fill="none" stroke="#1a1a1a" stroke-width="0.5" opacity="0.6"/>
<line x1="257.5" y1="220.5" x2="257.5" y2="222" stroke="#111" stroke-width="1.3"/>
<line x1="254.1" y1="220.5" x2="260.9" y2="220.5" stroke="#111" stroke-width="1.5"/>
<rect x="269.8" y="194.5" width="13.0" height="34.099999999999994" fill="#3b3b3b"/>
<rect x="270.05" y="194.75" width="12.5" height="33.599999999999994" fill="none" stroke="#1a1a1a" stroke-width="0.5" opacity="0.6"/>
<line x1="276.3" y1="188.3" x2="276.3" y2="194.5" stroke="#111" stroke-width="1.3"/>
<line x1="272.90000000000003" y1="188.3" x2="279.7" y2="188.3" stroke="#111" stroke-width="1.5"/>
<rect x="288.3" y="220" width="13.0" height="8.599999999999994" fill="#8b8b8b"/>
<rect x="288.55" y="220.25" width="12.5" height="8.099999999999994" fill="none" stroke="#1a1a1a" stroke-width="0.5" opacity="0.6"/>
<line x1="294.8" y1="217" x2="294.8" y2="220" stroke="#111" stroke-width="1.3"/>
<line x1="291.40000000000003" y1="217" x2="298.2" y2="217" stroke="#111" stroke-width="1.5"/>
<rect x="307.1" y="190.5" width="13.0" height="38.099999999999994" fill="#3b3b3b"/>
<rect x="307.35" y="190.75" width="12.5" height="37.599999999999994" fill="none" stroke="#1a1a1a" stroke-width="0.5" opacity="0.6"/>
<line x1="313.6" y1="187" x2="313.6" y2="190.5" stroke="#111" stroke-width="1.3"/>
<line x1="310.20000000000005" y1="187" x2="317.0" y2="187" stroke="#111" stroke-width="1.5"/>
<rect x="325.9" y="209.3" width="13.0" height="19.299999999999983" fill="#8b8b8b"/>
<rect x="326.15" y="209.55" width="12.5" height="18.799999999999983" fill="none" stroke="#1a1a1a" stroke-width="0.5" opacity="0.6"/>
<line x1="332.4" y1="206.3" x2="332.4" y2="209.3" stroke="#111" stroke-width="1.3"/>
<line x1="329.0" y1="206.3" x2="335.79999999999995" y2="206.3" stroke="#111" stroke-width="1.5"/>
<rect x="344.6" y="170" width="13.0" height="58.599999999999994" fill="#3b3b3b"/>
<rect x="344.85" y="170.25" width="12.5" height="58.099999999999994" fill="none" stroke="#1a1a1a" stroke-width="0.5" opacity="0.6"/>
<line x1="351.1" y1="163.3" x2="351.1" y2="170" stroke="#111" stroke-width="1.3"/>
<line x1="347.70000000000005" y1="163.3" x2="354.5" y2="163.3" stroke="#111" stroke-width="1.5"/>
<text x="276.3" y="186.7" font-size="7.4" stroke="#222" stroke-width="0.14" font-weight="bold" text-anchor="middle" fill="#222" >**</text>
<text x="313.6" y="186.7" font-size="7.4" stroke="#222" stroke-width="0.14" font-weight="bold" text-anchor="middle" fill="#222" >***</text>
<text x="332.7" y="200.3" font-size="6.2" stroke="#2a2a2a" stroke-width="0.25" font-weight="bold" text-anchor="middle" fill="#2a2a2a" font-style="italic" letter-spacing="0.55">##</text>
<text x="351.1" y="162.9" font-size="7.4" stroke="#222" stroke-width="0.14" font-weight="bold" text-anchor="middle" fill="#222" >***</text>
<text x="230.792" y="190.5" font-size="7.2" text-anchor="middle" textLength="59" lengthAdjust="spacingAndGlyphs" fill="#111" stroke="#111" stroke-width="0.18" transform="rotate(-90 230.792 190.5)"><tspan>ST2</tspan><tspan font-size="4.464" dy="-2.736">+</tspan><tspan dy="2.736">​</tspan><tspan> Foxp3</tspan><tspan font-size="4.464" dy="-2.736">+</tspan><tspan dy="2.736">​</tspan><tspan> (%)</tspan></text>
<text x="266.9" y="241.3" font-size="6.4" stroke="#222" stroke-width="0.14" text-anchor="middle" fill="#222" >d0</text>
<text x="304.4" y="241.3" font-size="6.4" stroke="#222" stroke-width="0.14" text-anchor="middle" fill="#222" >d2</text>
<text x="341.1" y="241.3" font-size="6.4" stroke="#222" stroke-width="0.14" text-anchor="middle" fill="#222" >d4</text>
<line x1="396.2" y1="154.2" x2="396.2" y2="175.6" stroke="#222" stroke-width="1.4"/>
<line x1="393.59999999999997" y1="155.0" x2="396.2" y2="155.0" stroke="#222" stroke-width="0.9"/>
<text x="389.7" y="157.0" font-size="4.8" stroke="#222" stroke-width="0.14" text-anchor="end" fill="#222" >300</text>
<line x1="393.59999999999997" y1="160.15" x2="396.2" y2="160.15" stroke="#222" stroke-width="0.9"/>
<text x="389.7" y="162.15" font-size="4.8" stroke="#222" stroke-width="0.14" text-anchor="end" fill="#222" >250</text>
<line x1="393.59999999999997" y1="165.3" x2="396.2" y2="165.3" stroke="#222" stroke-width="0.9"/>
<text x="389.7" y="167.3" font-size="4.8" stroke="#222" stroke-width="0.14" text-anchor="end" fill="#222" >200</text>
<line x1="393.59999999999997" y1="170.45" x2="396.2" y2="170.45" stroke="#222" stroke-width="0.9"/>
<text x="389.7" y="172.45" font-size="4.8" stroke="#222" stroke-width="0.14" text-anchor="end" fill="#222" >150</text>
<line x1="393.59999999999997" y1="175.6" x2="396.2" y2="175.6" stroke="#222" stroke-width="0.9"/>
<text x="389.7" y="177.6" font-size="4.8" stroke="#222" stroke-width="0.14" text-anchor="end" fill="#222" >100</text>
<line x1="393.8" y1="175.6" x2="398.59999999999997" y2="175.6" stroke="#222" stroke-width="0.9"/>
<line x1="396.2" y1="181.9" x2="396.2" y2="202.8" stroke="#222" stroke-width="1.4"/>
<line x1="393.59999999999997" y1="182.5" x2="396.2" y2="182.5" stroke="#222" stroke-width="0.9"/>
<text x="389.7" y="184.5" font-size="4.8" stroke="#222" stroke-width="0.14" text-anchor="end" fill="#222" >50</text>
<line x1="393.59999999999997" y1="187.575" x2="396.2" y2="187.575" stroke="#222" stroke-width="0.9"/>
<text x="389.7" y="189.575" font-size="4.8" stroke="#222" stroke-width="0.14" text-anchor="end" fill="#222" >40</text>
<line x1="393.59999999999997" y1="192.65" x2="396.2" y2="192.65" stroke="#222" stroke-width="0.9"/>
<text x="389.7" y="194.65" font-size="4.8" stroke="#222" stroke-width="0.14" text-anchor="end" fill="#222" >30</text>
<line x1="393.59999999999997" y1="197.725" x2="396.2" y2="197.725" stroke="#222" stroke-width="0.9"/>
<text x="389.7" y="199.725" font-size="4.8" stroke="#222" stroke-width="0.14" text-anchor="end" fill="#222" >20</text>
<line x1="393.59999999999997" y1="202.8" x2="396.2" y2="202.8" stroke="#222" stroke-width="0.9"/>
<text x="389.7" y="204.8" font-size="4.8" stroke="#222" stroke-width="0.14" text-anchor="end" fill="#222" >10</text>
<line x1="393.8" y1="181.9" x2="398.59999999999997" y2="181.9" stroke="#222" stroke-width="0.9"/>
<line x1="393.8" y1="202.8" x2="398.59999999999997" y2="202.8" stroke="#222" stroke-width="0.9"/>
<line x1="396.2" y1="208.8" x2="396.2" y2="229" stroke="#222" stroke-width="1.4"/>
<line x1="393.59999999999997" y1="209.0" x2="396.2" y2="209.0" stroke="#222" stroke-width="0.9"/>
<text x="389.7" y="211.0" font-size="4.8" stroke="#222" stroke-width="0.14" text-anchor="end" fill="#222" >6</text>
<line x1="393.59999999999997" y1="215.66666666666666" x2="396.2" y2="215.66666666666666" stroke="#222" stroke-width="0.9"/>
<text x="389.7" y="217.66666666666666" font-size="4.8" stroke="#222" stroke-width="0.14" text-anchor="end" fill="#222" >4</text>
<line x1="393.59999999999997" y1="222.33333333333334" x2="396.2" y2="222.33333333333334" stroke="#222" stroke-width="0.9"/>
<text x="389.7" y="224.33333333333334" font-size="4.8" stroke="#222" stroke-width="0.14" text-anchor="end" fill="#222" >2</text>
<line x1="393.59999999999997" y1="229.0" x2="396.2" y2="229.0" stroke="#222" stroke-width="0.9"/>
<text x="389.7" y="231.0" font-size="4.8" stroke="#222" stroke-width="0.14" text-anchor="end" fill="#222" >0</text>
<line x1="393.8" y1="208.8" x2="398.59999999999997" y2="208.8" stroke="#222" stroke-width="0.9"/>
<line x1="396.2" y1="229" x2="513" y2="229" stroke="#111" stroke-width="1.4"/>
<path d="M407.4,229 V231.6 M426.1,229 V231.6" fill="none" stroke="#111" stroke-width="0.9"/>
<line x1="407.4" y1="229.6" x2="426.1" y2="229.6" stroke="#111" stroke-width="1.2"/>
<path d="M444.8,229 V231.6 M463.5,229 V231.6" fill="none" stroke="#111" stroke-width="0.9"/>
<line x1="444.8" y1="229.6" x2="463.5" y2="229.6" stroke="#111" stroke-width="1.2"/>
<path d="M482.3,229 V231.6 M501.0,229 V231.6" fill="none" stroke="#111" stroke-width="0.9"/>
<line x1="482.3" y1="229.6" x2="501.0" y2="229.6" stroke="#111" stroke-width="1.2"/>
<rect x="400.9" y="195.3" width="13.0" height="7.5" fill="#8b8b8b"/>
<rect x="401.15" y="195.55" width="12.5" height="7.0" fill="none" stroke="#1a1a1a" stroke-width="0.5" opacity="0.6"/>
<line x1="407.4" y1="192.6" x2="407.4" y2="195.3" stroke="#111" stroke-width="1.3"/>
<line x1="404.0" y1="192.6" x2="410.79999999999995" y2="192.6" stroke="#111" stroke-width="1.5"/>
<rect x="400.9" y="209.6" width="13.0" height="19.400000000000006" fill="#8b8b8b"/>
<rect x="401.15" y="209.85" width="12.5" height="18.900000000000006" fill="none" stroke="#1a1a1a" stroke-width="0.5" opacity="0.6"/>
<rect x="419.6" y="163.1" width="13.0" height="12.300000000000011" fill="#3b3b3b"/>
<rect x="419.85" y="163.35" width="12.5" height="11.800000000000011" fill="none" stroke="#1a1a1a" stroke-width="0.5" opacity="0.6"/>
<line x1="426.1" y1="157.4" x2="426.1" y2="163.1" stroke="#111" stroke-width="1.3"/>
<line x1="422.70000000000005" y1="157.4" x2="429.5" y2="157.4" stroke="#111" stroke-width="1.5"/>
<rect x="419.6" y="182.5" width="13.0" height="19.80000000000001" fill="#3b3b3b"/>
<rect x="419.85" y="182.75" width="12.5" height="19.30000000000001" fill="none" stroke="#1a1a1a" stroke-width="0.5" opacity="0.6"/>
<rect x="419.6" y="209.6" width="13.0" height="19.400000000000006" fill="#3b3b3b"/>
<rect x="419.85" y="209.85" width="12.5" height="18.900000000000006" fill="none" stroke="#1a1a1a" stroke-width="0.5" opacity="0.6"/>
<rect x="438.3" y="227.6" width="13.0" height="1.4000000000000057" fill="#8b8b8b"/>
<rect x="438.55" y="227.85" width="12.5" height="0.9000000000000057" fill="none" stroke="#1a1a1a" stroke-width="0.5" opacity="0.6"/>
<line x1="444.8" y1="226.8" x2="444.8" y2="227.6" stroke="#111" stroke-width="1.3"/>
<line x1="441.40000000000003" y1="226.8" x2="448.2" y2="226.8" stroke="#111" stroke-width="1.5"/>
<rect x="457.0" y="197.2" width="13.0" height="5.100000000000023" fill="#3b3b3b"/>
<rect x="457.25" y="197.45" width="12.5" height="4.600000000000023" fill="none" stroke="#1a1a1a" stroke-width="0.5" opacity="0.6"/>
<line x1="463.5" y1="193.6" x2="463.5" y2="197.2" stroke="#111" stroke-width="1.3"/>
<line x1="460.1" y1="193.6" x2="466.9" y2="193.6" stroke="#111" stroke-width="1.5"/>
<rect x="457.0" y="209.6" width="13.0" height="19.400000000000006" fill="#3b3b3b"/>
<rect x="457.25" y="209.85" width="12.5" height="18.900000000000006" fill="none" stroke="#1a1a1a" stroke-width="0.5" opacity="0.6"/>
<rect x="475.8" y="227.8" width="13.0" height="1.1999999999999886" fill="#8b8b8b"/>
<rect x="476.05" y="228.05" width="12.5" height="0.6999999999999886" fill="none" stroke="#1a1a1a" stroke-width="0.5" opacity="0.6"/>
<line x1="482.3" y1="227" x2="482.3" y2="227.8" stroke="#111" stroke-width="1.3"/>
<line x1="478.90000000000003" y1="227" x2="485.7" y2="227" stroke="#111" stroke-width="1.5"/>
<rect x="494.5" y="215.9" width="13.0" height="13.099999999999994" fill="#3b3b3b"/>
<rect x="494.75" y="216.15" width="12.5" height="12.599999999999994" fill="none" stroke="#1a1a1a" stroke-width="0.5" opacity="0.6"/>
<line x1="501.0" y1="210" x2="501.0" y2="215.9" stroke="#111" stroke-width="1.3"/>
<line x1="497.6" y1="210" x2="504.4" y2="210" stroke="#111" stroke-width="1.5"/>
<text x="426.1" y="156.5" font-size="7.4" stroke="#222" stroke-width="0.14" font-weight="bold" text-anchor="middle" fill="#222" >**</text>
<text x="445.1" y="221.4" font-size="6.2" stroke="#2a2a2a" stroke-width="0.25" font-weight="bold" text-anchor="middle" fill="#2a2a2a" font-style="italic" letter-spacing="0.55">##</text>
<text x="463.5" y="192.9" font-size="7.4" stroke="#222" stroke-width="0.14" font-weight="bold" text-anchor="middle" fill="#222" >*</text>
<text x="482.6" y="219.2" font-size="6.2" stroke="#2a2a2a" stroke-width="0.25" font-weight="bold" text-anchor="middle" fill="#2a2a2a" font-style="italic" letter-spacing="0.55">##</text>
<text x="501.0" y="209.2" font-size="7.4" stroke="#222" stroke-width="0.14" font-weight="bold" text-anchor="middle" fill="#222" >*</text>
<text x="374.192" y="189.3" font-size="7.2" text-anchor="middle" textLength="74" lengthAdjust="spacingAndGlyphs" fill="#111" stroke="#111" stroke-width="0.18" transform="rotate(-90 374.192 189.3)"><tspan>ST2</tspan><tspan font-size="4.464" dy="-2.736">+</tspan><tspan dy="2.736">​</tspan><tspan> Foxp3</tspan><tspan font-size="4.464" dy="-2.736">+</tspan><tspan dy="2.736">​</tspan><tspan> (×10</tspan><tspan font-size="4.464" dy="-2.736">3</tspan><tspan dy="2.736">​</tspan><tspan>)</tspan></text>
<text x="417" y="241.3" font-size="6.4" stroke="#222" stroke-width="0.14" text-anchor="middle" fill="#222" >d0</text>
<text x="456" y="241.3" font-size="6.4" stroke="#222" stroke-width="0.14" text-anchor="middle" fill="#222" >d2</text>
<text x="494.6" y="241.3" font-size="6.4" stroke="#222" stroke-width="0.14" text-anchor="middle" fill="#222" >d4</text>
<text x="347.9" y="252.7" font-size="8.8" stroke="#222" stroke-width="0.35" textLength="60" lengthAdjust="spacingAndGlyphs" fill="#222" >Days (d) post-TBI</text>
<text x="218.4" y="267.6" font-size="11" stroke="#111" stroke-width="0.25" font-weight="bold" >E</text>
<text x="341.1" y="270.2" font-size="8.9" stroke="#111" stroke-width="0.14" font-weight="bold" textLength="61.4" lengthAdjust="spacingAndGlyphs" >Bone Marrow</text>
<line x1="288" y1="276.3" x2="462" y2="276.3" stroke="#111" stroke-width="1.4"/>
<rect x="286.8" y="282.6" width="4.2" height="4.2" fill="#8b8b8b"/>
<text x="293.8" y="287" font-size="6.2" stroke="#222" stroke-width="0.14" textLength="29" lengthAdjust="spacingAndGlyphs" fill="#222" >Untreated</text>
<rect x="335.6" y="282.6" width="4.2" height="4.2" fill="#3b3b3b"/>
<text x="342.0" y="287" font-size="6.2" stroke="#222" stroke-width="0.14" textLength="21" lengthAdjust="spacingAndGlyphs" fill="#222" >+ IL-33</text>
<text x="374.8" y="285.0" font-size="5" stroke="#222" stroke-width="0.14" fill="#222" >*</text>
<text x="379.6" y="287" font-size="6.2" stroke="#222" stroke-width="0.14" textLength="31.2" lengthAdjust="spacingAndGlyphs" fill="#222" >vs. Control</text>
<text x="423.6" y="286.7" font-size="4.6" stroke="#222" stroke-width="0.14" fill="#222" font-style="italic">#</text>
<text x="428.6" y="287" font-size="6.2" stroke="#222" stroke-width="0.14" textLength="40.5" lengthAdjust="spacingAndGlyphs" fill="#222" >vs. Control d0</text>
<line x1="248" y1="295" x2="248" y2="378.8" stroke="#222" stroke-width="1.4"/>
<line x1="245.4" y1="297.8" x2="248" y2="297.8" stroke="#222" stroke-width="0.9"/>
<text x="241.5" y="299.8" font-size="5.7" stroke="#222" stroke-width="0.14" text-anchor="end" fill="#222" >60</text>
<line x1="245.4" y1="324.8" x2="248" y2="324.8" stroke="#222" stroke-width="0.9"/>
<text x="241.5" y="326.8" font-size="5.7" stroke="#222" stroke-width="0.14" text-anchor="end" fill="#222" >40</text>
<line x1="245.4" y1="351.8" x2="248" y2="351.8" stroke="#222" stroke-width="0.9"/>
<text x="241.5" y="353.8" font-size="5.7" stroke="#222" stroke-width="0.14" text-anchor="end" fill="#222" >20</text>
<line x1="245.4" y1="378.8" x2="248" y2="378.8" stroke="#222" stroke-width="0.9"/>
<text x="241.5" y="380.8" font-size="5.7" stroke="#222" stroke-width="0.14" text-anchor="end" fill="#222" >0</text>
<rect x="251.0" y="351.8" width="13.0" height="27.0" fill="#8b8b8b"/>
<rect x="251.25" y="352.05" width="12.5" height="26.5" fill="none" stroke="#1a1a1a" stroke-width="0.5" opacity="0.6"/>
<line x1="257.5" y1="348.3" x2="257.5" y2="351.8" stroke="#111" stroke-width="1.3"/>
<line x1="254.1" y1="348.3" x2="260.9" y2="348.3" stroke="#111" stroke-width="1.5"/>
<rect x="269.8" y="344" width="13.0" height="34.80000000000001" fill="#3b3b3b"/>
<rect x="270.05" y="344.25" width="12.5" height="34.30000000000001" fill="none" stroke="#1a1a1a" stroke-width="0.5" opacity="0.6"/>
<line x1="276.3" y1="339.5" x2="276.3" y2="344" stroke="#111" stroke-width="1.3"/>
<line x1="272.90000000000003" y1="339.5" x2="279.7" y2="339.5" stroke="#111" stroke-width="1.5"/>
<rect x="288.3" y="360.5" width="13.0" height="18.30000000000001" fill="#8b8b8b"/>
<rect x="288.55" y="360.75" width="12.5" height="17.80000000000001" fill="none" stroke="#1a1a1a" stroke-width="0.5" opacity="0.6"/>
<line x1="294.8" y1="359.2" x2="294.8" y2="360.5" stroke="#111" stroke-width="1.3"/>
<line x1="291.40000000000003" y1="359.2" x2="298.2" y2="359.2" stroke="#111" stroke-width="1.5"/>
<rect x="307.1" y="345.8" width="13.0" height="33.0" fill="#3b3b3b"/>
<rect x="307.35" y="346.05" width="12.5" height="32.5" fill="none" stroke="#1a1a1a" stroke-width="0.5" opacity="0.6"/>
<line x1="313.6" y1="337" x2="313.6" y2="345.8" stroke="#111" stroke-width="1.3"/>
<line x1="310.20000000000005" y1="337" x2="317.0" y2="337" stroke="#111" stroke-width="1.5"/>
<rect x="325.9" y="352" width="13.0" height="26.80000000000001" fill="#8b8b8b"/>
<rect x="326.15" y="352.25" width="12.5" height="26.30000000000001" fill="none" stroke="#1a1a1a" stroke-width="0.5" opacity="0.6"/>
<line x1="332.4" y1="347.5" x2="332.4" y2="352" stroke="#111" stroke-width="1.3"/>
<line x1="329.0" y1="347.5" x2="335.79999999999995" y2="347.5" stroke="#111" stroke-width="1.5"/>
<rect x="344.6" y="323" width="13.0" height="55.80000000000001" fill="#3b3b3b"/>
<rect x="344.85" y="323.25" width="12.5" height="55.30000000000001" fill="none" stroke="#1a1a1a" stroke-width="0.5" opacity="0.6"/>
<line x1="351.1" y1="313" x2="351.1" y2="323" stroke="#111" stroke-width="1.3"/>
<line x1="347.70000000000005" y1="313" x2="354.5" y2="313" stroke="#111" stroke-width="1.5"/>
<line x1="248" y1="378.8" x2="359.5" y2="378.8" stroke="#111" stroke-width="1.4"/>
<path d="M257.5,378.8 V381.40000000000003 H276.2 V378.8" fill="none" stroke="#111" stroke-width="0.9"/>
<path d="M295,378.8 V381.40000000000003 H313.8 V378.8" fill="none" stroke="#111" stroke-width="0.9"/>
<path d="M332.5,378.8 V381.40000000000003 H351.1 V378.8" fill="none" stroke="#111" stroke-width="0.9"/>
<text x="295.1" y="353.5" font-size="6.2" stroke="#2a2a2a" stroke-width="0.25" font-weight="bold" text-anchor="middle" fill="#2a2a2a" font-style="italic" letter-spacing="0.55">#</text>
<text x="351.1" y="312.3" font-size="7.4" stroke="#222" stroke-width="0.14" font-weight="bold" text-anchor="middle" fill="#222" >*</text>
<text x="228.592" y="339" font-size="7.2" text-anchor="middle" textLength="83" lengthAdjust="spacingAndGlyphs" fill="#111" stroke="#111" stroke-width="0.18" transform="rotate(-90 228.592 339)"><tspan>CD4</tspan><tspan font-size="4.464" dy="-2.736">+</tspan><tspan dy="2.736">​</tspan><tspan> CD25</tspan><tspan font-size="4.464" dy="-2.736">+</tspan><tspan dy="2.736">​</tspan><tspan> Foxp3</tspan><tspan font-size="4.464" dy="-2.736">+</tspan><tspan dy="2.736">​</tspan><tspan> (%)</tspan></text>
<line x1="396.2" y1="295" x2="396.2" y2="335.5" stroke="#222" stroke-width="1.4"/>
<line x1="393.59999999999997" y1="297.0" x2="396.2" y2="297.0" stroke="#222" stroke-width="0.9"/>
<text x="389.7" y="299.0" font-size="5.7" stroke="#222" stroke-width="0.14" text-anchor="end" fill="#222" >20</text>
<line x1="393.59999999999997" y1="309.5" x2="396.2" y2="309.5" stroke="#222" stroke-width="0.9"/>
<text x="389.7" y="311.5" font-size="5.7" stroke="#222" stroke-width="0.14" text-anchor="end" fill="#222" >15</text>
<line x1="393.59999999999997" y1="322.0" x2="396.2" y2="322.0" stroke="#222" stroke-width="0.9"/>
<text x="389.7" y="324.0" font-size="5.7" stroke="#222" stroke-width="0.14" text-anchor="end" fill="#222" >10</text>
<line x1="393.59999999999997" y1="334.5" x2="396.2" y2="334.5" stroke="#222" stroke-width="0.9"/>
<text x="389.7" y="336.5" font-size="5.7" stroke="#222" stroke-width="0.14" text-anchor="end" fill="#222" >5</text>
<line x1="393.8" y1="335.5" x2="398.59999999999997" y2="335.5" stroke="#222" stroke-width="0.9"/>
<line x1="396.2" y1="341.3" x2="396.2" y2="378.6" stroke="#222" stroke-width="1.4"/>
<line x1="393.59999999999997" y1="342.20000000000005" x2="396.2" y2="342.20000000000005" stroke="#222" stroke-width="0.9"/>
<text x="389.7" y="344.20000000000005" font-size="5.7" stroke="#222" stroke-width="0.14" text-anchor="end" fill="#222" >4</text>
<line x1="393.59999999999997" y1="351.3" x2="396.2" y2="351.3" stroke="#222" stroke-width="0.9"/>
<text x="389.7" y="353.3" font-size="5.7" stroke="#222" stroke-width="0.14" text-anchor="end" fill="#222" >3</text>
<line x1="393.59999999999997" y1="360.40000000000003" x2="396.2" y2="360.40000000000003" stroke="#222" stroke-width="0.9"/>
<text x="389.7" y="362.40000000000003" font-size="5.7" stroke="#222" stroke-width="0.14" text-anchor="end" fill="#222" >2</text>
<line x1="393.59999999999997" y1="369.5" x2="396.2" y2="369.5" stroke="#222" stroke-width="0.9"/>
<text x="389.7" y="371.5" font-size="5.7" stroke="#222" stroke-width="0.14" text-anchor="end" fill="#222" >1</text>
<line x1="393.59999999999997" y1="378.6" x2="396.2" y2="378.6" stroke="#222" stroke-width="0.9"/>
<text x="389.7" y="380.6" font-size="5.7" stroke="#222" stroke-width="0.14" text-anchor="end" fill="#222" >0</text>
<line x1="393.8" y1="341.3" x2="398.59999999999997" y2="341.3" stroke="#222" stroke-width="0.9"/>
<rect x="400.9" y="315.8" width="13.0" height="18.69999999999999" fill="#8b8b8b"/>
<rect x="401.15" y="316.05" width="12.5" height="18.19999999999999" fill="none" stroke="#1a1a1a" stroke-width="0.5" opacity="0.6"/>
<line x1="407.4" y1="308" x2="407.4" y2="315.8" stroke="#111" stroke-width="1.3"/>
<line x1="404.0" y1="308" x2="410.79999999999995" y2="308" stroke="#111" stroke-width="1.5"/>
<rect x="400.9" y="342.5" width="13.0" height="36.10000000000002" fill="#8b8b8b"/>
<rect x="401.15" y="342.75" width="12.5" height="35.60000000000002" fill="none" stroke="#1a1a1a" stroke-width="0.5" opacity="0.6"/>
<rect x="419.6" y="317.3" width="13.0" height="17.19999999999999" fill="#3b3b3b"/>
<rect x="419.85" y="317.55" width="12.5" height="16.69999999999999" fill="none" stroke="#1a1a1a" stroke-width="0.5" opacity="0.6"/>
<line x1="426.1" y1="313.3" x2="426.1" y2="317.3" stroke="#111" stroke-width="1.3"/>
<line x1="422.70000000000005" y1="313.3" x2="429.5" y2="313.3" stroke="#111" stroke-width="1.5"/>
<rect x="419.6" y="342.5" width="13.0" height="36.10000000000002" fill="#3b3b3b"/>
<rect x="419.85" y="342.75" width="12.5" height="35.60000000000002" fill="none" stroke="#1a1a1a" stroke-width="0.5" opacity="0.6"/>
<rect x="438.3" y="371" width="13.0" height="7.600000000000023" fill="#8b8b8b"/>
<rect x="438.55" y="371.25" width="12.5" height="7.100000000000023" fill="none" stroke="#1a1a1a" stroke-width="0.5" opacity="0.6"/>
<line x1="444.8" y1="365.5" x2="444.8" y2="371" stroke="#111" stroke-width="1.3"/>
<line x1="441.40000000000003" y1="365.5" x2="448.2" y2="365.5" stroke="#111" stroke-width="1.5"/>
<rect x="457.0" y="362.1" width="13.0" height="16.5" fill="#3b3b3b"/>
<rect x="457.25" y="362.35" width="12.5" height="16.0" fill="none" stroke="#1a1a1a" stroke-width="0.5" opacity="0.6"/>
<line x1="463.5" y1="354.4" x2="463.5" y2="362.1" stroke="#111" stroke-width="1.3"/>
<line x1="460.1" y1="354.4" x2="466.9" y2="354.4" stroke="#111" stroke-width="1.5"/>
<rect x="475.8" y="376.5" width="13.0" height="2.1000000000000227" fill="#8b8b8b"/>
<rect x="476.05" y="376.75" width="12.5" height="1.6000000000000227" fill="none" stroke="#1a1a1a" stroke-width="0.5" opacity="0.6"/>
<line x1="482.3" y1="375.8" x2="482.3" y2="376.5" stroke="#111" stroke-width="1.3"/>
<line x1="478.90000000000003" y1="375.8" x2="485.7" y2="375.8" stroke="#111" stroke-width="1.5"/>
<rect x="494.5" y="370" width="13.0" height="8.600000000000023" fill="#3b3b3b"/>
<rect x="494.75" y="370.25" width="12.5" height="8.100000000000023" fill="none" stroke="#1a1a1a" stroke-width="0.5" opacity="0.6"/>
<line x1="501.0" y1="365.5" x2="501.0" y2="370" stroke="#111" stroke-width="1.3"/>
<line x1="497.6" y1="365.5" x2="504.4" y2="365.5" stroke="#111" stroke-width="1.5"/>
<line x1="396.2" y1="378.6" x2="510" y2="378.6" stroke="#111" stroke-width="1.4"/>
<path d="M407.4,378.6 V381.3 H426.1 V378.6" fill="none" stroke="#111" stroke-width="0.9"/>
<path d="M444.8,378.6 V381.3 H463.5 V378.6" fill="none" stroke="#111" stroke-width="0.9"/>
<path d="M482.3,378.6 V381.3 H501.0 V378.6" fill="none" stroke="#111" stroke-width="0.9"/>
<text x="445.1" y="359.8" font-size="6.2" stroke="#2a2a2a" stroke-width="0.25" font-weight="bold" text-anchor="middle" fill="#2a2a2a" font-style="italic" letter-spacing="0.55">##</text>
<text x="482.6" y="372.2" font-size="6.2" stroke="#2a2a2a" stroke-width="0.25" font-weight="bold" text-anchor="middle" fill="#2a2a2a" font-style="italic" letter-spacing="0.55">##</text>
<text x="374.092" y="338" font-size="7.2" text-anchor="middle" textLength="93" lengthAdjust="spacingAndGlyphs" fill="#111" stroke="#111" stroke-width="0.18" transform="rotate(-90 374.092 338)"><tspan>CD4</tspan><tspan font-size="4.464" dy="-2.736">+</tspan><tspan dy="2.736">​</tspan><tspan> CD25</tspan><tspan font-size="4.464" dy="-2.736">+</tspan><tspan dy="2.736">​</tspan><tspan> Foxp3</tspan><tspan font-size="4.464" dy="-2.736">+</tspan><tspan dy="2.736">​</tspan><tspan> (×10</tspan><tspan font-size="4.464" dy="-2.736">3</tspan><tspan dy="2.736">​</tspan><tspan>)</tspan></text>
<line x1="248" y1="392" x2="248" y2="474.4" stroke="#222" stroke-width="1.4"/>
<line x1="245.4" y1="392.79999999999995" x2="248" y2="392.79999999999995" stroke="#222" stroke-width="0.9"/>
<text x="241.5" y="394.79999999999995" font-size="5.7" stroke="#222" stroke-width="0.14" text-anchor="end" fill="#222" >80</text>
<line x1="245.4" y1="413.2" x2="248" y2="413.2" stroke="#222" stroke-width="0.9"/>
<text x="241.5" y="415.2" font-size="5.7" stroke="#222" stroke-width="0.14" text-anchor="end" fill="#222" >60</text>
<line x1="245.4" y1="433.59999999999997" x2="248" y2="433.59999999999997" stroke="#222" stroke-width="0.9"/>
<text x="241.5" y="435.59999999999997" font-size="5.7" stroke="#222" stroke-width="0.14" text-anchor="end" fill="#222" >40</text>
<line x1="245.4" y1="454.0" x2="248" y2="454.0" stroke="#222" stroke-width="0.9"/>
<text x="241.5" y="456.0" font-size="5.7" stroke="#222" stroke-width="0.14" text-anchor="end" fill="#222" >20</text>
<line x1="245.4" y1="474.4" x2="248" y2="474.4" stroke="#222" stroke-width="0.9"/>
<text x="241.5" y="476.4" font-size="5.7" stroke="#222" stroke-width="0.14" text-anchor="end" fill="#222" >0</text>
<rect x="251.0" y="460" width="13.0" height="14.399999999999977" fill="#8b8b8b"/>
<rect x="251.25" y="460.25" width="12.5" height="13.899999999999977" fill="none" stroke="#1a1a1a" stroke-width="0.5" opacity="0.6"/>
<line x1="257.5" y1="455.5" x2="257.5" y2="460" stroke="#111" stroke-width="1.3"/>
<line x1="254.1" y1="455.5" x2="260.9" y2="455.5" stroke="#111" stroke-width="1.5"/>
<rect x="269.8" y="434" width="13.0" height="40.39999999999998" fill="#3b3b3b"/>
<rect x="270.05" y="434.25" width="12.5" height="39.89999999999998" fill="none" stroke="#1a1a1a" stroke-width="0.5" opacity="0.6"/>
<line x1="276.3" y1="425" x2="276.3" y2="434" stroke="#111" stroke-width="1.3"/>
<line x1="272.90000000000003" y1="425" x2="279.7" y2="425" stroke="#111" stroke-width="1.5"/>
<rect x="288.3" y="453.2" width="13.0" height="21.19999999999999" fill="#8b8b8b"/>
<rect x="288.55" y="453.45" width="12.5" height="20.69999999999999" fill="none" stroke="#1a1a1a" stroke-width="0.5" opacity="0.6"/>
<line x1="294.8" y1="447.5" x2="294.8" y2="453.2" stroke="#111" stroke-width="1.3"/>
<line x1="291.40000000000003" y1="447.5" x2="298.2" y2="447.5" stroke="#111" stroke-width="1.5"/>
<rect x="307.1" y="416" width="13.0" height="58.39999999999998" fill="#3b3b3b"/>
<rect x="307.35" y="416.25" width="12.5" height="57.89999999999998" fill="none" stroke="#1a1a1a" stroke-width="0.5" opacity="0.6"/>
<line x1="313.6" y1="407.8" x2="313.6" y2="416" stroke="#111" stroke-width="1.3"/>
<line x1="310.20000000000005" y1="407.8" x2="317.0" y2="407.8" stroke="#111" stroke-width="1.5"/>
<rect x="325.9" y="452.2" width="13.0" height="22.19999999999999" fill="#8b8b8b"/>
<rect x="326.15" y="452.45" width="12.5" height="21.69999999999999" fill="none" stroke="#1a1a1a" stroke-width="0.5" opacity="0.6"/>
<line x1="332.4" y1="449.6" x2="332.4" y2="452.2" stroke="#111" stroke-width="1.3"/>
<line x1="329.0" y1="449.6" x2="335.79999999999995" y2="449.6" stroke="#111" stroke-width="1.5"/>
<rect x="344.6" y="416" width="13.0" height="58.39999999999998" fill="#3b3b3b"/>
<rect x="344.85" y="416.25" width="12.5" height="57.89999999999998" fill="none" stroke="#1a1a1a" stroke-width="0.5" opacity="0.6"/>
<line x1="351.1" y1="402.8" x2="351.1" y2="416" stroke="#111" stroke-width="1.3"/>
<line x1="347.70000000000005" y1="402.8" x2="354.5" y2="402.8" stroke="#111" stroke-width="1.5"/>
<line x1="248" y1="474.4" x2="359.8" y2="474.4" stroke="#111" stroke-width="1.4"/>
<path d="M257.5,474.4 V476.9 H276.2 V474.4" fill="none" stroke="#111" stroke-width="0.9"/>
<path d="M295,474.4 V476.9 H313.8 V474.4" fill="none" stroke="#111" stroke-width="0.9"/>
<path d="M332.5,474.4 V476.9 H351.1 V474.4" fill="none" stroke="#111" stroke-width="0.9"/>
<text x="276.3" y="424.3" font-size="7.4" stroke="#222" stroke-width="0.14" font-weight="bold" text-anchor="middle" fill="#222" >*</text>
<text x="313.6" y="407.0" font-size="7.4" stroke="#222" stroke-width="0.14" font-weight="bold" text-anchor="middle" fill="#222" >*</text>
<text x="351.1" y="402.70000000000005" font-size="7.4" stroke="#222" stroke-width="0.14" font-weight="bold" text-anchor="middle" fill="#222" >**</text>
<text x="230.792" y="436" font-size="7.2" text-anchor="middle" textLength="59" lengthAdjust="spacingAndGlyphs" fill="#111" stroke="#111" stroke-width="0.18" transform="rotate(-90 230.792 436)"><tspan>ST2</tspan><tspan font-size="4.464" dy="-2.736">+</tspan><tspan dy="2.736">​</tspan><tspan> Foxp3</tspan><tspan font-size="4.464" dy="-2.736">+</tspan><tspan dy="2.736">​</tspan><tspan> (%)</tspan></text>
<text x="266.9" y="485.6" font-size="6.4" stroke="#222" stroke-width="0.14" text-anchor="middle" fill="#222" >d0</text>
<text x="304.4" y="485.6" font-size="6.4" stroke="#222" stroke-width="0.14" text-anchor="middle" fill="#222" >d2</text>
<text x="341.1" y="485.6" font-size="6.4" stroke="#222" stroke-width="0.14" text-anchor="middle" fill="#222" >d4</text>
<line x1="395.6" y1="390.4" x2="395.6" y2="430" stroke="#222" stroke-width="1.4"/>
<line x1="393.0" y1="393.0" x2="395.6" y2="393.0" stroke="#222" stroke-width="0.9"/>
<text x="389.1" y="395.0" font-size="5.7" stroke="#222" stroke-width="0.14" text-anchor="end" fill="#222" >80</text>
<line x1="393.0" y1="402.2" x2="395.6" y2="402.2" stroke="#222" stroke-width="0.9"/>
<text x="389.1" y="404.2" font-size="5.7" stroke="#222" stroke-width="0.14" text-anchor="end" fill="#222" >70</text>
<line x1="393.0" y1="411.4" x2="395.6" y2="411.4" stroke="#222" stroke-width="0.9"/>
<text x="389.1" y="413.4" font-size="5.7" stroke="#222" stroke-width="0.14" text-anchor="end" fill="#222" >60</text>
<line x1="393.0" y1="420.6" x2="395.6" y2="420.6" stroke="#222" stroke-width="0.9"/>
<text x="389.1" y="422.6" font-size="5.7" stroke="#222" stroke-width="0.14" text-anchor="end" fill="#222" >50</text>
<line x1="393.0" y1="429.8" x2="395.6" y2="429.8" stroke="#222" stroke-width="0.9"/>
<text x="389.1" y="431.8" font-size="5.7" stroke="#222" stroke-width="0.14" text-anchor="end" fill="#222" >40</text>
<line x1="393.20000000000005" y1="430" x2="398.0" y2="430" stroke="#222" stroke-width="0.9"/>
<line x1="395.6" y1="437" x2="395.6" y2="473.9" stroke="#222" stroke-width="1.4"/>
<line x1="393.0" y1="437.59999999999997" x2="395.6" y2="437.59999999999997" stroke="#222" stroke-width="0.9"/>
<text x="389.1" y="439.59999999999997" font-size="5.7" stroke="#222" stroke-width="0.14" text-anchor="end" fill="#222" >20</text>
<line x1="393.0" y1="446.67499999999995" x2="395.6" y2="446.67499999999995" stroke="#222" stroke-width="0.9"/>
<text x="389.1" y="448.67499999999995" font-size="5.7" stroke="#222" stroke-width="0.14" text-anchor="end" fill="#222" >15</text>
<line x1="393.0" y1="455.75" x2="395.6" y2="455.75" stroke="#222" stroke-width="0.9"/>
<text x="389.1" y="457.75" font-size="5.7" stroke="#222" stroke-width="0.14" text-anchor="end" fill="#222" >10</text>
<line x1="393.0" y1="464.825" x2="395.6" y2="464.825" stroke="#222" stroke-width="0.9"/>
<text x="389.1" y="466.825" font-size="5.7" stroke="#222" stroke-width="0.14" text-anchor="end" fill="#222" >5</text>
<line x1="393.0" y1="473.9" x2="395.6" y2="473.9" stroke="#222" stroke-width="0.9"/>
<text x="389.1" y="475.9" font-size="5.7" stroke="#222" stroke-width="0.14" text-anchor="end" fill="#222" >0</text>
<line x1="393.20000000000005" y1="437" x2="398.0" y2="437" stroke="#222" stroke-width="0.9"/>
<rect x="400.9" y="444.6" width="13.0" height="29.299999999999955" fill="#8b8b8b"/>
<rect x="401.15" y="444.85" width="12.5" height="28.799999999999955" fill="none" stroke="#1a1a1a" stroke-width="0.5" opacity="0.6"/>
<line x1="407.4" y1="441.3" x2="407.4" y2="444.6" stroke="#111" stroke-width="1.3"/>
<line x1="404.0" y1="441.3" x2="410.79999999999995" y2="441.3" stroke="#111" stroke-width="1.5"/>
<rect x="419.6" y="424" width="13.0" height="5.600000000000023" fill="#3b3b3b"/>
<rect x="419.85" y="424.25" width="12.5" height="5.100000000000023" fill="none" stroke="#1a1a1a" stroke-width="0.5" opacity="0.6"/>
<line x1="426.1" y1="412.6" x2="426.1" y2="424" stroke="#111" stroke-width="1.3"/>
<line x1="422.70000000000005" y1="412.6" x2="429.5" y2="412.6" stroke="#111" stroke-width="1.5"/>
<rect x="419.6" y="437.6" width="13.0" height="36.299999999999955" fill="#3b3b3b"/>
<rect x="419.85" y="437.85" width="12.5" height="35.799999999999955" fill="none" stroke="#1a1a1a" stroke-width="0.5" opacity="0.6"/>
<rect x="438.3" y="470.3" width="13.0" height="3.599999999999966" fill="#8b8b8b"/>
<rect x="438.55" y="470.55" width="12.5" height="3.099999999999966" fill="none" stroke="#1a1a1a" stroke-width="0.5" opacity="0.6"/>
<line x1="444.8" y1="469" x2="444.8" y2="470.3" stroke="#111" stroke-width="1.3"/>
<line x1="441.40000000000003" y1="469" x2="448.2" y2="469" stroke="#111" stroke-width="1.5"/>
<rect x="457.0" y="455.2" width="13.0" height="18.69999999999999" fill="#3b3b3b"/>
<rect x="457.25" y="455.45" width="12.5" height="18.19999999999999" fill="none" stroke="#1a1a1a" stroke-width="0.5" opacity="0.6"/>
<line x1="463.5" y1="447.7" x2="463.5" y2="455.2" stroke="#111" stroke-width="1.3"/>
<line x1="460.1" y1="447.7" x2="466.9" y2="447.7" stroke="#111" stroke-width="1.5"/>
<rect x="475.8" y="472.3" width="13.0" height="1.599999999999966" fill="#8b8b8b"/>
<rect x="476.05" y="472.55" width="12.5" height="1.099999999999966" fill="none" stroke="#1a1a1a" stroke-width="0.5" opacity="0.6"/>
<line x1="482.3" y1="471.8" x2="482.3" y2="472.3" stroke="#111" stroke-width="1.3"/>
<line x1="478.90000000000003" y1="471.8" x2="485.7" y2="471.8" stroke="#111" stroke-width="1.5"/>
<rect x="494.5" y="462.1" width="13.0" height="11.799999999999955" fill="#3b3b3b"/>
<rect x="494.75" y="462.35" width="12.5" height="11.299999999999955" fill="none" stroke="#1a1a1a" stroke-width="0.5" opacity="0.6"/>
<line x1="501.0" y1="454.2" x2="501.0" y2="462.1" stroke="#111" stroke-width="1.3"/>
<line x1="497.6" y1="454.2" x2="504.4" y2="454.2" stroke="#111" stroke-width="1.5"/>
<line x1="395.6" y1="473.9" x2="510" y2="473.9" stroke="#111" stroke-width="1.4"/>
<path d="M407.4,473.9 V476.4 H426.1 V473.9" fill="none" stroke="#111" stroke-width="0.9"/>
<path d="M444.8,473.9 V476.4 H463.5 V473.9" fill="none" stroke="#111" stroke-width="0.9"/>
<path d="M482.3,473.9 V476.4 H501.0 V473.9" fill="none" stroke="#111" stroke-width="0.9"/>
<text x="426.1" y="412.0" font-size="7.4" stroke="#222" stroke-width="0.14" font-weight="bold" text-anchor="middle" fill="#222" >*</text>
<text x="445.1" y="462.7" font-size="6.2" stroke="#2a2a2a" stroke-width="0.25" font-weight="bold" text-anchor="middle" fill="#2a2a2a" font-style="italic" letter-spacing="0.55">###</text>
<text x="463.5" y="447.20000000000005" font-size="7.4" stroke="#222" stroke-width="0.14" font-weight="bold" text-anchor="middle" fill="#222" >*</text>
<text x="482.6" y="467.6" font-size="6.2" stroke="#2a2a2a" stroke-width="0.25" font-weight="bold" text-anchor="middle" fill="#2a2a2a" font-style="italic" letter-spacing="0.55">###</text>
<text x="377.792" y="433.5" font-size="7.2" text-anchor="middle" textLength="68" lengthAdjust="spacingAndGlyphs" fill="#111" stroke="#111" stroke-width="0.18" transform="rotate(-90 377.792 433.5)"><tspan>ST2</tspan><tspan font-size="4.464" dy="-2.736">+</tspan><tspan dy="2.736">​</tspan><tspan> Foxp3</tspan><tspan font-size="4.464" dy="-2.736">+</tspan><tspan dy="2.736">​</tspan><tspan> (×10</tspan><tspan font-size="4.464" dy="-2.736">2</tspan><tspan dy="2.736">​</tspan><tspan>)</tspan></text>
<text x="416.6" y="486.3" font-size="6.4" stroke="#222" stroke-width="0.14" text-anchor="middle" fill="#222" >d0</text>
<text x="453.8" y="486.3" font-size="6.4" stroke="#222" stroke-width="0.14" text-anchor="middle" fill="#222" >d2</text>
<text x="491.6" y="486.3" font-size="6.4" stroke="#222" stroke-width="0.14" text-anchor="middle" fill="#222" >d4</text>
<text x="348" y="496.9" font-size="8.8" stroke="#222" stroke-width="0.35" textLength="60" lengthAdjust="spacingAndGlyphs" fill="#222" >Days (d) post-TBI</text>
</svg></div>
</body></html>
